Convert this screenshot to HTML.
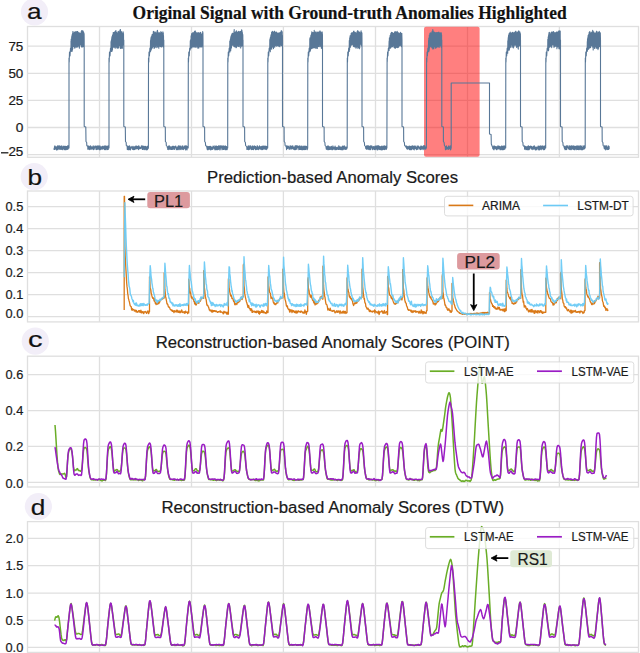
<!DOCTYPE html><html><head><meta charset="utf-8"><style>html,body{margin:0;padding:0;background:#fff;width:640px;height:653px;overflow:hidden}svg{display:block}text{font-family:"Liberation Sans",sans-serif;fill:#1a1a1a;stroke:#1a1a1a;stroke-width:0.2px}</style></head><body>
<svg width="640" height="653" viewBox="0 0 640 653">
<path d="M99.5 26.5V157.3M191.5 26.5V157.3M283.4 26.5V157.3M375.5 26.5V157.3M467.5 26.5V157.3M559.4 26.5V157.3M27.5 46.2H638.5M27.5 73.3H638.5M27.5 100.4H638.5M27.5 127.5H638.5M27.5 154.6H638.5" stroke="#dfdfdf" stroke-width="1.3" fill="none"/>
<rect x="27.5" y="26.5" width="611.0" height="130.8" fill="none" stroke="#dfdfdf" stroke-width="1.3"/>
<text x="23.3" y="50.7" font-size="12.2" text-anchor="end" textLength="14.9" lengthAdjust="spacingAndGlyphs" stroke="#1a1a1a" stroke-width="0.25">75</text>
<text x="23.3" y="77.8" font-size="12.2" text-anchor="end" textLength="14.9" lengthAdjust="spacingAndGlyphs" stroke="#1a1a1a" stroke-width="0.25">50</text>
<text x="23.3" y="104.9" font-size="12.2" text-anchor="end" textLength="14.9" lengthAdjust="spacingAndGlyphs" stroke="#1a1a1a" stroke-width="0.25">25</text>
<text x="23.3" y="132" font-size="12.2" text-anchor="end" textLength="7.6" lengthAdjust="spacingAndGlyphs" stroke="#1a1a1a" stroke-width="0.25">0</text>
<text x="23.3" y="156.3" font-size="12.2" text-anchor="end" textLength="14.9" lengthAdjust="spacingAndGlyphs" stroke="#1a1a1a" stroke-width="0.25">25</text>
<path d="M1 152.8H8.4" stroke="#1a1a1a" stroke-width="1.3"/>
<path d="M99.5 191.0V321.9M191.5 191.0V321.9M283.4 191.0V321.9M375.5 191.0V321.9M467.5 191.0V321.9M559.4 191.0V321.9M27.5 206.7H638.5M27.5 228.7H638.5M27.5 250.6H638.5M27.5 272.6H638.5M27.5 294.7H638.5M27.5 316.6H638.5" stroke="#dfdfdf" stroke-width="1.3" fill="none"/>
<rect x="27.5" y="191.0" width="611.0" height="130.89999999999998" fill="none" stroke="#dfdfdf" stroke-width="1.3"/>
<text x="23.3" y="211.2" font-size="12.2" text-anchor="end" textLength="17.8" lengthAdjust="spacingAndGlyphs" stroke="#1a1a1a" stroke-width="0.25">0.5</text>
<text x="23.3" y="233.2" font-size="12.2" text-anchor="end" textLength="17.8" lengthAdjust="spacingAndGlyphs" stroke="#1a1a1a" stroke-width="0.25">0.4</text>
<text x="23.3" y="255.1" font-size="12.2" text-anchor="end" textLength="17.8" lengthAdjust="spacingAndGlyphs" stroke="#1a1a1a" stroke-width="0.25">0.3</text>
<text x="23.3" y="277.1" font-size="12.2" text-anchor="end" textLength="17.8" lengthAdjust="spacingAndGlyphs" stroke="#1a1a1a" stroke-width="0.25">0.2</text>
<text x="23.3" y="299.2" font-size="12.2" text-anchor="end" textLength="17.8" lengthAdjust="spacingAndGlyphs" stroke="#1a1a1a" stroke-width="0.25">0.1</text>
<text x="23.3" y="318.4" font-size="12.2" text-anchor="end" textLength="17.8" lengthAdjust="spacingAndGlyphs" stroke="#1a1a1a" stroke-width="0.25">0.0</text>
<path d="M99.5 356.2V487.0M191.5 356.2V487.0M283.4 356.2V487.0M375.5 356.2V487.0M467.5 356.2V487.0M559.4 356.2V487.0M27.5 374.6H638.5M27.5 410.6H638.5M27.5 446.4H638.5M27.5 482.4H638.5" stroke="#dfdfdf" stroke-width="1.3" fill="none"/>
<rect x="27.5" y="356.2" width="611.0" height="130.8" fill="none" stroke="#dfdfdf" stroke-width="1.3"/>
<text x="23.3" y="379.1" font-size="12.2" text-anchor="end" textLength="17.8" lengthAdjust="spacingAndGlyphs" stroke="#1a1a1a" stroke-width="0.25">0.6</text>
<text x="23.3" y="415.1" font-size="12.2" text-anchor="end" textLength="17.8" lengthAdjust="spacingAndGlyphs" stroke="#1a1a1a" stroke-width="0.25">0.4</text>
<text x="23.3" y="450.9" font-size="12.2" text-anchor="end" textLength="17.8" lengthAdjust="spacingAndGlyphs" stroke="#1a1a1a" stroke-width="0.25">0.2</text>
<text x="23.3" y="488.2" font-size="12.2" text-anchor="end" textLength="17.8" lengthAdjust="spacingAndGlyphs" stroke="#1a1a1a" stroke-width="0.25">0.0</text>
<path d="M99.5 521.6V652.4M191.5 521.6V652.4M283.4 521.6V652.4M375.5 521.6V652.4M467.5 521.6V652.4M559.4 521.6V652.4M27.5 538.3H638.5M27.5 565.6H638.5M27.5 593.1H638.5M27.5 620.3H638.5M27.5 647.4H638.5" stroke="#dfdfdf" stroke-width="1.3" fill="none"/>
<rect x="27.5" y="521.6" width="611.0" height="130.79999999999995" fill="none" stroke="#dfdfdf" stroke-width="1.3"/>
<text x="23.3" y="542.8" font-size="12.2" text-anchor="end" textLength="17.8" lengthAdjust="spacingAndGlyphs" stroke="#1a1a1a" stroke-width="0.25">2.0</text>
<text x="23.3" y="570.1" font-size="12.2" text-anchor="end" textLength="17.8" lengthAdjust="spacingAndGlyphs" stroke="#1a1a1a" stroke-width="0.25">1.5</text>
<text x="23.3" y="597.6" font-size="12.2" text-anchor="end" textLength="17.8" lengthAdjust="spacingAndGlyphs" stroke="#1a1a1a" stroke-width="0.25">1.0</text>
<text x="23.3" y="624.8" font-size="12.2" text-anchor="end" textLength="17.8" lengthAdjust="spacingAndGlyphs" stroke="#1a1a1a" stroke-width="0.25">0.5</text>
<text x="23.3" y="651.7" font-size="12.2" text-anchor="end" textLength="17.8" lengthAdjust="spacingAndGlyphs" stroke="#1a1a1a" stroke-width="0.25">0.0</text>
<circle cx="34.5" cy="11.8" r="13.6" fill="#f2eef8"/>
<text x="26.9" y="18.6" font-size="22.8" textLength="14.6" lengthAdjust="spacingAndGlyphs" style="fill:#111">a</text>
<circle cx="34.2" cy="176.6" r="13.6" fill="#f2eef8"/>
<text x="27.4" y="185" font-size="22.8" textLength="14.6" lengthAdjust="spacingAndGlyphs" style="fill:#111">b</text>
<circle cx="35.3" cy="341.2" r="13.6" fill="#f2eef8"/>
<text x="28.0" y="346.9" font-size="22.8" textLength="14.6" lengthAdjust="spacingAndGlyphs" style="fill:#111">c</text>
<circle cx="38.4" cy="506.5" r="13.6" fill="#f2eef8"/>
<text x="30.8" y="514.7" font-size="22.8" textLength="14.6" lengthAdjust="spacingAndGlyphs" style="fill:#111">d</text>
<text x="132.6" y="18.6" font-size="18" textLength="434" lengthAdjust="spacingAndGlyphs" style="font-family:'Liberation Serif',serif;font-weight:bold;fill:#111">Original Signal with Ground-truth Anomalies Highlighted</text>
<text x="207" y="182.9" font-size="16" textLength="251" lengthAdjust="spacingAndGlyphs">Prediction-based Anomaly Scores</text>
<text x="155.7" y="348.1" font-size="16" textLength="354" lengthAdjust="spacingAndGlyphs">Reconstruction-based Anomaly Scores (POINT)</text>
<text x="161.5" y="513.1" font-size="16" textLength="342.5" lengthAdjust="spacingAndGlyphs">Reconstruction-based Anomaly Scores (DTW)</text>
<rect x="424" y="26.8" width="55.6" height="130" rx="2" fill="#ff0000" fill-opacity="0.5"/>
<polyline points="54,148.3 54.1,149.5 54.3,149 54.5,146.6 54.6,147 54.8,149.4 54.9,145.7 55,149.1 55.2,149 55.4,147.7 55.5,147 55.6,146.9 55.8,146.8 56,147.6 56.1,147.8 56.2,148 56.4,149.9 56.5,149 56.7,148.3 56.9,149.9 57,146.6 57.1,146.4 57.3,148.3 57.5,145.9 57.6,145.8 57.8,147.9 57.9,147.7 58,149.6 58.2,148.3 58.4,147.9 58.5,147.8 58.6,146.7 58.8,145.7 59,146.5 59.1,148.6 59.2,146.5 59.4,147.3 59.5,145.7 59.7,149.2 59.9,146.3 60,146.8 60.1,149.4 60.3,147.8 60.5,149.3 60.6,148.4 60.8,148.8 60.9,146.1 61,148 61.2,147.8 61.4,149.4 61.5,147.2 61.6,148.2 61.8,145.9 62,147.3 62.1,147.1 62.2,146.3 62.4,149.1 62.5,147.3 62.7,149.8 62.9,148.2 63,148.2 63.1,148.4 63.3,148.5 63.5,146.3 63.6,147.5 63.8,146.7 63.9,147.4 64,146.1 64.2,149.8 64.3,146.6 64.5,148.5 64.7,147 64.8,149.4 65,148.5 65.1,146.3 65.2,149.2 65.4,149.7 65.5,149.5 65.7,148.1 65.8,146.3 66,146.5 66.2,149.6 66.3,148 66.5,146.5 66.6,149.4 66.8,148.4 66.9,148.1 67,147.3 67.2,147.4 67.3,146.7 67.5,145.9 67.7,149.4 67.8,147.7 68,148 68.1,147.1 68.2,148.9 68.4,145.8 68.5,147.3 69,148 69,58 69.2,62 69.5,52 70,56 70.5,48 71,50 71,50 71,41 71.2,51.3 71.2,39.1 71.4,49.8 71.5,39.2 71.5,48.8 71.7,36.8 71.8,48.6 71.9,35.7 72,51.5 72,35.9 72.2,48.1 72.2,34.6 72.4,49.4 72.5,33.8 72.5,49.9 72.7,33.1 72.8,48.5 72.9,31.5 73,44.7 73,31.5 73.2,45.5 73.2,33.3 73.4,46.4 73.5,33.3 73.5,46.1 73.7,33.9 73.8,46.4 73.9,33.7 74,46.1 74,32.8 74.2,46.2 74.2,32.8 74.4,45.3 74.5,32.1 74.5,47.3 74.7,32.6 74.8,48.3 74.9,33.4 75,46.3 75,32.8 75.2,46.7 75.2,32.5 75.4,45.2 75.5,31.7 75.5,45.7 75.7,31.9 75.8,45.4 75.9,32.2 76,47.2 76,32.4 76.2,44.5 76.2,32.3 76.4,47.3 76.5,31.7 76.5,45.1 76.7,31.9 76.8,46 76.9,32.3 77,46.3 77,31.6 77.2,45.4 77.2,31.5 77.4,46.2 77.5,31.6 77.5,46.9 77.7,32.3 77.8,44.5 77.9,31.9 78,46 78,32.9 78.2,44.2 78.2,32.9 78.4,45.8 78.5,34.3 78.5,44.7 78.7,32.9 78.8,44.2 78.9,33.7 79,47.1 79,32.6 79.2,45.8 79.2,33.8 79.4,48.2 79.5,34.2 79.5,47 79.7,33.4 79.8,44.7 79.9,34.4 80,43.9 80,34.6 80.2,44.5 80.2,34.1 80.4,44.5 80.5,33.3 80.6,44.2 80.7,34.1 80.8,44.6 80.9,32.9 81,45.6 81.1,32.4 81.2,46.3 81.2,31.6 81.4,46.3 81.5,32.8 81.6,46.9 81.7,30.6 81.8,45 81.9,32.2 82,43 82.1,32 82.2,43.7 82.2,30.5 82.4,47 82.5,32.8 82.6,45.5 82.7,31.8 82.8,45.5 82.9,31.9 83,44.7 83.1,31 83.2,45.8 83.2,32.6 83.4,46.6 83.5,32.4 83.6,44.3 83.7,32.4 83.8,45.2 83.9,34 84,44.7 84.1,33.6 84.2,40 84.2,126.5 85.8,127 86,141.5 86.7,142.5 86.8,145.5 87.8,146.5 87.8,149.3 88,147.4 88.1,145.7 88.3,149 88.4,146.7 88.6,146.3 88.8,149.1 88.9,148.6 89,146.6 89.2,146.8 89.3,149.6 89.5,146.8 89.6,148.7 89.8,146.2 89.9,149.1 90.1,146.2 90.2,147.9 90.4,145.8 90.5,148 90.7,149.3 90.8,146.1 91,146.9 91.1,148.9 91.3,148.3 91.4,147 91.6,148.3 91.8,147.6 91.9,149.3 92,146.9 92.2,148.9 92.3,148.4 92.5,148.8 92.6,147.3 92.8,148.7 92.9,148.6 93.1,147.3 93.2,145.8 93.4,149.7 93.5,148.7 93.7,146.6 93.8,148.8 94,146.9 94.1,147.7 94.3,149.3 94.4,147.6 94.6,146.9 94.8,147 94.9,146 95,146.6 95.2,146.8 95.3,146.4 95.5,146 95.6,147.7 95.8,146.6 95.9,148.8 96.1,149.6 96.2,146.8 96.4,148.1 96.5,147.8 96.7,146 96.8,146.2 97,149.4 97.1,147.7 97.3,149.1 97.4,146 97.6,148.2 97.8,149.3 97.9,149.3 98,145.7 98.2,147.9 98.3,147.2 98.5,148.9 98.6,146 98.8,146.8 98.9,149.1 99.1,147.7 99.2,147.6 99.4,149.8 99.5,147 99.7,145.9 99.8,147.3 100,146.3 100.1,146 100.3,148.1 100.4,149.7 100.6,148.1 100.8,148.4 100.9,147.1 101,148.1 101.2,148.9 101.3,148.2 101.5,149.1 101.6,148 101.8,146.5 101.9,148.1 102.1,147.8 102.2,146.4 102.4,148.3 102.5,149.1 102.7,146.3 102.8,148 103,148.8 103.1,147.4 103.3,146.8 103.4,147.3 103.6,148 103.8,148.6 103.9,148 104,146.1 104.2,149.1 104.3,149.6 104.5,146.1 104.6,146.7 104.8,146.4 104.9,149.3 105.1,149.5 105.2,145.9 105.4,147.1 105.5,146.5 105.7,147.7 105.8,149.6 106,146 106.1,146.4 106.3,147.7 106.4,147.9 106.6,148.8 106.8,147.5 106.9,146.3 107,147.2 107.2,149.8 107.3,148.9 107.5,146.2 107.6,149.1 107.8,147 107.9,149 108.1,145.8 108.2,149.4 108.4,146.4 108.5,147.6 109,148 109,58 109.2,62 109.5,52 110,56 110.5,48 111,50 111,48.7 111,41.8 111.2,49.2 111.2,40.8 111.4,51.5 111.5,39.7 111.5,50.9 111.7,38.5 111.8,50.9 111.9,36.8 112,51.3 112,36.8 112.2,50.8 112.2,36.7 112.4,49 112.5,35 112.5,49.6 112.7,36 112.8,47.5 112.9,35.7 113,45.4 113,34.3 113.2,44.6 113.2,32.5 113.4,45.9 113.5,32.5 113.5,45 113.7,33.9 113.8,47.1 113.9,32.9 114,43.5 114,34.2 114.2,44.5 114.2,33.5 114.4,44.9 114.5,32.1 114.5,47.2 114.7,32.3 114.8,44.9 114.9,31.7 115,44.8 115,32.7 115.2,48.3 115.2,32.8 115.4,45.7 115.5,31 115.5,47.1 115.7,33.3 115.8,47 115.9,30.5 116,46.5 116,30.7 116.2,44.8 116.2,32.2 116.4,47.2 116.5,32.2 116.5,46.7 116.7,33.3 116.8,47.1 116.9,33.7 117,45.2 117,34.6 117.2,48.3 117.2,33.2 117.4,48 117.5,34.5 117.5,46.1 117.7,32.8 117.8,47.9 117.9,31.7 118,47.5 118,33.2 118.2,45.8 118.2,32.7 118.4,45.2 118.5,32 118.5,48 118.7,31.2 118.8,47.4 118.9,32.8 119,44.1 119,33.1 119.2,43.6 119.2,32.6 119.4,43.8 119.5,34.2 119.5,45.7 119.7,32.3 119.8,44.8 119.9,30.1 120,45.4 120,30.7 120.2,44.8 120.2,30.6 120.4,48.4 120.5,29.5 120.6,47 120.7,32.5 120.8,47.2 120.9,31.4 121,44 121.1,33.7 121.2,48 121.2,33 121.4,47.1 121.5,34 121.6,47.2 121.7,31.9 121.8,47.6 121.9,33 122,48.4 122.1,34 122.2,48.3 122.2,35.8 122.4,48.1 122.5,33.7 122.6,44.4 122.7,33.4 122.8,42.8 122.9,33.7 123,45 123.1,31.7 123.2,42.7 123.2,32.1 123.4,43.8 123.5,33.5 123.6,44.5 123.8,40 123.8,126.5 125.3,127 125.5,141.5 126.2,142.5 126.3,145.5 127.2,146.5 127.3,149.5 127.5,146.2 127.6,147.9 127.8,145.9 127.9,149.6 128.1,146.4 128.2,147.4 128.4,148 128.5,148.7 128.7,149.6 128.8,148.8 129,147.2 129.2,146 129.3,148.7 129.4,149.8 129.6,145.8 129.8,149 129.9,146.4 130,147.6 130.2,147.9 130.3,148.3 130.5,149.9 130.7,148.6 130.8,147.3 130.9,148.7 131.1,147.7 131.2,147.4 131.4,147.2 131.5,147.8 131.7,146.9 131.8,146.7 132,146.3 132.2,147.5 132.3,146.9 132.4,149.2 132.6,149.3 132.8,147.1 132.9,148.3 133,149.5 133.2,147.2 133.3,148 133.5,147.6 133.7,148.4 133.8,149.7 133.9,146.3 134.1,149.8 134.2,148.5 134.4,149 134.5,148.4 134.7,149.4 134.8,147.1 135,148.7 135.2,146.8 135.3,147.8 135.4,148.6 135.6,146.5 135.8,146 135.9,149 136,149.1 136.2,148.5 136.3,147.1 136.5,148.5 136.7,146.1 136.8,148.5 136.9,148.1 137.1,148.3 137.2,147.6 137.4,146.6 137.5,148.7 137.7,147.6 137.8,148.8 138,147.2 138.2,146.1 138.3,148 138.4,148.3 138.6,149.6 138.8,149.4 138.9,145.9 139,148.9 139.2,146.8 139.3,148.6 139.5,147.3 139.7,147.1 139.8,147.8 139.9,147.9 140.1,148.6 140.2,148.4 140.4,148.5 140.5,147.3 140.7,148.5 140.8,147.2 141,148.3 141.2,147.6 141.3,148.1 141.4,145.8 141.6,147.8 141.8,146.6 141.9,147.3 142,146 142.2,148.5 142.3,149.5 142.5,147.2 142.7,146.1 142.8,148.3 142.9,146.2 143.1,149.4 143.2,146.2 143.4,147.2 143.5,147.8 143.7,146.2 143.8,147 144,146.9 144.2,148.7 144.3,149.8 144.4,147.2 144.6,149 144.8,146.3 144.9,148.1 145,147.5 145.2,146.9 145.3,149.2 145.5,148.8 145.7,146.3 145.8,146.9 145.9,149.1 146.1,149.9 146.2,148.3 146.4,149.4 146.5,149.8 146.7,148.8 146.8,148.4 147,146.6 147.2,147.3 147.3,148.3 147.4,149.6 147.6,147 147.8,147.4 147.9,145.8 148,148.6 148.4,148 148.5,58 148.8,62 149,52 149.4,56 149.9,48 150.4,50 150.4,51.7 150.5,40.6 150.6,50 150.8,39.1 150.8,50.7 150.9,38.2 151,49.9 151.1,37.1 151.2,49.5 151.3,36.9 151.4,49.2 151.5,36.5 151.6,47.8 151.8,37.5 151.8,47.4 151.9,35.6 152,47.4 152.1,34.6 152.2,47.6 152.3,36.4 152.4,48 152.5,34.2 152.6,46.2 152.8,36.3 152.8,43.6 152.9,35 153,45 153.1,34.9 153.2,44.4 153.3,31.6 153.4,46.4 153.5,33.1 153.6,46.3 153.8,32.6 153.8,45.9 153.9,31.4 154,48.2 154.1,32.5 154.2,44.5 154.3,32.8 154.4,48.2 154.5,33.5 154.6,47.4 154.8,32.5 154.8,47.4 154.9,33.1 155,45.5 155.1,33.6 155.2,47.2 155.3,32.1 155.4,44.7 155.5,32.7 155.6,46.8 155.8,32.7 155.8,43.1 155.9,34.5 156,44.1 156.1,35 156.2,43.5 156.3,35.5 156.4,44.6 156.5,34.2 156.6,45.3 156.8,33 156.8,47.6 156.9,32 157,45.9 157.1,30.9 157.2,47.1 157.3,30.8 157.4,45.7 157.5,30.4 157.6,43.9 157.8,31.9 157.8,44.3 157.9,32.4 158,46.7 158.1,33.9 158.2,45.5 158.3,34.1 158.4,46.4 158.5,34.1 158.6,45 158.8,34.1 158.8,48.3 158.9,32.7 159,44.8 159.1,34 159.2,46.2 159.3,32.6 159.4,45.8 159.5,33.9 159.6,45.4 159.8,34.7 159.8,43.7 159.9,33.9 160,43.3 160.1,33.3 160.2,46.5 160.3,34.4 160.4,43.5 160.5,33 160.6,44.2 160.8,31.7 160.8,46.1 160.9,31.8 161,44.3 161.1,33.5 161.2,47.1 161.3,33.2 161.4,46.7 161.5,32.2 161.6,45.2 161.8,33.4 161.8,43.8 161.9,34.2 162,45.6 162.1,33.3 162.2,46.2 162.3,33.8 162.4,45 162.5,34.3 162.6,45.3 162.8,32.8 162.8,45.4 162.9,31.7 163,45.7 163.1,33.4 163.2,46.9 163.3,32.8 163.4,46.4 163.5,35.5 163.6,45.9 163.8,40 163.8,126.5 165.3,127 165.4,141.5 166.2,142.5 166.3,145.5 167.2,146.5 167.3,147.3 167.5,148.1 167.7,148 167.8,149.5 167.9,149.2 168.1,148.8 168.2,149.6 168.4,146 168.5,148.9 168.7,147.6 168.8,148.9 169,146.9 169.2,147.7 169.3,149.2 169.4,145.8 169.6,146.9 169.8,147.8 169.9,149.3 170,146.8 170.2,149.2 170.3,146.7 170.5,147 170.7,148 170.8,148.4 170.9,149.4 171.1,149.4 171.2,146.8 171.4,148.8 171.5,148.4 171.7,147.3 171.8,149 172,149.5 172.2,147.7 172.3,149.5 172.4,146.2 172.6,146.4 172.8,148.9 172.9,147 173,148.2 173.2,147.8 173.3,146.3 173.5,148.9 173.7,148.8 173.8,146.3 173.9,146.8 174.1,149.1 174.2,149.5 174.4,149.4 174.5,147.8 174.7,147.2 174.8,147.6 175,146.4 175.2,147.8 175.3,146.7 175.4,146.4 175.6,147.3 175.8,146 175.9,147.7 176,148.6 176.2,148.4 176.3,149.8 176.5,149.4 176.7,148.4 176.8,149.5 176.9,147.6 177.1,149.1 177.2,146.9 177.4,147.9 177.5,149.8 177.7,148.2 177.8,147.8 178,149 178.2,147 178.3,149.2 178.4,145.8 178.6,146.7 178.8,146.4 178.9,146.8 179,149.7 179.2,145.8 179.3,147 179.5,148.1 179.7,148.7 179.8,148.9 179.9,147.3 180.1,146.6 180.2,149.3 180.4,146.2 180.5,146 180.7,146.7 180.8,147.8 181,149.7 181.2,148.8 181.3,148.1 181.4,147.9 181.6,148.6 181.8,148.3 181.9,147.1 182,146.1 182.2,146.5 182.3,149 182.5,148.4 182.7,149 182.8,145.9 182.9,149.5 183.1,147.3 183.2,149.6 183.4,148.2 183.5,148 183.7,149.1 183.8,148.3 184,148.5 184.2,146.4 184.3,148.2 184.4,147.2 184.6,146 184.8,146.3 184.9,147.7 185,146.8 185.2,148.9 185.3,146.2 185.5,145.8 185.7,149.9 185.8,147 185.9,147.8 186.1,146.6 186.2,146.6 186.4,147.4 186.5,149 186.7,145.9 186.8,149.2 187,149.9 187.2,148 187.3,147.2 187.4,146.7 187.6,146.5 187.8,147.1 188.2,148 188.3,58 188.5,62 188.8,52 189.2,56 189.7,48 190.2,50 190.2,47.9 190.3,40.8 190.4,48.5 190.5,40.5 190.6,47.4 190.7,39.5 190.8,47.5 190.9,39.9 191,48.3 191.1,35.9 191.2,46.9 191.3,36.5 191.4,46.4 191.5,34.5 191.6,47.6 191.7,33.5 191.8,45 191.9,34.8 192,47.7 192.1,34.6 192.2,44.2 192.3,34.1 192.4,46.7 192.5,33.8 192.6,46.6 192.7,32.8 192.8,45.6 192.9,33 193,44.5 193.1,32.4 193.2,45.5 193.3,35.4 193.4,43.5 193.5,35.1 193.6,46.9 193.7,33.3 193.8,45.4 193.9,34.5 194,46.8 194.1,32.9 194.2,47 194.3,33.9 194.4,45.1 194.5,31.6 194.6,46.3 194.7,31.9 194.8,47 194.9,32.1 195,46.4 195.1,30.9 195.2,45.2 195.3,31.8 195.4,45.3 195.5,31.5 195.6,46.5 195.7,32 195.8,45.9 195.9,32.9 196,47.4 196.1,32.6 196.2,47.1 196.3,34 196.4,43.4 196.5,34.7 196.6,45.5 196.7,33.4 196.8,46.2 196.9,34.8 197,45.6 197.1,34.4 197.2,46 197.3,32.7 197.4,45.9 197.5,33.5 197.6,47.1 197.7,33.6 197.8,48.1 197.9,33.1 198,47.7 198.1,34.1 198.2,46.9 198.3,34.7 198.4,46.4 198.5,34.2 198.6,47.9 198.7,32.5 198.8,48.1 198.9,34.1 199,47.5 199.1,33.3 199.2,44.9 199.3,33.2 199.4,43.8 199.5,33.7 199.6,43.7 199.7,33.4 199.8,46.3 199.9,33.2 200,46.5 200.1,32.8 200.2,45.6 200.3,34.7 200.4,46.9 200.5,33.6 200.6,45.4 200.7,32.4 200.8,46.5 200.9,33.4 201,45.5 201.1,33.7 201.2,44.6 201.3,33.7 201.4,44.9 201.5,34.4 201.6,46.9 201.7,35.2 201.8,47 201.9,34.5 202,43.8 202.1,35.1 202.2,45.7 202.3,34.2 202.4,44.7 202.5,33.4 202.6,45.1 202.7,31.5 202.8,44.6 202.9,32.5 203,40 203,126.5 204.6,127 204.7,141.5 205.4,142.5 205.6,145.5 206.5,146.5 206.6,146 206.8,146.7 206.9,147.9 207,148.2 207.2,149.4 207.3,149.3 207.5,149.8 207.7,149.4 207.8,147.6 207.9,146.3 208.1,149.7 208.2,146.7 208.4,148.3 208.5,146.8 208.7,149.1 208.8,146.5 209,147.5 209.2,146.6 209.3,149.3 209.4,148.3 209.6,148.3 209.8,147 209.9,146.4 210,149.3 210.2,148.9 210.3,148.8 210.5,149.9 210.7,148.1 210.8,146.4 210.9,148.3 211.1,146.9 211.2,147.9 211.4,147.6 211.5,148.1 211.7,149.6 211.8,149.1 212,147.4 212.2,149.1 212.3,149.3 212.4,149 212.6,148 212.8,149.5 212.9,147.8 213,146.1 213.2,146.8 213.3,148.5 213.5,147.3 213.7,147.5 213.8,147.4 213.9,146.5 214.1,146.1 214.2,145.9 214.4,148.5 214.5,147.1 214.7,147.6 214.8,149.6 215,148.3 215.2,149.1 215.3,148.9 215.4,149.7 215.6,146 215.8,147.3 215.9,149.7 216,147.7 216.2,149.7 216.3,146.5 216.5,146 216.7,149.5 216.8,147.4 216.9,147.8 217.1,149.6 217.2,146.6 217.4,149.8 217.5,147.4 217.7,146.7 217.8,146.7 218,147.9 218.2,147.7 218.3,149.4 218.4,145.9 218.6,145.9 218.8,146.3 218.9,148.2 219,149 219.2,147.7 219.3,148.3 219.5,148.4 219.7,145.8 219.8,146.7 219.9,149.9 220.1,147.1 220.2,149.7 220.4,147.8 220.5,146.6 220.7,145.7 220.8,146.6 221,147.1 221.2,147.5 221.3,147.6 221.4,148 221.6,147.7 221.8,145.8 221.9,146.8 222,149.7 222.2,145.8 222.3,148.8 222.5,147.7 222.7,148.7 222.8,147.1 222.9,147.3 223.1,147.9 223.2,149.5 223.4,147.1 223.5,146.1 223.7,145.9 223.8,149.4 224,147 224.2,146.2 224.3,148.2 224.4,149.2 224.6,148.2 224.8,146.3 224.9,147.4 225,146.8 225.2,145.8 225.3,149.8 225.5,147.6 225.7,146.3 225.8,149.4 225.9,149.8 226.1,149.1 226.2,146.8 226.4,146.5 226.5,147.9 226.7,148.2 226.8,149.4 227,149.8 227.2,149.5 227.3,147.1 227.7,148 227.8,58 228,62 228.3,52 228.7,56 229.2,48 229.7,50 229.7,50.6 229.8,41.1 229.9,51.9 230,41.3 230.1,50.3 230.2,41.4 230.3,48.5 230.4,39.1 230.5,49.5 230.6,38.6 230.7,50.7 230.8,36.7 230.9,48.2 231,38.1 231.1,48.7 231.2,36 231.3,45.6 231.4,35.1 231.5,47.4 231.6,35 231.7,45.5 231.8,35 231.9,44.7 232,34.1 232.1,43 232.2,33.4 232.3,45.3 232.4,34.4 232.5,44.4 232.6,34 232.7,44.7 232.8,33.4 232.9,43.2 233,34.5 233.1,45.2 233.2,35 233.3,44.9 233.4,34.5 233.5,44 233.6,34 233.7,45.5 233.8,32.7 233.9,46.4 234,31.1 234.1,45.2 234.2,29.6 234.3,45.5 234.4,32.3 234.5,44 234.6,32.9 234.7,44.9 234.8,33.1 234.9,46.9 235,32.5 235.1,45.1 235.2,35.4 235.3,46.2 235.4,35.2 235.5,45.5 235.6,32 235.7,46.7 235.8,33.6 235.9,45.9 236,33 236.1,47.7 236.2,31 236.3,45.5 236.4,30.8 236.5,47.2 236.6,32.4 236.7,46.8 236.8,32.6 236.9,46.5 237,33 237.1,45.9 237.2,32.4 237.3,43.4 237.4,32.7 237.5,42.7 237.6,33.1 237.7,43.6 237.8,33 237.9,44.9 238,33.4 238.1,46.1 238.2,31.3 238.3,45.5 238.4,33.4 238.5,45.2 238.6,33.7 238.7,46.4 238.8,32 238.9,45 239,32 239.1,43.6 239.2,31.6 239.3,46.7 239.4,32 239.5,44.3 239.6,31.7 239.7,43.3 239.8,32.6 239.9,44 240,32.3 240.1,45 240.2,31.9 240.3,44.5 240.4,31.8 240.5,45.5 240.6,31.9 240.7,48 240.8,32.9 240.9,45.5 241,32.5 241.1,46.5 241.2,31.1 241.3,43.9 241.4,31.2 241.5,45.4 241.6,29.7 241.7,44.6 241.8,30.1 241.9,46 242,30.8 242.1,45.3 242.2,32.7 242.3,45.6 242.4,32.5 242.5,44.2 242.6,34.5 242.7,45.4 242.8,34.5 242.9,46 243,40 243,126.5 244.6,127 244.7,141.5 245.4,142.5 245.6,145.5 246.5,146.5 246.6,146.7 246.8,146.7 246.9,149.5 247,149.1 247.2,149.5 247.3,149.2 247.5,149.1 247.7,147.5 247.8,148.9 247.9,146.4 248.1,148.5 248.2,145.9 248.4,149.8 248.5,149.4 248.7,146.4 248.8,148.9 249,149.2 249.2,145.9 249.3,148.1 249.4,147.5 249.6,148.3 249.8,149.4 249.9,148.7 250,146.6 250.2,148 250.3,148.1 250.5,145.7 250.7,146.3 250.8,147.2 250.9,146.4 251.1,146.7 251.2,148.5 251.4,149.7 251.5,147.6 251.7,148.4 251.8,148.9 252,148.5 252.2,148.5 252.3,145.7 252.4,149.4 252.6,146.4 252.8,146.5 252.9,147.8 253,148.2 253.2,148.9 253.3,146.9 253.5,149.7 253.7,148.3 253.8,149.2 253.9,147.7 254.1,146 254.2,145.8 254.4,148.4 254.5,147.5 254.7,147.6 254.8,147.1 255,146.4 255.2,147.7 255.3,146.8 255.4,149.4 255.6,146.5 255.8,149.8 255.9,149.3 256.1,147.3 256.2,148.9 256.4,148.1 256.5,147.7 256.6,149.1 256.8,149.2 256.9,146.5 257.1,149.5 257.2,145.8 257.4,145.7 257.6,147.7 257.7,147 257.9,147.5 258,147.7 258.1,147.7 258.3,149.5 258.4,149.6 258.6,147.2 258.8,146.9 258.9,148.4 259.1,146.5 259.2,147.4 259.4,148.7 259.5,145.7 259.6,148.9 259.8,148.8 259.9,147.3 260.1,146.7 260.2,148 260.4,146.9 260.6,149.1 260.7,148.2 260.9,147 261,149.1 261.1,148.3 261.3,146.3 261.4,147.4 261.6,147.8 261.8,149.7 261.9,147 262.1,147.6 262.2,149.8 262.4,147.5 262.5,149.2 262.6,146.1 262.8,147.4 262.9,146.5 263.1,149.4 263.2,148 263.4,146.6 263.6,146.1 263.7,147.5 263.9,146.1 264,147.7 264.1,148.8 264.3,147 264.4,146.4 264.6,147.2 264.8,146.4 264.9,149.2 265.1,146.1 265.2,148.8 265.4,147.1 265.5,148.8 265.6,148.9 265.8,146.3 265.9,148.9 266.1,149.7 266.2,148.1 266.4,148.4 266.6,147.1 266.7,146.4 266.9,148.8 267,149.1 267.1,146.6 267.3,146.2 267.7,148 267.8,58 268,62 268.3,52 268.7,56 269.2,48 269.7,50 269.7,50.4 269.8,39.7 269.9,48.9 270,38.9 270.1,49.4 270.2,38.6 270.3,51.8 270.4,37.3 270.5,48.9 270.6,38.1 270.7,48 270.8,35.9 270.9,48.4 271,34.8 271.1,47.1 271.2,34.7 271.3,47.2 271.4,34.3 271.5,47.5 271.6,32.3 271.7,49.3 271.8,32.6 271.9,44.9 272,33.1 272.1,46.8 272.2,31.7 272.3,45.4 272.4,31.2 272.5,45.8 272.6,32.1 272.7,44.9 272.8,32.8 272.9,46.2 273,33.8 273.1,47.4 273.2,32.1 273.3,45.5 273.4,32.9 273.5,48.6 273.6,33.7 273.7,46.6 273.8,32.7 273.9,44.2 274,31.8 274.1,44.4 274.2,31.9 274.3,44.5 274.4,32.3 274.5,43.6 274.6,31.3 274.7,47.3 274.8,31.3 274.9,46.1 275,33.9 275.1,45.9 275.2,32.7 275.3,44.4 275.4,32.6 275.5,45.8 275.6,33.9 275.7,45.3 275.8,33.9 275.9,45.3 276,33.1 276.1,44.7 276.2,34 276.3,45.1 276.4,34.7 276.5,44.9 276.6,32 276.7,46.3 276.8,33.1 276.9,45.1 277,33.4 277.1,45.5 277.2,33.2 277.3,44.1 277.4,33.2 277.5,43.4 277.6,34.1 277.7,45.6 277.8,34.1 277.9,43.8 278,34.2 278.1,44.3 278.2,32.9 278.3,46 278.4,35.2 278.5,45.9 278.6,33.2 278.7,43.6 278.8,34.7 278.9,46.3 279,33.6 279.1,45.1 279.2,33.2 279.3,46 279.4,33.4 279.5,44.9 279.6,33 279.7,45 279.8,32.6 279.9,46.7 280,33.7 280.1,43.4 280.2,33.3 280.3,44.5 280.4,32.3 280.5,43.8 280.6,32.5 280.7,45.1 280.8,31.9 280.9,44.1 281,31.9 281.1,44.1 281.2,30.7 281.3,43.6 281.4,31.8 281.5,45.8 281.6,30.9 281.7,45.6 281.8,31.7 281.9,45.1 282,32 282.1,43.8 282.2,31.9 282.3,44.8 282.4,35 282.5,40 282.5,126.5 284.1,127 284.2,141.5 284.9,142.5 285.1,145.5 286,146.5 286.1,146.3 286.2,146 286.4,148 286.6,149.7 286.7,145.9 286.9,148.4 287,145.8 287.2,148 287.3,146.2 287.5,148.5 287.6,147.2 287.8,148.4 287.9,146.8 288.1,146 288.2,146.5 288.4,146.9 288.5,146.4 288.7,146.5 288.8,148 289,147.5 289.1,149.2 289.2,147.8 289.4,148 289.6,148.7 289.7,149.3 289.9,148.2 290,145.9 290.2,147.6 290.3,145.8 290.5,148.2 290.6,146 290.8,148 290.9,146.3 291.1,149.3 291.2,146.1 291.4,148.5 291.5,148.7 291.7,146.9 291.8,148.2 292,147.1 292.1,146.8 292.2,146.8 292.4,145.8 292.6,148.5 292.7,146 292.9,146.5 293,146.1 293.2,149.1 293.3,147.9 293.5,147.7 293.6,148.1 293.8,149.1 293.9,148.3 294.1,147.9 294.2,147 294.4,147.9 294.5,149.8 294.7,148.1 294.8,147.7 295,149.4 295.1,145.9 295.2,146 295.4,149 295.6,149.7 295.7,145.9 295.9,145.8 296,145.7 296.2,148.1 296.3,146.3 296.5,148.1 296.6,148.5 296.8,145.8 296.9,149.4 297.1,146.8 297.2,148 297.4,147.2 297.5,147.1 297.7,147.4 297.8,145.7 298,147.5 298.1,146.8 298.2,147.2 298.4,146.4 298.6,147.1 298.7,148.6 298.9,149.8 299,146.5 299.2,149.3 299.3,148.3 299.5,146.1 299.6,145.8 299.8,149.4 299.9,146.7 300.1,146.1 300.2,148.5 300.4,148.7 300.5,149.5 300.7,147.8 300.8,147 301,147 301.1,146.6 301.2,148.4 301.4,149.7 301.6,146.1 301.7,147.3 301.9,147.2 302,146 302.2,148.2 302.3,149.8 302.5,146.9 302.6,148.8 302.8,149.5 302.9,146.8 303.1,149.6 303.2,148.8 303.4,148.4 303.5,146.5 303.7,146.9 303.8,146.1 304,149.5 304.1,149.1 304.2,146.1 304.4,147.9 304.6,146.6 304.7,148.9 304.9,148.1 305,149.7 305.2,148.8 305.3,146.1 305.5,147.3 305.6,148.1 305.8,149.5 305.9,147.3 306.1,146.5 306.2,146.9 306.4,146.7 306.5,146.3 306.7,147.1 306.8,146.7 307,147.8 307.1,149.5 307.2,149.7 307.7,148 307.8,58 308,62 308.3,52 308.7,56 309.2,48 309.7,50 309.7,51.7 309.8,38.7 309.9,51 310,37.8 310.1,50.2 310.2,39.3 310.3,50.9 310.4,37.7 310.5,50 310.6,38.4 310.7,48.9 310.8,35.8 310.9,48.9 311,35 311.1,48.5 311.2,35.6 311.3,46.8 311.4,35.1 311.5,46.1 311.6,33.4 311.7,48.5 311.8,31.8 311.9,47.4 312,33.9 312.1,45.7 312.2,34.7 312.3,45.9 312.4,34 312.5,48.1 312.6,32.6 312.7,47.8 312.8,34.1 312.9,45.7 313,33.1 313.1,46.6 313.2,32.6 313.3,47.6 313.4,34.6 313.5,47.4 313.6,33 313.7,47.1 313.8,33.6 313.9,47.4 314,33.3 314.1,47.9 314.2,30.4 314.3,45.6 314.4,33.4 314.5,44.9 314.6,31.7 314.7,47.5 314.8,33.6 314.9,45.5 315,34.4 315.1,47.3 315.2,32.9 315.3,45.2 315.4,32.3 315.5,44.6 315.6,32.2 315.7,45.3 315.8,34 315.9,48.4 316,31.8 316.1,48 316.2,34.8 316.3,46.4 316.4,34.1 316.5,47 316.6,33.8 316.7,46 316.8,32.8 316.9,45.8 317,33.1 317.1,45.4 317.2,34.1 317.3,48.4 317.4,32.9 317.5,45.3 317.6,32 317.7,44.5 317.8,33 317.9,46.8 318,33 318.1,46.2 318.2,32.5 318.3,45.9 318.4,32.6 318.5,46.5 318.6,32.1 318.7,44.5 318.8,32.2 318.9,43.5 319,32.8 319.1,44.8 319.2,32.3 319.3,44 319.4,31.8 319.5,42.3 319.6,32.8 319.7,46.6 319.8,31.4 319.9,43.6 320,30.9 320.1,44.2 320.2,31.4 320.3,46.2 320.4,33.6 320.5,44.4 320.6,34.2 320.7,45.2 320.8,32.4 320.9,45.6 321,33.7 321.1,45.3 321.2,33.1 321.3,48.1 321.4,32.9 321.5,44.8 321.6,33.9 321.7,46.6 321.8,32.6 321.9,48.4 322,31.9 322.1,44.9 322.2,32 322.3,48.8 322.4,33.7 322.5,40 322.5,126.5 324.1,127 324.2,141.5 324.9,142.5 325.1,145.5 326,146.5 326.1,148.3 326.2,147.5 326.4,149.4 326.6,148.7 326.7,147.5 326.9,146.9 327,146.3 327.2,147 327.3,147.2 327.5,146 327.6,149.6 327.8,146.8 327.9,148 328.1,146 328.2,148 328.4,148.4 328.5,146 328.7,149.8 328.8,146.4 329,146.8 329.1,148.8 329.2,147.1 329.4,149.4 329.6,146.7 329.7,147 329.9,148.6 330,149.3 330.2,149.4 330.3,146.9 330.5,147.9 330.6,147.4 330.8,148.5 330.9,146.7 331.1,149.2 331.2,148.7 331.4,146.4 331.5,147 331.7,147.1 331.8,149.6 332,147.6 332.1,148.3 332.2,149.6 332.4,147.4 332.6,149.7 332.7,146.9 332.9,145.8 333,146.1 333.2,148.6 333.3,147.3 333.5,149.2 333.6,147.9 333.8,148.6 333.9,147.2 334.1,148.2 334.2,148.6 334.4,147.3 334.5,147.8 334.7,149.2 334.8,149.6 335,147.2 335.1,146 335.2,149.2 335.4,147.6 335.6,149.8 335.7,148.9 335.9,147.2 336,149.3 336.2,148 336.3,148.7 336.5,149.4 336.6,148.1 336.8,149.7 336.9,147.4 337.1,147.3 337.2,148.4 337.4,147.4 337.5,148.7 337.7,147.9 337.8,148.8 338,149.2 338.1,148.1 338.2,149.5 338.4,149 338.6,149.3 338.7,145.8 338.9,145.8 339,148.4 339.2,147.1 339.3,149.4 339.5,147.3 339.6,148.8 339.8,146.7 339.9,148.3 340.1,149.5 340.2,149.3 340.4,147.2 340.5,147.7 340.7,147.9 340.8,147.1 341,147.7 341.1,149.8 341.2,149.4 341.4,147 341.6,148.6 341.7,149.7 341.9,147.2 342,149.3 342.2,149 342.3,149.4 342.5,146.1 342.6,149.6 342.8,149.8 342.9,146.7 343.1,148.4 343.2,146.1 343.4,148.2 343.5,148.7 343.7,148.8 343.8,149.3 344,146.9 344.1,146.2 344.2,149.1 344.4,145.8 344.6,146.7 344.7,146.7 344.9,149 345,147.6 345.2,149.2 345.3,148.5 345.5,149.2 345.6,149 345.8,149.4 345.9,146.9 346.1,147.2 346.2,148.3 346.4,148.1 346.5,149 346.7,149.1 346.8,147 347.2,148 347.3,58 347.5,62 347.8,52 348.2,56 348.7,48 349.2,50 349.2,51.5 349.3,40.5 349.4,50.1 349.5,40.2 349.6,49.9 349.7,37.7 349.8,47.5 349.9,38.2 350,46.4 350.1,35.7 350.2,45.1 350.3,36.6 350.4,47.2 350.5,35.9 350.6,45.8 350.7,35.7 350.8,45.5 350.9,37.3 351,44.4 351.1,33.5 351.2,45.2 351.3,35.4 351.4,44.3 351.5,33.8 351.6,44.3 351.7,33.6 351.8,43.4 351.9,32.6 352,44.6 352.1,32.8 352.2,43 352.3,33.2 352.4,44 352.5,34.4 352.6,42.6 352.7,32.9 352.8,44.2 352.9,33 353,43.4 353.1,32.4 353.2,45.6 353.3,32.5 353.4,45 353.5,31.3 353.6,46.5 353.7,31.5 353.8,45.9 353.9,31 354,44.4 354.1,32.3 354.2,46.8 354.3,32.3 354.4,46.3 354.5,33.1 354.6,46.4 354.7,32.3 354.8,45.2 354.9,33.3 355,46.9 355.1,32.3 355.2,45.4 355.3,34.1 355.4,44.9 355.5,32.6 355.6,46.2 355.7,32.7 355.8,47 355.9,35.2 356,48.2 356.1,34.2 356.2,45 356.3,33 356.4,44.7 356.5,33.2 356.6,47.1 356.7,32.9 356.8,45.6 356.9,33.6 357,45.9 357.1,31.6 357.2,46.2 357.3,32.7 357.4,46 357.5,32.3 357.6,46.5 357.7,30.5 357.8,48.2 357.9,32.7 358,45.4 358.1,31.1 358.2,47.5 358.3,33 358.4,47.8 358.5,33.6 358.6,45.1 358.7,32.1 358.8,47 358.9,32.4 359,47.2 359.1,34.2 359.2,46.7 359.3,33 359.4,48.7 359.5,32 359.6,48 359.7,34.2 359.8,47.4 359.9,34.3 360,45.4 360.1,34.2 360.2,44.3 360.3,33.4 360.4,43.5 360.5,33.5 360.6,44 360.7,32.4 360.8,44 360.9,31.6 361,44.1 361.1,30.8 361.2,43.7 361.3,32.1 361.4,43.9 361.5,34 361.6,46.1 361.7,33 361.8,45.8 361.9,32.9 362,40 362,126.5 363.6,127 363.7,141.5 364.4,142.5 364.6,145.5 365.5,146.5 365.6,147.3 365.8,148.8 365.9,147.9 366.1,148.8 366.2,148.8 366.4,146 366.5,149.2 366.7,145.9 366.8,147.5 367,148.2 367.1,149.2 367.2,145.9 367.4,148.5 367.6,147.1 367.7,145.9 367.9,147.1 368,148.4 368.2,146 368.3,149.3 368.5,145.9 368.6,146.7 368.8,147.1 368.9,146 369.1,149.6 369.2,149.8 369.4,149.5 369.5,146.5 369.7,149.2 369.8,147.1 370,146.9 370.1,148.6 370.2,146.1 370.4,145.7 370.6,149.6 370.7,147.2 370.9,149 371,147.5 371.2,146.1 371.3,147.7 371.5,146.4 371.6,146 371.8,145.8 371.9,147.4 372.1,146.8 372.2,147.1 372.4,149.7 372.5,149.2 372.7,148.7 372.8,146.7 373,148.8 373.1,148.6 373.2,147.9 373.4,146.7 373.6,146.6 373.7,147.5 373.9,146.9 374,149.4 374.2,147.7 374.3,148.5 374.5,149.5 374.6,148.3 374.8,146.4 374.9,147 375.1,149.6 375.2,145.9 375.4,146.6 375.5,148.3 375.7,149.3 375.8,149.1 376,148.8 376.1,148.6 376.2,147.3 376.4,146 376.6,148.4 376.7,146 376.9,149.1 377,146.3 377.2,145.8 377.3,149.9 377.5,146.4 377.6,148.1 377.8,146 377.9,149.8 378.1,145.8 378.2,148.6 378.4,149.2 378.5,146.9 378.7,145.7 378.8,145.9 379,146 379.1,148.9 379.2,147.9 379.4,149.5 379.6,148.4 379.7,148.2 379.9,146.5 380,146.6 380.2,149.8 380.3,149.7 380.5,147.5 380.6,149 380.8,148.7 380.9,146.9 381.1,146.5 381.2,148.8 381.4,149.7 381.5,149.8 381.7,147.2 381.8,146 382,147 382.1,146 382.2,149.8 382.4,147 382.6,149.3 382.7,146.7 382.9,149.7 383,147.8 383.2,149.2 383.3,148.2 383.5,148.9 383.6,146 383.8,146.1 383.9,147.2 384.1,149.4 384.2,149.5 384.4,148.7 384.5,148.2 384.7,145.9 384.8,149.6 385,148.5 385.1,148.3 385.2,149.2 385.4,146.7 385.6,148.3 385.7,148.6 385.9,148.9 386,146.1 386.2,148.8 386.3,149.5 386.5,148.3 386.9,148 387.1,58 387.2,62 387.6,52 387.9,56 388.4,48 388.9,50 388.9,48.7 389.1,41.2 389.1,50.5 389.2,40.8 389.3,47.9 389.4,37.9 389.6,46.9 389.6,38 389.8,47.6 389.8,37.5 389.9,44.7 390.1,35.6 390.1,48.2 390.2,36.5 390.3,46.6 390.4,35 390.6,47.9 390.6,35.2 390.8,46.3 390.8,33.5 390.9,46.5 391.1,33.6 391.1,45.9 391.2,33.8 391.3,47 391.4,32.3 391.6,46.9 391.6,33.5 391.8,45.4 391.8,34 391.9,45.3 392.1,32.5 392.1,44.4 392.2,34.7 392.3,45 392.4,32.8 392.6,46.7 392.6,33.4 392.8,44.8 392.8,32.8 392.9,45.1 393.1,33.2 393.1,43.5 393.2,35.4 393.3,44.3 393.4,34.9 393.6,45.3 393.6,35.9 393.8,46.3 393.8,35.5 393.9,45.2 394.1,34.5 394.1,47.4 394.2,33 394.3,46.3 394.4,33 394.6,45.8 394.6,32.1 394.8,45.9 394.8,31.8 394.9,45.8 395.1,32 395.1,48.4 395.2,32.9 395.3,46.7 395.4,31.7 395.6,44.4 395.6,31.8 395.8,46.5 395.8,32.3 395.9,47.6 396.1,33.6 396.1,47.4 396.2,33.5 396.3,46.3 396.4,32.6 396.6,44.1 396.6,33 396.8,45 396.8,31.7 396.9,47.1 397.1,31.4 397.1,45 397.2,32 397.3,47.2 397.4,31.8 397.6,47.6 397.6,33.7 397.8,45.8 397.8,34.2 397.9,46.4 398.1,32.8 398.1,45 398.2,34 398.3,47.3 398.4,32.7 398.6,47.2 398.6,35.1 398.8,44 398.8,34.1 398.9,45.8 399.1,35.2 399.1,46.1 399.2,34.7 399.3,44 399.4,33.8 399.6,44.3 399.6,33.4 399.8,45.8 399.8,35.3 399.9,45.5 400.1,32.7 400.1,44.5 400.2,35 400.3,43 400.4,32.2 400.6,44.3 400.6,34.7 400.8,45.3 400.8,33.1 400.9,44.3 401.1,34.6 401.1,45.6 401.2,33.5 401.3,46.4 401.4,33.9 401.6,46.7 401.6,34.9 401.8,44.3 401.8,33.2 402,40 402,126.5 403.6,127 403.7,141.5 404.4,142.5 404.6,145.5 405.5,146.5 405.6,146 405.8,146 405.9,147.2 406.1,145.7 406.2,146.5 406.4,147.2 406.5,148.3 406.7,147.9 406.8,146.4 407,148.9 407.1,149 407.2,148.5 407.4,148.6 407.6,146.8 407.7,149.2 407.9,148.2 408,146.4 408.2,148.6 408.3,148.3 408.5,148.1 408.6,147.7 408.8,148.9 408.9,148.8 409.1,148.2 409.2,146 409.4,146.7 409.5,149.8 409.7,147.4 409.8,148.4 410,146.3 410.1,148.1 410.2,148.3 410.4,148.9 410.6,149.8 410.7,147.6 410.9,147 411,146.4 411.2,147.1 411.3,147.6 411.5,149.7 411.6,147.8 411.8,148.5 411.9,148.8 412.1,145.8 412.2,146.7 412.4,148 412.5,145.9 412.7,146.3 412.8,148.9 413,148.5 413.1,146.3 413.2,146.2 413.4,149.2 413.6,147.7 413.7,147 413.9,148.7 414,148.5 414.2,149.9 414.3,146.1 414.5,148.9 414.6,147.6 414.8,146.7 414.9,147.8 415.1,145.8 415.2,146.2 415.4,146.2 415.5,148.6 415.7,148.7 415.8,146.7 416,147 416.1,148.9 416.2,147.3 416.4,147.2 416.6,149.7 416.7,148 416.9,148 417,148.3 417.2,145.9 417.3,147.4 417.5,149 417.6,148.4 417.8,149.4 417.9,147 418.1,147.7 418.2,146.7 418.4,146.5 418.5,146.1 418.7,146.5 418.8,146.4 419,147.5 419.1,147.4 419.2,148.9 419.4,149 419.6,148 419.7,148.5 419.9,147.7 420,147 420.2,147.8 420.3,148.4 420.5,149.7 420.6,149.1 420.8,146 420.9,148.4 421.1,146.1 421.2,148.3 421.4,149.3 421.5,148.6 421.7,146.2 421.8,147.5 422,146.5 422.1,148.5 422.2,148.7 422.4,148.8 422.6,147.2 422.7,148.2 422.9,146.6 423,149.6 423.2,149.6 423.3,145.8 423.5,148.1 423.6,148.7 423.8,146.7 423.9,145.8 424.1,145.7 424.2,148.7 424.4,145.8 424.5,147.3 424.7,149.1 424.8,145.9 425,148.7 425.1,147.5 425.2,147.3 425.4,147.7 425.6,147.2 425.7,149.3 425.9,148.5 426,147.3 426.4,148 426.6,58 426.8,62 427.1,52 427.4,56 427.9,48 428.4,50 428.4,48.8 428.6,40.3 428.6,48.3 428.8,38 428.8,51.8 428.9,38.3 429.1,50.6 429.1,37.8 429.2,50.1 429.3,35 429.4,48.2 429.6,35.8 429.6,46.6 429.8,34.3 429.8,45.3 429.9,33.2 430.1,46.9 430.1,33.1 430.2,45.7 430.3,34.1 430.4,44.7 430.6,33.4 430.6,46.1 430.8,32.7 430.8,44.6 430.9,33.5 431.1,44.2 431.1,35.4 431.2,44.7 431.3,33.8 431.4,46.1 431.6,33.7 431.6,46.4 431.8,32.6 431.8,47.7 431.9,32.7 432.1,46.2 432.1,31.4 432.2,44.2 432.3,31.1 432.4,46.7 432.6,31.7 432.6,47 432.8,29.6 432.8,49 432.9,30 433.1,47.2 433.1,30.9 433.2,47.7 433.3,31.5 433.4,48 433.6,32.7 433.6,48.7 433.8,32.1 433.8,48.8 433.9,33.9 434.1,46.2 434.1,32.2 434.2,47.3 434.3,32.3 434.4,46 434.6,32.6 434.6,46.5 434.8,32.4 434.8,44.3 434.9,34 435.1,45.2 435.1,34.6 435.2,44.1 435.3,34.4 435.4,44.4 435.6,32.8 435.6,48.2 435.8,33.1 435.8,48.2 435.9,34.4 436.1,45.7 436.1,34.5 436.2,46.1 436.3,32.5 436.4,47.4 436.6,33.2 436.6,46.5 436.8,35 436.8,45.9 436.9,34.6 437.1,45.4 437.1,32.6 437.2,46.5 437.3,34 437.4,46.4 437.6,34.4 437.6,46.9 437.8,33.8 437.8,45.3 437.9,32.6 438.1,46.4 438.1,34.6 438.2,46.3 438.3,32.6 438.4,44.9 438.6,32.2 438.6,45.4 438.8,32.1 438.8,46.8 438.9,33.8 439.1,47.5 439.1,34.7 439.2,46.7 439.3,34.6 439.4,45.1 439.6,33 439.6,46 439.8,33.8 439.8,43.5 439.9,33.6 440.1,45.7 440.1,32.7 440.2,44 440.3,34.4 440.4,44.9 440.6,33 440.6,45.1 440.8,35 440.8,45.9 440.9,34.5 441.1,45.6 441.1,33.6 441.2,47.3 441.3,32.7 441.4,46.6 441.6,34.9 441.6,45.1 441.8,40 441.8,126.5 443.4,127 443.4,141.5 444.1,142.5 444.4,145.5 445.2,146.5 445.4,149.2 445.5,149.8 445.7,147.2 445.8,149.7 446,148.6 446.1,146.3 446.2,147.6 446.4,145.7 446.6,147.4 446.7,147.9 446.9,149.1 447,147.1 447.2,148.4 447.3,148.5 447.5,147.9 447.6,148.3 447.8,147.6 447.9,148.3 448.1,147.6 448.2,149.5 448.4,146.2 448.5,149.3 448.7,148.8 448.8,145.7 449,148.7 449.1,147.2 449.2,147.8 449.4,147.9 449.6,148.8 449.7,147.7 449.9,148.4 450,146.6 450.2,146 450.3,148.5 450.5,149.9 450.6,146 450.8,149.5 450.9,147.3 451.1,148.4 451.2,148 451.2,83 489.5,83 489.5,134 491.1,134.5 491.3,144 492.5,147 492.6,146.8 492.8,148.6 492.9,147.5 493.1,149 493.2,146.9 493.4,147.1 493.5,148.3 493.7,146.1 493.8,149.8 494,148.3 494.1,149.8 494.2,146.4 494.4,148.7 494.6,146.5 494.7,146 494.9,147.6 495,147.7 495.2,148 495.3,147.7 495.5,146.5 495.6,148.6 495.8,146.8 495.9,146.9 496.1,149 496.2,148.6 496.4,148.8 496.5,149.6 496.7,149.3 496.8,146.6 497,149.8 497.1,147.9 497.2,148 497.4,146.9 497.6,147.3 497.7,148 497.9,145.8 498,148.7 498.2,147.2 498.3,148.6 498.5,148.8 498.6,148.3 498.8,146 498.9,148.1 499.1,147.2 499.2,148.7 499.4,148.7 499.5,147.8 499.7,148.8 499.8,146.3 500,149.1 500.1,149.8 500.2,149.5 500.4,149.1 500.6,147.4 500.7,149.6 500.9,148.1 501,146.6 501.2,148 501.3,149.3 501.5,148.5 501.6,149.2 501.8,145.8 501.9,149.8 502.1,149.6 502.2,147.8 502.4,149.6 502.5,146.5 502.7,147.2 502.8,146.4 503,148.5 503.1,149.6 503.2,149.6 503.4,146 503.6,148.9 503.7,148 503.9,146.6 504,149.5 504.2,147.9 504.3,145.9 504.5,147.3 504.6,148.6 504.8,149.3 504.9,146.5 505.1,148.2 505.2,146.1 505.7,148 505.8,58 506,62 506.3,52 506.7,56 507.2,48 507.7,50 507.7,53.2 507.8,41 507.9,50 508,39.9 508.1,50.3 508.2,37.8 508.3,48.4 508.4,36.8 508.5,49.5 508.6,35.1 508.7,47.5 508.8,35.4 508.9,49.2 509,35.9 509.1,50.3 509.2,33.2 509.3,46.7 509.4,35.3 509.5,49.3 509.6,34.4 509.7,45.7 509.8,33 509.9,44.8 510,32.8 510.1,47.6 510.2,32 510.3,44.7 510.4,32.8 510.5,47 510.6,33.7 510.7,43.4 510.8,33 510.9,45.9 511,34.4 511.1,47.1 511.2,33.2 511.3,44.1 511.4,33.3 511.5,42.1 511.6,34.5 511.7,43.9 511.8,34.1 511.9,43.9 512,32.9 512.1,45 512.2,32.7 512.3,44.6 512.4,32.2 512.5,46.2 512.6,33.7 512.7,45.1 512.8,34 512.9,47.5 513,33.3 513.1,47.6 513.2,33.6 513.3,47.9 513.4,34.8 513.5,45.1 513.6,33.9 513.7,47.1 513.8,32.5 513.9,46.7 514,32.3 514.1,44.2 514.2,33.6 514.3,43.9 514.4,32.7 514.5,44.8 514.6,33 514.7,44.2 514.8,34.6 514.9,45.3 515,34.1 515.1,45.3 515.2,31.9 515.3,43.5 515.4,33 515.5,44.1 515.6,31.4 515.7,44.2 515.8,33 515.9,44.5 516,31.2 516.1,45.3 516.2,32.4 516.3,46.4 516.4,33.2 516.5,45.8 516.6,33.5 516.7,47.4 516.8,33.3 516.9,44.7 517,33.7 517.1,45.2 517.2,32.6 517.3,46.2 517.4,34.2 517.5,46.5 517.6,32.5 517.7,46 517.8,32 517.9,46 518,33.7 518.1,48.5 518.2,31.4 518.3,49.1 518.4,32.5 518.5,46.6 518.6,31 518.7,44.4 518.8,30.8 518.9,46.3 519,31.9 519.1,43.4 519.2,31.9 519.3,44.3 519.4,33.1 519.5,44.5 519.6,32.3 519.7,45.8 519.8,31.9 519.9,43.2 520,32.5 520.1,45.4 520.2,33.3 520.3,43.9 520.4,33.9 520.5,40 520.5,126.5 522.1,127 522.2,141.5 522.9,142.5 523.1,145.5 524,146.5 524.1,145.9 524.2,145.8 524.4,145.8 524.6,149.1 524.7,147.9 524.9,148.6 525,148.4 525.1,149.1 525.3,147.9 525.5,147.1 525.6,146.2 525.8,147.4 525.9,146.5 526.1,149.6 526.2,148.9 526.4,146.9 526.5,147.8 526.6,147.7 526.8,148.2 527,149.7 527.1,146.9 527.2,148.3 527.4,147.8 527.6,149.7 527.7,146.6 527.9,148.4 528,146.1 528.1,148 528.3,149.7 528.5,148.7 528.6,145.8 528.8,149.8 528.9,148 529.1,148.1 529.2,149.7 529.4,148.2 529.5,146.6 529.6,147.5 529.8,148.8 530,147.4 530.1,146.4 530.2,147.3 530.4,146.1 530.6,146.1 530.7,146.2 530.9,147.8 531,147 531.1,146.5 531.3,148.8 531.5,148.3 531.6,149.1 531.8,146.4 531.9,148.3 532.1,146.8 532.2,147.8 532.4,147.6 532.5,148.1 532.6,148.1 532.8,149.6 533,148.3 533.1,147.2 533.2,149 533.4,146.4 533.6,149 533.7,148.1 533.9,146.8 534,148.9 534.1,146.2 534.3,145.8 534.5,146.8 534.6,147.8 534.8,148.3 534.9,147 535.1,148.1 535.2,149.8 535.4,149.9 535.5,148.7 535.6,147 535.8,147.7 536,149.1 536.1,149.4 536.2,149.7 536.4,147.3 536.6,147.1 536.7,147.1 536.9,149 537,149.7 537.1,148.1 537.3,147.6 537.5,148.5 537.6,147.5 537.8,148.1 537.9,146.5 538.1,146.1 538.2,147.4 538.4,146.8 538.5,146.3 538.6,149.8 538.8,148.6 539,147.3 539.1,149.9 539.2,146.1 539.4,147.2 539.6,149.4 539.7,149.8 539.9,149 540,146.5 540.1,148.1 540.3,146 540.5,146 540.6,149.3 540.8,145.7 540.9,146.1 541.1,146.1 541.2,148.7 541.4,148.3 541.5,146.6 541.6,147.4 541.8,149.7 542,146.6 542.1,146 542.2,148.4 542.4,146.2 542.6,148 542.7,146.8 542.9,145.8 543,148.5 543.1,148.9 543.3,147 543.5,146.4 543.6,149.8 543.8,146.7 543.9,146.7 544.1,147.2 544.2,146.7 544.4,146.7 544.5,149.6 544.6,146 544.8,149.2 545,147.9 545.1,145.8 545.2,146.3 545.7,148 545.8,58 546,62 546.3,52 546.7,56 547.2,48 547.7,50 547.7,49.6 547.8,39.4 547.9,50.1 548,40.1 548.1,48.6 548.2,37.1 548.3,48.6 548.4,36.4 548.5,50.8 548.6,35.2 548.7,49.7 548.8,34.1 548.9,47.3 549,32.6 549.1,47.4 549.2,33.7 549.3,45.9 549.4,32.3 549.5,47 549.6,34.4 549.7,44.6 549.8,34.4 549.9,46.9 550,35.5 550.1,44.7 550.2,34.8 550.3,44.7 550.4,35.6 550.5,44.8 550.6,33.8 550.7,46.2 550.8,33 550.9,46 551,33.7 551.1,45.3 551.2,32.2 551.3,46.3 551.4,33.2 551.5,44 551.6,33 551.7,47.6 551.8,33.8 551.9,45.7 552,31.9 552.1,45 552.2,32.8 552.3,43.3 552.4,34 552.5,44.2 552.6,33.9 552.7,44.6 552.8,32.4 552.9,43.5 553,33.1 553.1,43.1 553.2,32.6 553.3,44.1 553.4,31.9 553.5,44.9 553.6,31.6 553.7,44.9 553.8,32.3 553.9,47.2 554,32.8 554.1,45.1 554.2,34 554.3,47 554.4,33 554.5,44.1 554.6,34.3 554.7,44 554.8,32.8 554.9,46.2 555,32.9 555.1,43.8 555.2,34.9 555.3,44.9 555.4,33.9 555.5,44 555.6,33.8 555.7,46.3 555.8,32.8 555.9,45.3 556,32.4 556.1,46.1 556.2,32.9 556.3,46 556.4,32 556.5,44.4 556.6,33.3 556.7,45.5 556.8,33.3 556.9,48.8 557,32.6 557.1,45.9 557.2,31.9 557.3,44.8 557.4,32.7 557.5,46.7 557.6,32.6 557.7,47 557.8,32.5 557.9,44.8 558,33.3 558.1,45.3 558.2,33.7 558.3,46.4 558.4,33.5 558.5,44.6 558.6,31.1 558.7,46 558.8,32.2 558.9,48.6 559,31.1 559.1,46.1 559.2,31.2 559.3,46.4 559.4,30.7 559.5,47.4 559.6,33.5 559.7,46.5 559.8,31.2 559.9,49.1 560,31.8 560.1,45.7 560.2,31.1 560.3,45.5 560.5,40 560.5,126.5 562.1,127 562.2,141.5 562.9,142.5 563.1,145.5 564,146.5 564.1,146.3 564.2,147.8 564.4,146.4 564.6,148.7 564.7,146.5 564.9,146.4 565,146.9 565.1,149.8 565.3,149.1 565.5,147.4 565.6,149 565.8,147.2 565.9,146.5 566.1,149.5 566.2,145.9 566.4,149 566.5,149.7 566.6,146.1 566.8,149.3 567,149 567.1,145.9 567.2,147.6 567.4,146.8 567.6,147.3 567.7,147.3 567.9,147.4 568,145.7 568.1,146.8 568.3,146.9 568.5,148.4 568.6,148.6 568.8,148.9 568.9,148.4 569.1,149.5 569.2,148 569.4,147 569.5,145.9 569.6,148.8 569.8,148.1 570,146.4 570.1,147.8 570.2,149.7 570.4,148.2 570.6,147 570.7,149.1 570.9,147.4 571,145.8 571.1,146 571.3,149.7 571.5,146.1 571.6,149 571.8,145.8 571.9,147.5 572.1,146.9 572.2,147.1 572.4,146.1 572.5,147.4 572.6,148.9 572.8,147.9 573,146.3 573.1,149.1 573.2,149.4 573.4,147.6 573.6,147.2 573.7,145.8 573.9,146 574,147.3 574.1,146.2 574.3,149.8 574.5,148.4 574.6,147 574.8,148.2 574.9,146.4 575.1,149.6 575.2,147.8 575.4,148.6 575.5,146.5 575.6,147.7 575.8,148.7 576,147.3 576.1,146 576.2,147.7 576.4,149.2 576.6,147.6 576.7,149.8 576.9,148.1 577,149.4 577.1,145.8 577.3,148.4 577.5,147.8 577.6,147.2 577.8,149.5 577.9,146.1 578.1,147.7 578.2,147 578.4,149.7 578.5,149 578.6,146.5 578.8,146.2 579,145.8 579.1,146.5 579.2,149.6 579.4,149.4 579.6,149.1 579.7,147.4 579.9,147.7 580,148.1 580.1,149.1 580.3,145.7 580.5,146.5 580.6,148.1 580.8,146.3 580.9,149.6 581.1,145.9 581.2,149.8 581.4,146.6 581.5,146.5 581.6,147.5 581.8,148.4 582,149.8 582.1,147.7 582.2,149.5 582.4,149.4 582.6,149.8 582.7,147.2 582.9,147.7 583,145.8 583.1,147.3 583.3,147.2 583.5,146.2 583.6,149.2 583.8,146.9 583.9,146.2 584.1,146.2 584.2,145.8 584.4,148.9 584.5,147.9 584.6,147.9 584.8,147.4 585.2,148 585.3,58 585.5,62 585.8,52 586.2,56 586.7,48 587.2,50 587.2,51.1 587.3,41.5 587.4,51.3 587.5,39.3 587.6,49.4 587.7,37.8 587.8,47.9 587.9,38.4 588,48.8 588.1,35.5 588.2,47.4 588.3,35.5 588.4,48.5 588.5,36.3 588.6,49.3 588.7,34.3 588.8,48.4 588.9,34.2 589,45.8 589.1,32.5 589.2,47.5 589.3,33.9 589.4,46.7 589.5,33.4 589.6,46.7 589.7,31.5 589.8,47.9 589.9,33.3 590,46.8 590.1,33.1 590.2,47.5 590.3,34.4 590.4,44 590.5,33.3 590.6,47.5 590.7,33.7 590.8,46.7 590.9,34 591,46.3 591.1,32.1 591.2,46 591.3,32.9 591.4,45.2 591.5,35 591.6,44.1 591.7,34.1 591.8,45 591.9,33.8 592,45.1 592.1,32.5 592.2,45.4 592.3,33.2 592.4,44.9 592.5,31.8 592.6,46.6 592.7,30.2 592.8,47.6 592.9,31.5 593,47.5 593.1,32.1 593.2,49.9 593.3,31.9 593.4,46.5 593.5,33.6 593.6,46.3 593.7,31.7 593.8,47 593.9,34 594,44.2 594.1,33.4 594.2,44.2 594.3,34.3 594.4,46.7 594.5,33.4 594.6,48.4 594.7,33.1 594.8,46.6 594.9,34.2 595,43.3 595.1,33 595.2,43.5 595.3,34.1 595.4,45.3 595.5,33.6 595.6,45 595.7,35.8 595.8,47.1 595.9,34.3 596,45.7 596.1,32.7 596.2,48.3 596.3,31.7 596.4,46.4 596.5,31.6 596.6,47.1 596.7,31.2 596.8,46.4 596.9,31.3 597,46.1 597.1,32 597.2,48.3 597.3,32.9 597.4,46.2 597.5,33 597.6,47.5 597.7,34.5 597.8,46 597.9,33.3 598,49.6 598.1,34 598.2,45.2 598.3,32.5 598.4,46 598.5,33.4 598.6,48.3 598.7,33.2 598.8,44.8 598.9,33 599,46.4 599.1,31.2 599.2,45.5 599.3,33.3 599.4,45 599.5,31.9 599.6,44.9 599.7,33.2 599.8,46.6 599.9,33.9 600,45.8 600.1,34 600.2,45.9 600.3,32.8 600.5,40 600.5,126.5 602.1,127 602.2,141.5 602.9,142.5 603.1,145.5 604,146.5 604.1,147.6 604.2,148.5 604.4,145.8 604.6,146.4 604.7,148.6 604.9,146.1 605,149.2 605.1,147.3 605.3,145.9 605.5,148.9 605.6,146.7 605.8,149.9 605.9,149.6 606.1,149.4 606.2,149.4 606.4,146 606.5,145.8 606.6,147.4 606.8,147.5 607,147.4 607.1,148.2 607.2,149 607.4,149 607.6,149.6 607.7,148.5 607.9,149.4 608,146.1 608.1,145.8 608.3,147.6 608.5,149.4 608.6,147.3 608.8,146.2 608.9,146.2 609.1,146.7 609.2,149.3" fill="none" stroke="#587797" stroke-width="1.1" stroke-linejoin="round"/>
<polyline points="124.2,310 124.2,196.4 124.5,196.3 124.9,246 125.2,255.7 125.6,263.8 126,270.9 126.3,276 126.7,283.1 127,286.4 127.4,289.4 127.7,293.6 128.1,295.7 128.4,298.5 128.8,299.6 129.1,301 129.4,301.9 129.8,303.9 130.2,305.8 130.5,306 130.8,306.5 131.2,306.6 131.6,309.7 131.9,308.4 132.2,310.4 132.6,308.9 132.9,309.4 133.3,309.6 133.7,309.6 134,310.1 134.3,311.1 134.7,310.5 135.1,310 135.4,311.1 135.8,311.1 136.1,312.1 136.4,310.4 136.8,311.7 137.2,312 137.5,311.8 137.8,312.2 138.2,311.8 138.6,310.7 138.9,311.1 139.2,310.6 139.6,310.6 139.9,312.4 140.3,311.4 140.7,310.7 141,310.2 141.3,312.9 141.7,312.9 142.1,311.6 142.4,312.2 142.8,312.7 143.1,311.7 143.4,312.6 143.8,313.7 144.2,312.1 144.5,312 144.8,311.7 145.2,311.5 145.6,312 145.9,312.4 146.2,312.7 146.6,313.4 146.9,312.6 147.3,311.5 147.7,311.8 148,310.8 148.3,312.5 148.7,313.7 149.1,311.8 149.5,311.8 149.5,276.8 149.8,278.4 150.2,288 150.6,288.8 150.9,290.3 151.2,293.3 151.6,294.3 151.9,295.9 152.3,297.3 152.7,298.2 153,297.6 153.3,298.2 153.7,298.8 154.1,300.8 154.4,298.5 154.8,301.6 155.1,302 155.4,303.5 155.8,302.8 156.2,304.5 156.5,303.5 156.8,303.7 157.2,302.9 157.6,304.2 157.9,303.8 158.2,303.2 158.6,301.3 158.9,303.6 159.3,301.9 159.7,302.2 160,301 160.3,300.3 160.7,300.2 161.1,299.6 161.4,299.1 161.8,299.2 162.1,298.3 162.4,299.1 162.8,298.2 163.2,298.5 163.5,298.1 164.2,298.1 164.2,273 164.5,273.3 164.9,289.4 165.2,292.1 165.6,297.3 165.9,297.5 166.3,299.8 166.6,301.5 167,303.8 167.3,303.7 167.7,304.3 168,305.3 168.4,306.9 168.8,307 169.1,307.4 169.4,307.2 169.8,308 170.1,309.2 170.5,309.5 170.8,309.8 171.2,309.9 171.5,310.7 171.9,309.9 172.2,311.1 172.6,311.4 172.9,310.6 173.3,311.4 173.6,311.3 174,312.7 174.3,310.7 174.7,311.3 175,311.5 175.4,311.1 175.8,311.3 176.1,312 176.4,310.1 176.8,311.9 177.1,310.9 177.5,310.3 177.8,312.1 178.2,311.6 178.5,312.3 178.9,311 179.2,312 179.6,312.6 179.9,310.9 180.3,311.2 180.6,312.6 181,311.1 181.3,311.8 181.7,310 182,310.7 182.4,312.4 182.8,312.2 183.1,312.7 183.4,312 183.8,312.1 184.1,311.6 184.5,312.1 184.8,313.3 185.2,312.8 185.5,311.2 185.9,311.4 186.2,312.4 186.6,312.4 186.9,312.4 187.3,312.3 187.6,313.6 188,311.7 188.3,312.9 188.7,312.9 188.7,279.2 189,281.1 189.4,287.7 189.8,288.8 190.1,293.2 190.4,292 190.8,294.2 191.1,296.3 191.5,298 191.8,296.7 192.2,297.8 192.5,297.8 192.9,298.7 193.2,299.6 193.6,299.2 193.9,301.5 194.3,301.1 194.6,303.8 195,303.8 195.3,304.5 195.7,302.7 196,305 196.4,304.5 196.8,303.1 197.1,303.3 197.4,301.6 197.8,301.6 198.1,302.3 198.5,301.9 198.8,303.3 199.2,302.2 199.5,301.4 199.9,300.8 200.2,301.2 200.6,300.3 200.9,299.8 201.3,297.8 201.6,297.7 202,298.2 202.3,298.1 202.7,297.7 203,298.4 203.7,298.4 203.7,270.7 204,271.8 204.4,287.6 204.8,290.7 205.1,294 205.4,296.4 205.8,298.6 206.1,299.2 206.5,302.1 206.8,304.5 207.2,305.4 207.5,305.1 207.9,305.7 208.2,306.6 208.6,307.2 208.9,308.2 209.3,309.9 209.6,309.7 210,310.8 210.3,310 210.7,311 211,310.2 211.4,310.5 211.8,312 212.1,310.2 212.4,310.3 212.8,312 213.1,310.9 213.5,310.6 213.8,311.4 214.2,310.6 214.5,311.2 214.9,310.6 215.2,311.3 215.6,311.6 215.9,311.2 216.3,311 216.6,311.4 217,312 217.3,312.3 217.7,312 218,312.2 218.4,311.6 218.8,311.7 219.1,311.9 219.4,311.9 219.8,311.8 220.1,310.8 220.5,311 220.8,312.4 221.2,311.7 221.5,312.2 221.9,312.1 222.2,312.2 222.6,312.5 222.9,313.1 223.3,313.9 223.6,312 224,311.3 224.3,312.9 224.7,311.8 225,312.5 225.4,312 225.8,312.9 226.1,312.5 226.4,312.4 226.8,314.1 227.1,312.2 227.5,312.5 227.8,314.2 228.4,314.2 228.4,278.8 228.8,279.3 229.1,287.7 229.5,289.5 229.8,291.9 230.2,294 230.5,294.9 230.8,296.1 231.2,295.2 231.6,296.2 231.9,298.4 232.2,298.6 232.6,298.3 233,298.6 233.3,300.4 233.7,301.6 234,300.4 234.3,301.9 234.7,304.3 235.1,304.8 235.4,304.3 235.8,303.5 236.1,303.3 236.5,303.8 236.8,304.6 237.2,303.1 237.5,302.5 237.8,302.7 238.2,302.7 238.6,301.5 238.9,301.6 239.2,301.9 239.6,300.5 240,301 240.3,298.8 240.7,298.7 241,299.2 241.3,297.8 241.7,297 242.1,299.5 242.4,298 242.8,296.7 243.3,296.7 243.3,265.1 243.7,264.1 244,285.4 244.4,288.3 244.7,293.4 245.1,295.7 245.4,297.3 245.8,298.9 246.1,300.5 246.5,302 246.8,302.8 247.2,304.2 247.5,305.2 247.9,307.3 248.2,307.4 248.6,305.5 248.9,306.7 249.2,308.2 249.6,308.6 250,308.8 250.3,310.1 250.7,308.6 251,310.6 251.4,310.5 251.7,309 252.1,312.3 252.4,310.6 252.8,312.3 253.1,311.6 253.5,311.2 253.8,311.5 254.2,311.2 254.5,312 254.9,311.5 255.2,312.4 255.6,311.8 255.9,312.6 256.2,311.1 256.6,312.6 256.9,311.2 257.3,312 257.7,312 258,310.9 258.4,311.7 258.7,313.3 259.1,311.5 259.4,314.1 259.8,311.7 260.1,312.2 260.4,313 260.8,311.9 261.2,312.2 261.5,310.5 261.9,312.4 262.2,310.6 262.6,311.1 262.9,312.6 263.2,312.8 263.6,311.2 263.9,312.3 264.3,312.1 264.7,312.4 265,313.2 265.4,312.6 265.7,313 266.1,313.5 266.4,312.6 266.8,311 267.1,311.2 267.4,312.5 268,312.5 268,277 268.4,276.7 268.7,285.6 269.1,288.5 269.4,291 269.8,292.7 270.1,293.1 270.4,293.3 270.8,296.8 271.1,298.7 271.5,297.1 271.9,298 272.2,298.2 272.6,297.9 272.9,299.6 273.2,301.7 273.6,303.2 273.9,302.6 274.3,304 274.6,303.2 275,304.6 275.4,303.9 275.7,304.7 276.1,303.8 276.4,303.7 276.8,302.7 277.1,301.9 277.4,302.8 277.8,303 278.1,300.4 278.5,301.2 278.9,300.6 279.2,300.1 279.6,299 279.9,298.8 280.2,298.5 280.6,297.9 280.9,298.6 281.3,298.4 281.6,298 282,297.9 282.4,297.9 282.9,297.9 282.9,269.2 283.2,269.4 283.6,287.8 283.9,292.2 284.3,293.2 284.6,296 285,299.2 285.3,300 285.7,301.7 286,303.3 286.4,305.9 286.8,306.4 287.1,306.8 287.4,305.8 287.8,308.4 288.1,308.5 288.5,309.6 288.8,309.5 289.2,309.2 289.5,311.3 289.9,312.2 290.2,309.7 290.6,310.4 290.9,311 291.3,310 291.6,310.1 292,312.6 292.3,311.2 292.7,310.3 293,311.7 293.4,311.5 293.8,310.6 294.1,311.6 294.4,312.4 294.8,312 295.1,312.6 295.5,311.2 295.8,312.9 296.2,310.9 296.5,313 296.9,311.7 297.2,312.9 297.6,312 297.9,311 298.3,311 298.6,310.9 299,312 299.3,311.8 299.7,311.8 300,311.5 300.4,312.3 300.8,311.2 301.1,311.8 301.4,311.2 301.8,311.7 302.1,311.6 302.5,312.7 302.8,312.5 303.2,313.2 303.5,312.4 303.9,312.3 304.2,311.6 304.6,313.2 304.9,309.8 305.3,312.4 305.6,311.4 306,311.5 306.3,314.3 306.7,312.6 307,311.3 307.7,311.3 307.7,280.1 308.1,277.6 308.4,288 308.8,289.6 309.1,290.9 309.4,294.2 309.8,294.1 310.1,296 310.5,297.2 310.8,296.8 311.2,295.2 311.6,297.9 311.9,298 312.2,298.9 312.6,300.2 312.9,300.4 313.3,300.4 313.6,302.3 314,302.4 314.3,303.6 314.7,301.7 315.1,305 315.4,303.3 315.8,303.2 316.1,303.3 316.4,304.2 316.8,304 317.1,303 317.5,302.4 317.8,303.1 318.2,302.6 318.6,300.9 318.9,300.1 319.2,300.8 319.6,300.5 319.9,300 320.3,297 320.6,298 321,298 321.3,297.2 321.7,296.2 322.1,297 322.4,299 322.9,299 322.9,266.2 323.2,266.5 323.6,285.9 323.9,290.3 324.3,292.8 324.6,296.1 325,297.3 325.3,299.6 325.7,302.4 326,304.1 326.4,304.4 326.8,304.6 327.1,305.6 327.4,306.8 327.8,310 328.1,308.4 328.5,309.1 328.8,309.2 329.2,310.3 329.5,310 329.9,310.4 330.2,308.1 330.6,309.8 330.9,310.7 331.3,310.7 331.6,310.9 332,310.8 332.3,311.4 332.7,311.2 333,310.4 333.4,310.7 333.8,311.1 334.1,310.4 334.4,311.3 334.8,312.3 335.1,312.9 335.5,312.1 335.8,311.7 336.2,311.4 336.5,310.9 336.9,312.2 337.2,312.4 337.6,311.2 337.9,310.9 338.3,312.2 338.6,311.6 339,310.9 339.3,311.7 339.7,312 340,313.6 340.4,311 340.8,311.6 341.1,312 341.4,312.5 341.8,313.1 342.1,312.2 342.5,312.3 342.8,311.3 343.2,313.1 343.5,311.1 343.9,312.2 344.2,311.4 344.6,313.1 344.9,312.1 345.3,311.4 345.6,312.3 346,313.5 346.3,312.7 347,312.7 347,278 347.4,279.5 347.7,288.5 348.1,289.2 348.4,291.9 348.8,292.3 349.1,295.2 349.4,297 349.8,297.3 350.1,296.3 350.5,298.6 350.9,298.2 351.2,298.3 351.6,299.7 351.9,298.9 352.2,300.6 352.6,301.4 352.9,303.9 353.3,304.5 353.6,305.6 354,303.8 354.4,303.9 354.7,303.1 355.1,302.5 355.4,303.7 355.8,303.5 356.1,302.7 356.4,301.5 356.8,303 357.1,301.5 357.5,301.8 357.9,301.4 358.2,300.1 358.6,300.8 358.9,300.5 359.2,298.6 359.6,298.6 359.9,298.3 360.3,298 360.6,297.6 361,298.2 361.4,297.4 362,297.4 362,269.6 362.4,268.7 362.7,286.7 363.1,290.5 363.4,294.2 363.8,296.5 364.1,299.2 364.4,298.3 364.8,302.3 365.1,303 365.5,303.5 365.9,306.6 366.2,307 366.6,307.4 366.9,308.5 367.2,309.2 367.6,309.1 367.9,308.1 368.3,308.9 368.6,309.7 369,310 369.4,311.5 369.7,309.9 370.1,310.2 370.4,311.5 370.8,310.7 371.1,311.1 371.4,311.4 371.8,311.9 372.1,311.7 372.5,312 372.9,311 373.2,311.1 373.6,311.2 373.9,311.6 374.2,311.8 374.6,310 374.9,313 375.3,310.7 375.6,311.4 376,311.6 376.4,312.1 376.7,311.9 377.1,312.7 377.4,312.9 377.8,311.9 378.1,313.1 378.4,311.2 378.8,311.1 379.1,314.6 379.5,313.1 379.9,311.8 380.2,311.8 380.6,311.9 380.9,311.7 381.2,311.5 381.6,311.4 381.9,310.7 382.3,312.1 382.6,311.5 383,313.4 383.4,312.3 383.7,313.2 384.1,311.2 384.4,310.5 384.8,311.9 385.1,313.3 385.4,312.4 385.8,312.3 386.1,312.2 386.5,311.5 386.9,311.7 387.2,314.5 387.6,314.5 387.6,276.5 388,277.9 388.3,287.3 388.7,287.9 389,291 389.4,293.6 389.7,295.1 390.1,295.3 390.4,295.7 390.8,296.1 391.1,297.9 391.5,298.4 391.8,297.1 392.2,299.2 392.5,298.5 392.9,300.4 393.2,301.4 393.6,302.6 393.9,302.8 394.2,303.8 394.6,304.1 395,303.8 395.3,304.2 395.7,303.4 396,303.4 396.4,303.5 396.7,303.2 397.1,302.9 397.4,301.1 397.8,302.1 398.1,302.1 398.5,301.5 398.8,300.3 399.2,300.5 399.5,299.9 399.9,299.5 400.2,298.6 400.6,297.9 400.9,297.6 401.2,299.2 401.6,298.8 402,300 402.3,297.3 402.7,297.3 402.7,269.7 403.1,269.5 403.4,288 403.8,290.6 404.1,294.4 404.4,296.9 404.8,300.1 405.1,301.3 405.5,302.7 405.8,302.9 406.2,303.4 406.6,306 406.9,306.2 407.2,307 407.6,308.4 407.9,309.7 408.3,309.4 408.6,310.3 409,309.7 409.3,309.9 409.7,310.2 410.1,310.4 410.4,310.1 410.8,311.3 411.1,310.1 411.4,312.2 411.8,310.9 412.1,310.8 412.5,311.8 412.8,312.5 413.2,310.8 413.6,311.9 413.9,310.8 414.2,310.9 414.6,311.5 414.9,311.6 415.3,310.8 415.6,311.4 416,312.4 416.3,311.6 416.7,311.3 417.1,311.6 417.4,311.7 417.8,311.9 418.1,311.9 418.4,312.6 418.8,313 419.1,311.1 419.5,312.4 419.8,311.8 420.2,313.2 420.6,311.9 420.9,312.7 421.2,309.8 421.6,312.9 421.9,312.9 422.3,311.4 422.6,311.3 423,313.8 423.3,312 423.7,311.6 424.1,313.2 424.4,311.8 424.8,312.7 425.1,313.1 425.4,312.6 425.8,312.7 426.1,313.5 426.5,310.7 427,310.7 427,277.9 427.4,278.1 427.7,286.2 428.1,289 428.4,289.8 428.8,292.7 429.1,293.8 429.4,295.3 429.8,296.3 430.1,297.4 430.5,297.9 430.9,296.8 431.2,298.9 431.6,299.2 431.9,299.8 432.2,300.1 432.6,301.2 432.9,301.7 433.3,304 433.6,303.2 434,303.7 434.4,303.9 434.7,303.6 435.1,305.1 435.4,303.3 435.8,303.2 436.1,304.2 436.4,302.9 436.8,301.3 437.1,302.5 437.5,301.3 437.9,301.5 438.2,301.5 438.6,301.1 438.9,300.2 439.2,298.4 439.6,298.3 439.9,298.9 440.3,297.2 440.6,298 441,298.5 441.4,297.6 441.7,298.6 442.2,298.6 442.2,276.1 442.6,273.9 442.9,292 443.2,293.2 443.6,297.4 443.9,298.5 444.3,300.5 444.6,302.3 445,305.1 445.3,304.7 445.7,305.7 446.1,307.3 446.4,307.4 446.8,307.3 447.1,309.1 447.4,308.9 447.8,310.4 448.1,309.6 448.5,309.8 448.8,308.7 449.2,310.1 449.6,310.7 449.9,310.2 450.2,312.2 450.6,310.8 450.9,312.2 451.3,312.3 451.6,311.2 452,311.2 452,283.6 452.4,283.3 452.7,297.4 453.1,298.9 453.4,300.9 453.8,302.4 454.1,304.3 454.4,304.6 454.8,306 455.1,307.3 455.5,308.3 455.9,308.9 456.2,308.9 456.6,310 456.9,310.6 457.2,310.8 457.6,311.4 457.9,311.7 458.3,311.8 458.6,312.2 459,312.3 459.4,313.2 459.7,313 460.1,313.3 460.4,313.3 460.8,313.5 461.1,313.8 461.4,313.8 461.8,313.4 462.1,314 462.5,314.3 462.9,313.7 463.2,313.6 463.6,314.1 463.9,314 464.2,314.3 464.6,314.1 464.9,313.7 465.3,313.8 465.6,314 466,314.2 466.4,314.6 466.7,314 467.1,313.9 467.4,313.7 467.8,313.4 468.1,313.9 468.4,313.7 468.8,314.4 469.1,313.6 469.5,313.7 469.9,313.5 470.2,313.7 470.6,313.8 470.9,313.4 471.2,314.1 471.6,313.7 471.9,313.5 472.3,314.1 472.6,314.2 473,313.6 473.4,313.7 473.7,313.5 474.1,313.5 474.4,313.9 474.8,313.6 475.1,313.3 475.4,313.7 475.8,313.7 476.1,313.9 476.5,313.3 476.9,312.9 477.2,313.9 477.6,313.2 477.9,313.2 478.2,313.6 478.6,313.5 478.9,313.7 479.3,313.6 479.6,313.3 480,313.1 480.4,313.2 480.7,313 481.1,313.2 481.4,313.6 481.8,312.7 482.1,312.8 482.4,313.4 482.8,312.5 483.1,312.9 483.5,313 483.9,312.4 484.2,313.8 484.6,313.5 484.9,312.7 485.2,313 485.6,313.2 485.9,312.4 486.3,312.7 486.6,313.3 487,313 487.4,312.5 487.7,312.2 488.1,313.4 488.4,312.6 488.8,312.8 489.1,313.2 489.5,313.2 489.5,292.6 489.9,293.6 490.2,300.2 490.6,299.7 490.9,301.5 491.2,302.2 491.6,303.2 491.9,304 492.3,304.2 492.6,306.4 493,306.3 493.4,305.8 493.7,307.4 494.1,307.5 494.4,306.6 494.8,306.6 495.1,308.5 495.4,308.8 495.8,308 496.1,308.4 496.5,309.2 496.9,308.4 497.2,308.6 497.6,309 497.9,307 498.2,308.3 498.6,308.8 498.9,308.7 499.3,307.3 499.6,308.7 500,310.1 500.4,309.4 500.7,309.6 501.1,310.1 501.4,309.5 501.8,309.6 502.1,309.8 502.4,310.2 502.8,309.2 503.1,311 503.5,309.2 503.9,309.9 504.2,309.7 504.6,311.7 504.9,308.6 505.2,311.2 505.6,310.6 506.2,310.6 506.2,280.1 506.6,281 506.9,288.9 507.2,292.1 507.6,292.4 507.9,293.4 508.3,294.5 508.6,296.4 509,296.9 509.3,297.4 509.7,298.6 510.1,298.9 510.4,297.2 510.8,299.9 511.1,299.2 511.4,301.1 511.8,301 512.1,303.3 512.5,302.9 512.9,303.3 513.2,303.8 513.5,303.4 513.9,304.2 514.2,303.5 514.6,303.6 515,302.5 515.3,302.8 515.6,303.5 516,302.3 516.4,301.7 516.7,301.9 517,299.7 517.4,299.9 517.8,299 518.1,299.7 518.5,298.9 518.8,297.3 519.1,298.9 519.5,297.6 519.9,297.8 520.2,298.3 520.8,298.3 520.8,269.7 521.1,270.6 521.5,287.5 521.8,292 522.2,295 522.5,295.5 522.9,299.2 523.2,302.1 523.6,301.3 523.9,304 524.3,307.2 524.6,305.6 525,305.7 525.3,306.8 525.7,306.4 526,308.3 526.4,308.2 526.8,309.8 527.1,309.3 527.4,308.5 527.8,309.6 528.1,310 528.5,311.8 528.8,310.8 529.2,311.6 529.5,310.2 529.9,311.5 530.2,310.7 530.6,311.8 530.9,309.7 531.3,312.1 531.6,311.2 532,309.4 532.3,311.2 532.7,312.1 533,311 533.4,310.8 533.8,310.9 534.1,313.1 534.4,311.5 534.8,313.3 535.1,310.3 535.5,311.7 535.8,312.1 536.2,311.3 536.5,311.4 536.9,312.7 537.2,310.6 537.6,312.1 537.9,313.2 538.3,310.9 538.6,310.8 539,311 539.3,311.6 539.7,312.7 540,311.3 540.4,310.6 540.8,311.5 541.1,310.9 541.4,312.7 541.8,311.4 542.1,311.5 542.5,313.3 542.8,313.4 543.2,312.8 543.5,312.2 543.9,311.9 544.2,312.5 544.6,312.4 544.9,312.4 545.3,312.3 545.8,312.3 545.8,278.1 546.1,278.2 546.5,287.5 546.8,289.2 547.2,291.6 547.5,292.3 547.9,294.7 548.2,294.4 548.6,296.7 548.9,297.2 549.3,298.4 549.6,298.4 550,298.3 550.3,299 550.7,300.3 551,301.7 551.4,301.8 551.8,302.5 552.1,302.7 552.4,302.5 552.8,303.8 553.1,305.1 553.5,303.7 553.8,304.9 554.2,304.3 554.5,302.3 554.9,302.4 555.2,303 555.6,302.7 555.9,301.8 556.3,302.7 556.6,300.5 557,300.7 557.3,298.5 557.7,300.2 558,298.1 558.4,298.8 558.8,297.1 559.1,298.6 559.4,297.3 559.8,298.2 560.1,298.5 560.6,298.5 560.6,272.8 561,272.3 561.3,288.9 561.6,291.2 562,294.5 562.4,299.5 562.7,299.8 563.1,302.7 563.4,303 563.8,303.4 564.1,306 564.5,306.8 564.8,306.6 565.1,307.6 565.5,306.7 565.9,308.2 566.2,308.4 566.6,307.9 566.9,309.9 567.2,309.8 567.6,310.8 568,310 568.3,309.6 568.6,309.5 569,310.7 569.4,311.4 569.7,311.5 570.1,312.1 570.4,311 570.8,310.1 571.1,313.1 571.5,313 571.8,310.3 572.1,312.6 572.5,311.2 572.9,312.5 573.2,310.9 573.6,311 573.9,311.5 574.2,311 574.6,311.6 575,311.3 575.3,310.3 575.6,310.9 576,312.3 576.4,312.4 576.7,312 577.1,312 577.4,311.8 577.8,312.4 578.1,311.4 578.5,311.9 578.8,311.7 579.1,312 579.5,311.6 579.9,313 580.2,310.9 580.6,311.8 580.9,311.8 581.2,311.7 581.6,311.3 582,311.6 582.3,312 582.6,312.4 583,313.5 583.4,312.1 583.7,312.5 584.1,312.6 584.4,310.5 585,310.5 585,280 585.4,278.5 585.7,286.5 586,288.7 586.4,290.3 586.8,293.9 587.1,295.1 587.5,295.1 587.8,296.9 588.1,296 588.5,297.6 588.9,297.9 589.2,298.1 589.5,299.2 589.9,299.8 590.2,301.5 590.6,302 591,303 591.3,302.9 591.6,304.5 592,304.7 592.4,303.2 592.7,303.3 593,304.1 593.4,303.4 593.8,303.8 594.1,301.1 594.5,303.6 594.8,300.7 595.1,302.2 595.5,300.8 595.9,300.9 596.2,300.4 596.5,298.9 596.9,298.5 597.2,298.8 597.6,298.7 598,296.2 598.3,296.8 598.6,297.7 599,298.1 599.6,298.1 599.6,262.7 600,262.9 600.3,282.8 600.6,288.5 601,291.2 601.4,294.7 601.7,295.6 602.1,297.3 602.4,300.6 602.8,301.7 603.1,302.3 603.5,304.8 603.8,306.3 604.1,305.6 604.5,306.7 604.9,307.9 605.2,307.1 605.6,308.5 605.9,310.4 606.2,309.1 606.6,309.7 607,308.5 607.3,310.2 607.6,310.5 608,310.2 608.4,310.5" fill="none" stroke="#d97918" stroke-width="1.3" stroke-linejoin="round"/>
<polyline points="124.2,277.2 124.5,239.2 124.9,202.6 125.2,214.1 125.6,224.6 126,237.1 126.3,245.6 126.7,253.1 127,259.6 127.4,265.5 127.7,270 128.1,273.7 128.4,279.5 128.8,283.1 129.1,286.4 129.4,286.8 129.8,288.9 130.2,293.1 130.5,295 130.8,295.2 131.2,295.8 131.6,297.1 131.9,298.7 132.2,299.3 132.6,300.3 132.9,301.7 133.3,300.4 133.7,302.4 134,303.7 134.3,303.6 134.7,304.7 135.1,303.8 135.4,303.2 135.8,305.3 136.1,303.6 136.4,303 136.8,304.4 137.2,305.7 137.5,305.6 137.8,305.3 138.2,306 138.6,306.1 138.9,305.3 139.2,305.3 139.6,304.7 139.9,306.1 140.3,303.7 140.7,304.3 141,304.5 141.3,305.6 141.7,303.8 142.1,305.4 142.4,303.7 142.8,304.2 143.1,305.7 143.4,305.3 143.8,303.5 144.2,304.1 144.5,305 144.8,304.7 145.2,304.6 145.6,305.3 145.9,304.8 146.2,305.2 146.6,304.9 146.9,304.2 147.3,305.3 147.7,303.9 148,304.3 148.3,303.8 148.7,303.6 149.1,303.3 149.5,287.7 149.8,276.6 150.2,265.7 150.6,269.3 150.9,274.2 151.2,277.1 151.6,279.4 151.9,282.8 152.3,285 152.7,288.4 153,288.6 153.3,291.9 153.7,292.8 154.1,294.6 154.4,295.2 154.8,297.3 155.1,298.8 155.4,300.3 155.8,299.8 156.2,301.1 156.5,300.2 156.8,299.9 157.2,302.9 157.6,302.4 157.9,301.2 158.2,300.5 158.6,301.1 158.9,301 159.3,300.6 159.7,300.3 160,299.2 160.3,299.6 160.7,300.6 161.1,299.6 161.4,298.6 161.8,298.9 162.1,298 162.4,297.9 162.8,298.1 163.2,297.1 163.5,297.9 164.2,295.2 164.5,279.3 164.9,263.2 165.2,267 165.6,273.1 165.9,276.3 166.3,280.7 166.6,285.9 167,286.8 167.3,290.2 167.7,292.7 168,294.3 168.4,293.7 168.8,297.8 169.1,298.3 169.4,298 169.8,299.3 170.1,302 170.5,301.4 170.8,302.4 171.2,302.7 171.5,302.4 171.9,303.8 172.2,304 172.6,302.9 172.9,305.7 173.3,304.8 173.6,304.3 174,305.8 174.3,305.5 174.7,306.1 175,305.1 175.4,305.7 175.8,304.7 176.1,304.6 176.4,305.4 176.8,305.7 177.1,305.2 177.5,305.4 177.8,306.4 178.2,304.6 178.5,305.2 178.9,304.8 179.2,306.4 179.6,304.7 179.9,303.7 180.3,304.8 180.6,306.4 181,305.2 181.3,305.2 181.7,305 182,305.3 182.4,304.7 182.8,305.4 183.1,304.8 183.4,305.5 183.8,304.8 184.1,304.1 184.5,305.2 184.8,304.2 185.2,305.4 185.5,305 185.9,304.8 186.2,303.6 186.6,305.1 186.9,303.5 187.3,305.6 187.6,304.5 188,303.6 188.3,303.7 188.7,289.1 189,278.3 189.4,265.4 189.8,271.1 190.1,273.4 190.4,277.6 190.8,280.2 191.1,281.2 191.5,284.3 191.8,287.1 192.2,290.8 192.5,291.3 192.9,293.2 193.2,294.8 193.6,294.9 193.9,298.4 194.3,297.8 194.6,298.8 195,300.2 195.3,298.9 195.7,301.7 196,301.1 196.4,301.3 196.8,303.2 197.1,302.7 197.4,302.4 197.8,301 198.1,300.7 198.5,300.8 198.8,300.8 199.2,302.4 199.5,300.2 199.9,300.4 200.2,298.7 200.6,298.1 200.9,296.9 201.3,297.6 201.6,297.1 202,298.4 202.3,297.6 202.7,298.6 203,297 203.7,294.7 204,277.7 204.4,261.9 204.8,267.2 205.1,271.5 205.4,276.6 205.8,279.8 206.1,284 206.5,285.1 206.8,289.2 207.2,290.2 207.5,291.2 207.9,296.5 208.2,296.9 208.6,297.6 208.9,297.6 209.3,299.9 209.6,300.1 210,301.7 210.3,301.3 210.7,303.3 211,302.2 211.4,305.6 211.8,305.1 212.1,302.5 212.4,304.1 212.8,305.2 213.1,302.9 213.5,304 213.8,304.1 214.2,305.4 214.5,304.7 214.9,304.9 215.2,306.6 215.6,304.9 215.9,305.5 216.3,304.4 216.6,304.4 217,306 217.3,305.9 217.7,305.3 218,304.9 218.4,305.7 218.8,305.5 219.1,304.9 219.4,305 219.8,304.4 220.1,305.1 220.5,306 220.8,306.6 221.2,304.6 221.5,305.4 221.9,305.4 222.2,305.3 222.6,306.3 222.9,305.3 223.3,307 223.6,305.2 224,305.6 224.3,303.4 224.7,304.4 225,304.9 225.4,304.5 225.8,304 226.1,305.2 226.4,304.7 226.8,304.8 227.1,302.5 227.5,304.3 227.8,305.9 228.4,287.7 228.8,275.4 229.1,266.8 229.5,267.4 229.8,273.9 230.2,276.4 230.5,280.7 230.8,283.2 231.2,286.5 231.6,288.6 231.9,291.5 232.2,290.7 232.6,294.2 233,294.4 233.3,295.7 233.7,297.6 234,298.1 234.3,299 234.7,300 235.1,300.2 235.4,300.7 235.8,301.9 236.1,302.4 236.5,302.2 236.8,301.5 237.2,300.5 237.5,300.4 237.8,301.2 238.2,300.5 238.6,300.9 238.9,299.8 239.2,300.2 239.6,299.6 240,299.7 240.3,299 240.7,297.1 241,299 241.3,297.6 241.7,298.1 242.1,296.9 242.4,296.2 242.8,297.9 243.3,294.8 243.7,274.5 244,256.8 244.4,264.7 244.7,269 245.1,273.5 245.4,279.4 245.8,280.7 246.1,284 246.5,286.9 246.8,290.4 247.2,292.2 247.5,294 247.9,294.8 248.2,297.4 248.6,296.6 248.9,298.6 249.2,301.6 249.6,299.3 250,301.2 250.3,302.4 250.7,302.4 251,304.4 251.4,303.2 251.7,305.7 252.1,304.9 252.4,303.2 252.8,303.5 253.1,305 253.5,305.6 253.8,304.2 254.2,305.1 254.5,305 254.9,304.8 255.2,306.2 255.6,304.7 255.9,307.1 256.2,304.3 256.6,306.7 256.9,305.9 257.3,306 257.7,304.9 258,304.8 258.4,305.1 258.7,305 259.1,305 259.4,305.4 259.8,306.8 260.1,307.1 260.4,307.1 260.8,305.2 261.2,305.3 261.5,305.2 261.9,304.9 262.2,305.2 262.6,305.8 262.9,306.2 263.2,306.4 263.6,303.9 263.9,304.1 264.3,305.9 264.7,305 265,304.3 265.4,303.4 265.7,305.1 266.1,304.4 266.4,303.6 266.8,305.8 267.1,305 267.4,304.4 268,288.9 268.4,275.7 268.7,265.4 269.1,270 269.4,274.6 269.8,276.5 270.1,279.8 270.4,283.4 270.8,285.9 271.1,289 271.5,289.9 271.9,291 272.2,292.5 272.6,294.3 272.9,295.4 273.2,297.6 273.6,298.5 273.9,298 274.3,299.3 274.6,300.9 275,300.3 275.4,300.4 275.7,300.8 276.1,301.5 276.4,302 276.8,301.3 277.1,300.2 277.4,301.3 277.8,301.8 278.1,300.7 278.5,301.7 278.9,300.1 279.2,300.2 279.6,298.7 279.9,299 280.2,297.7 280.6,296.3 280.9,297.8 281.3,298.3 281.6,297.3 282,297.8 282.4,297.6 282.9,293.1 283.2,274.5 283.6,257.3 283.9,265.2 284.3,269 284.6,273.2 285,276.7 285.3,281.7 285.7,285 286,286.2 286.4,290.1 286.8,291.6 287.1,293.2 287.4,294.6 287.8,296.6 288.1,298.7 288.5,298.1 288.8,300.2 289.2,301.1 289.5,299.8 289.9,301.3 290.2,303.4 290.6,303.4 290.9,303.6 291.3,304.4 291.6,305.6 292,303.7 292.3,303.9 292.7,304.5 293,305.2 293.4,304.8 293.8,304.6 294.1,306 294.4,305.6 294.8,305.8 295.1,304.8 295.5,305.2 295.8,306.5 296.2,306 296.5,304.1 296.9,306.2 297.2,305.3 297.6,306 297.9,304.4 298.3,305.5 298.6,305.7 299,306.3 299.3,305.5 299.7,304.6 300,304.7 300.4,306.3 300.8,304 301.1,305.4 301.4,306 301.8,305 302.1,305.5 302.5,305.4 302.8,305.4 303.2,305 303.5,305.3 303.9,306.2 304.2,304.3 304.6,305.1 304.9,303.7 305.3,304.2 305.6,304.1 306,304.4 306.3,303.4 306.7,304.7 307,305.2 307.7,287.5 308.1,278.2 308.4,264.2 308.8,268.1 309.1,272.5 309.4,274.7 309.8,278.4 310.1,281.8 310.5,284.8 310.8,286 311.2,289.6 311.6,291.3 311.9,292.1 312.2,293.7 312.6,293.9 312.9,296.9 313.3,299.2 313.6,298.1 314,298.4 314.3,300.2 314.7,299.3 315.1,299.6 315.4,301.8 315.8,301.9 316.1,302.6 316.4,301.2 316.8,301.1 317.1,301.1 317.5,302.4 317.8,301.8 318.2,302 318.6,301.9 318.9,301.3 319.2,301.1 319.6,299.5 319.9,298.6 320.3,298 320.6,298 321,298.2 321.3,297.7 321.7,297.2 322.1,298 322.4,297.7 322.9,292.6 323.2,274.7 323.6,256.2 323.9,263.4 324.3,267.1 324.6,274 325,276.6 325.3,281.7 325.7,282.7 326,286 326.4,289.8 326.8,291.7 327.1,294.2 327.4,295 327.8,296 328.1,295.6 328.5,299.8 328.8,298.7 329.2,301 329.5,301 329.9,301.2 330.2,302 330.6,302.6 330.9,303.5 331.3,303.7 331.6,303.9 332,303.3 332.3,305.6 332.7,305.1 333,305.8 333.4,305.7 333.8,305.7 334.1,304.3 334.4,303.5 334.8,304.2 335.1,306.3 335.5,305.3 335.8,306.3 336.2,305.1 336.5,304.4 336.9,305 337.2,304.7 337.6,305.5 337.9,306.9 338.3,306.9 338.6,305.4 339,304.9 339.3,304.3 339.7,305.5 340,305.2 340.4,305 340.8,304.3 341.1,305.1 341.4,305.9 341.8,304.2 342.1,304.6 342.5,304.6 342.8,305.9 343.2,304.8 343.5,306.1 343.9,306.3 344.2,304.9 344.6,305 344.9,304.1 345.3,303.4 345.6,304.5 346,303 346.3,304.9 347,287.5 347.4,277.9 347.7,265.1 348.1,269.7 348.4,273.4 348.8,276.2 349.1,281.2 349.4,282.5 349.8,285.8 350.1,287.4 350.5,289.2 350.9,291.7 351.2,293.3 351.6,295.4 351.9,295.4 352.2,297.5 352.6,297.6 352.9,300 353.3,298.5 353.6,301 354,299.8 354.4,301.4 354.7,300.9 355.1,301.6 355.4,301.1 355.8,301.7 356.1,300.6 356.4,301 356.8,300.8 357.1,299.7 357.5,301.3 357.9,299.4 358.2,300 358.6,300.8 358.9,298.8 359.2,298.9 359.6,296.9 359.9,298.1 360.3,297.6 360.6,297.5 361,299.2 361.4,297.3 362,293.9 362.4,274.9 362.7,257.6 363.1,264.8 363.4,271.3 363.8,274.4 364.1,278.4 364.4,281.5 364.8,285.4 365.1,288.7 365.5,290.3 365.9,292.9 366.2,292.6 366.6,296.1 366.9,297.5 367.2,298.2 367.6,300.2 367.9,300.5 368.3,301 368.6,302 369,302.4 369.4,301.8 369.7,302.8 370.1,304.6 370.4,304.2 370.8,303.6 371.1,305 371.4,304.6 371.8,304.9 372.1,304.6 372.5,305.3 372.9,305.3 373.2,306 373.6,305.1 373.9,306.2 374.2,304.1 374.6,305.5 374.9,305.7 375.3,304.9 375.6,305.6 376,305.5 376.4,305.6 376.7,306.1 377.1,306.3 377.4,306.1 377.8,304.6 378.1,305.9 378.4,305.7 378.8,305.7 379.1,304.8 379.5,303.8 379.9,306 380.2,304.8 380.6,305.1 380.9,305.4 381.2,304.7 381.6,306.1 381.9,304.4 382.3,304.8 382.6,305.7 383,303.7 383.4,304.2 383.7,303.9 384.1,305.9 384.4,304.9 384.8,305.1 385.1,304.1 385.4,303.5 385.8,306 386.1,304.5 386.5,304.6 386.9,303.6 387.2,304.4 387.6,289.3 388,277.5 388.3,266.7 388.7,270.6 389,273.7 389.4,277.5 389.7,279.9 390.1,284.1 390.4,283.6 390.8,286.7 391.1,289.2 391.5,292.6 391.8,294.9 392.2,295.4 392.5,296.1 392.9,295.3 393.2,297.1 393.6,299.4 393.9,298.7 394.2,299.3 394.6,300.7 395,300.2 395.3,301.2 395.7,302.1 396,302.6 396.4,301.8 396.7,300.9 397.1,302.6 397.4,302.7 397.8,300.7 398.1,303 398.5,299.1 398.8,300.5 399.2,299.2 399.5,297.9 399.9,300 400.2,299.2 400.6,296.1 400.9,297.9 401.2,297.8 401.6,297.5 402,296.9 402.3,296.7 402.7,292.7 403.1,275.5 403.4,257.8 403.8,263.6 404.1,268.1 404.4,273.7 404.8,276.5 405.1,282.2 405.5,284.2 405.8,286 406.2,288.7 406.6,291.6 406.9,294.4 407.2,295.9 407.6,296.8 407.9,297.7 408.3,299.2 408.6,301.1 409,301.3 409.3,301 409.7,301.4 410.1,303.7 410.4,303.3 410.8,304.8 411.1,304.2 411.4,301.3 411.8,304.3 412.1,304.8 412.5,305.2 412.8,305.8 413.2,306.5 413.6,305.2 413.9,305.4 414.2,304.1 414.6,306.6 414.9,305 415.3,304.4 415.6,307 416,304.9 416.3,306.7 416.7,305 417.1,304.3 417.4,305.4 417.8,305.2 418.1,305.9 418.4,305.1 418.8,304.4 419.1,305.4 419.5,305.4 419.8,304.9 420.2,304.5 420.6,306.4 420.9,305.1 421.2,305.6 421.6,304.6 421.9,304.2 422.3,304.7 422.6,303.9 423,305.6 423.3,305.1 423.7,305.5 424.1,304.7 424.4,304.6 424.8,304.8 425.1,305.5 425.4,304.6 425.8,304.8 426.1,303.9 426.5,304.6 427,287 427.4,276.1 427.7,265.8 428.1,268.8 428.4,273.6 428.8,275.3 429.1,278.1 429.4,282.1 429.8,284.4 430.1,288.2 430.5,290.9 430.9,291.5 431.2,293 431.6,295.5 431.9,295.6 432.2,296.6 432.6,297.3 432.9,297.5 433.3,298.8 433.6,300.4 434,300.5 434.4,300.5 434.7,302.1 435.1,300.5 435.4,300.9 435.8,301.9 436.1,302.2 436.4,298.6 436.8,300.7 437.1,300.4 437.5,299.5 437.9,299.8 438.2,300.1 438.6,299.3 438.9,300.1 439.2,298.4 439.6,299.7 439.9,297.7 440.3,297.2 440.6,298.9 441,296.2 441.4,298.6 441.7,296.9 442.2,293.2 442.6,275 442.9,258.3 443.2,261.8 443.6,268.3 443.9,272.3 444.3,277.1 444.6,280.7 445,284.2 445.3,287.1 445.7,288.8 446.1,291.1 446.4,293.1 446.8,295.6 447.1,296.1 447.4,296.5 447.8,298.3 448.1,298.5 448.5,299.7 448.8,301 449.2,301.4 449.6,301.7 449.9,301.7 450.2,302 450.6,301.2 450.9,303.1 451.3,304.1 451.6,302 452,304.2 452.4,291.3 452.7,277.5 453.1,281.4 453.4,284.8 453.8,287.6 454.1,290.4 454.4,292.5 454.8,295.1 455.1,297.1 455.5,298.7 455.9,299.6 456.2,301 456.6,303 456.9,303.5 457.2,305 457.6,305.6 457.9,306.9 458.3,307.2 458.6,308.3 459,309 459.4,309.4 459.7,309.9 460.1,310.6 460.4,311.3 460.8,310.6 461.1,311.7 461.4,312.5 461.8,312.9 462.1,313.3 462.5,312.8 462.9,312.3 463.2,313.5 463.6,313.3 463.9,313.9 464.2,313.1 464.6,313.4 464.9,313.5 465.3,313.3 465.6,313.3 466,313.6 466.4,314.2 466.7,314.5 467.1,314.5 467.4,314.7 467.8,313.6 468.1,314.3 468.4,314.2 468.8,314.2 469.1,313.6 469.5,314.5 469.9,314 470.2,314.3 470.6,314.4 470.9,315.1 471.2,314.1 471.6,314.7 471.9,314.6 472.3,314.4 472.6,314.4 473,314.1 473.4,314.7 473.7,314.4 474.1,314.4 474.4,314.4 474.8,314.2 475.1,314.5 475.4,314 475.8,314.7 476.1,314.9 476.5,314.4 476.9,314 477.2,314.6 477.6,314.6 477.9,314.5 478.2,314.4 478.6,314.5 478.9,314.3 479.3,315 479.6,313.9 480,314.2 480.4,314.7 480.7,313.9 481.1,314.2 481.4,313.9 481.8,314.7 482.1,313.8 482.4,314.3 482.8,315 483.1,314.1 483.5,314.4 483.9,314.6 484.2,314.4 484.6,314.9 484.9,314.1 485.2,314.3 485.6,314.4 485.9,313.8 486.3,314.2 486.6,314.5 487,314.6 487.4,314.2 487.7,313.9 488.1,314.4 488.4,314.5 488.8,313.9 489.1,314.2 489.5,299.8 489.9,291.4 490.2,287.2 490.6,288 490.9,291.2 491.2,291.5 491.6,292.2 491.9,293 492.3,296 492.6,295.3 493,296.3 493.4,297.8 493.7,296.5 494.1,299.2 494.4,300.5 494.8,300 495.1,302.3 495.4,300 495.8,300.9 496.1,302.4 496.5,301.9 496.9,302.3 497.2,301.4 497.6,303.7 497.9,304.5 498.2,305.3 498.6,304.1 498.9,305.2 499.3,304.3 499.6,304 500,304.8 500.4,305.3 500.7,303.7 501.1,304.9 501.4,304.6 501.8,304.1 502.1,306 502.4,305.7 502.8,303.1 503.1,305.2 503.5,306 503.9,305.4 504.2,305.7 504.6,306.2 504.9,305.6 505.2,305.3 505.6,305.4 506.2,287.9 506.6,278.7 506.9,267 507.2,269.3 507.6,274 507.9,276.1 508.3,279.9 508.6,284.1 509,285 509.3,288.5 509.7,289.6 510.1,290.7 510.4,291.6 510.8,294.8 511.1,295.5 511.4,296.9 511.8,297.5 512.1,301 512.5,299.9 512.9,300 513.2,300.3 513.5,301.6 513.9,300.6 514.2,300.5 514.6,301.4 515,301.6 515.3,301.7 515.6,301.1 516,300.1 516.4,299.5 516.7,300.7 517,300.7 517.4,300.2 517.8,298.4 518.1,298.5 518.5,297.9 518.8,297.3 519.1,297.3 519.5,297.7 519.9,298.5 520.2,298.2 520.8,292.8 521.1,275.2 521.5,258.5 521.8,264.5 522.2,268.4 522.5,274.5 522.9,278 523.2,281.9 523.6,285.5 523.9,288.7 524.3,290.3 524.6,292.6 525,293.1 525.3,296.3 525.7,297.1 526,297.5 526.4,299.1 526.8,299.6 527.1,300.1 527.4,302.8 527.8,302.4 528.1,303.4 528.5,302 528.8,303.6 529.2,303.4 529.5,302.8 529.9,304.6 530.2,304.5 530.6,304.4 530.9,305.1 531.3,304.1 531.6,304.5 532,304.4 532.3,305.3 532.7,305.6 533,305.7 533.4,305.7 533.8,306.7 534.1,305.2 534.4,304.8 534.8,305.5 535.1,305.9 535.5,305.4 535.8,305.3 536.2,305.2 536.5,304 536.9,306 537.2,305.1 537.6,304.8 537.9,305.2 538.3,305.4 538.6,306 539,305.6 539.3,304.6 539.7,303.9 540,305.5 540.4,304.6 540.8,304.5 541.1,304.1 541.4,304.7 541.8,304.5 542.1,304.1 542.5,305.6 542.8,304.6 543.2,306 543.5,306.1 543.9,305.2 544.2,305.7 544.6,304 544.9,303.6 545.3,304.6 545.8,288.3 546.1,277.3 546.5,265.9 546.8,269.7 547.2,273.2 547.5,277.3 547.9,280.6 548.2,283.2 548.6,284.7 548.9,288 549.3,288.6 549.6,291.7 550,292.1 550.3,295.6 550.7,296.5 551,296.7 551.4,297.7 551.8,299 552.1,298 552.4,300.1 552.8,300.5 553.1,301.5 553.5,300 553.8,300.8 554.2,301.2 554.5,302.8 554.9,301.2 555.2,301.7 555.6,300.8 555.9,300.2 556.3,301.1 556.6,300 557,299.1 557.3,299.3 557.7,299.2 558,299.3 558.4,298.5 558.8,298.6 559.1,296.9 559.4,297.6 559.8,298.6 560.1,297.7 560.6,294.6 561,279.6 561.3,259.7 561.6,265.4 562,272.5 562.4,276.3 562.7,279.4 563.1,283.2 563.4,286.6 563.8,288.9 564.1,290.9 564.5,293.1 564.8,294.3 565.1,296.1 565.5,297.9 565.9,298.4 566.2,300.7 566.6,299.2 566.9,302.4 567.2,301.8 567.6,302 568,302.5 568.3,303 568.6,302.6 569,304.8 569.4,304.3 569.7,304.3 570.1,305 570.4,305.3 570.8,304 571.1,305.6 571.5,305.5 571.8,305.5 572.1,305.5 572.5,305.2 572.9,305.6 573.2,305.1 573.6,305.3 573.9,305.1 574.2,304.4 574.6,306.1 575,304.2 575.3,305.8 575.6,304.9 576,305.3 576.4,305.6 576.7,306.8 577.1,304.1 577.4,305.8 577.8,305.8 578.1,304.4 578.5,305.1 578.8,303.7 579.1,303.8 579.5,304.5 579.9,304.8 580.2,304.4 580.6,305.9 580.9,304.7 581.2,304.7 581.6,305.1 582,304.5 582.3,305.8 582.6,303.9 583,303.6 583.4,305.5 583.7,304.4 584.1,303.2 584.4,304 585,289.2 585.4,278.2 585.7,265.4 586,268.8 586.4,274.7 586.8,277.2 587.1,280.9 587.5,283.3 587.8,285.3 588.1,287.9 588.5,290.4 588.9,290.1 589.2,293.5 589.5,294.9 589.9,295.2 590.2,297.2 590.6,298.3 591,298.3 591.3,300.5 591.6,299.7 592,299.9 592.4,300.6 592.7,301.4 593,301.5 593.4,302.8 593.8,301.6 594.1,301.2 594.5,300.6 594.8,300.9 595.1,301 595.5,301 595.9,300.1 596.2,299.5 596.5,298.2 596.9,298.7 597.2,298.6 597.6,297.8 598,298 598.3,297.8 598.6,299.3 599,298.9 599.6,294 600,275.6 600.3,258.9 600.6,264.7 601,269.1 601.4,275.3 601.7,277.7 602.1,281.7 602.4,285.6 602.8,286.7 603.1,291.2 603.5,293 603.8,294.1 604.1,295.3 604.5,297.1 604.9,299.8 605.2,299.4 605.6,300.2 605.9,298.9 606.2,300.5 606.6,302.1 607,303.5 607.3,302.9 607.6,304.4 608,303.7 608.4,303.9" fill="none" stroke="#6ccaf5" stroke-width="1.4" stroke-linejoin="round" stroke-opacity="0.95"/>
<rect x="444.5" y="196.3" width="188.6" height="19.6" rx="2.5" fill="#fff" fill-opacity="0.8" stroke="#d9d9d9" stroke-width="0.9"/>
<path d="M448.6 205.4H473.3" stroke="#d97918" stroke-width="1.6"/>
<path d="M543.1 205.5H568" stroke="#6ccaf5" stroke-width="1.6"/>
<text x="482" y="210" font-size="12" textLength="38" lengthAdjust="spacingAndGlyphs">ARIMA</text>
<text x="577.3" y="210" font-size="12" textLength="51.5" lengthAdjust="spacingAndGlyphs">LSTM-DT</text>
<rect x="147.3" y="192" width="42.6" height="16.2" rx="3" fill="#dd9a9e"/>
<text x="154" y="206.8" font-size="17" textLength="29.2" lengthAdjust="spacingAndGlyphs">PL1</text>
<path d="M145.2 199.3H131" stroke="#000" stroke-width="1.8"/>
<path d="M128 199.3L134 196.2L132.6 199.3L134 202.5Z" fill="#000" stroke="#000" stroke-width="0.8" stroke-linejoin="miter"/>
<rect x="457.1" y="253.1" width="42.6" height="16.3" rx="3" fill="#dd9a9e"/>
<text x="464.5" y="267.9" font-size="17" textLength="30.5" lengthAdjust="spacingAndGlyphs">PL2</text>
<path d="M473.75 273.5V307" stroke="#000" stroke-width="1.8"/>
<path d="M473.75 310.6L470.6 304.6L473.75 306L476.9 304.6Z" fill="#000" stroke="#000" stroke-width="0.8"/>
<polyline points="55,425 55.5,431.2 56,439.3 56.5,447.7 57,455.3 57.5,462 58,467.6 58.5,470.6 59,472.2 59.5,473.9 60,474.4 60.5,474.3 61,474 61.5,474 62,474.1 62.5,474.1 63,474 63.5,473.9 64,473.6 64.5,473.3 65,473.9 65.5,475.7 66,477.6 66.5,476.7 67,470.6 67.5,462.3 68,455.7 68.5,452.6 69,450.7 69.5,449.3 70,448.6 70.5,448.3 71,448.9 71.5,450.3 72,452.6 72.5,456.5 73,461.7 73.5,466.9 74,470.1 74.5,470.8 75,470.4 75.5,469.9 76,470 76.5,469.8 77,468.8 77.5,468.6 78,469.5 78.5,470.6 79,470.5 79.5,470.5 80,471 80.5,471.3 81,471.1 81.5,470 82,467.3 82.5,462.2 83,455.9 83.5,450.7 84,448.4 84.5,447.8 85,447.4 85.5,447.6 86,448 86.5,448.6 87,450.9 87.5,456.4 88,462.9 88.5,468.5 89,472.2 89.5,474.9 90,477 90.5,478.6 91,479.4 91.5,479.8 92,479.7 92.5,479.5 93,479.8 93.5,480.1 94,479.7 94.5,479.8 95,480 95.5,480.1 96,479.9 96.5,479.6 97,479.9 97.5,479.9 98,479.9 98.5,479.8 99,479.5 99.5,479.5 100,480 100.5,480.4 101,480.6 101.5,480.7 102,480.9 102.5,480.4 103,480.2 103.5,480.2 104,480 104.5,479.9 105,480.3 105.5,480.5 106,479 106.5,473.5 107,465 107.5,456.6 108,451.2 108.5,449.2 109,448.4 109.5,447.4 110,446.8 110.5,446.6 111,447.3 111.5,449.6 112,453.6 112.5,459 113,464.7 113.5,469 114,470.8 114.5,471.2 115,470.6 115.5,470.2 116,470 116.5,469.8 117,469.5 117.5,469.9 118,470.7 118.5,471.2 119,471.3 119.5,471.2 120,471 120.5,470.8 121,469.1 121.5,465.2 122,459.6 122.5,453.7 123,449.8 123.5,448.2 124,447.9 124.5,448 125,448 125.5,448.4 126,449.7 126.5,453.6 127,459.4 127.5,465.5 128,470.5 128.5,473.7 129,475.8 129.5,477.7 130,479.1 130.5,479.7 131,479.7 131.5,479.7 132,479.8 132.5,479.6 133,479.8 133.5,479.8 134,479.5 134.5,479.6 135,479.9 135.5,479.8 136,479.5 136.5,479.7 137,479.6 137.5,479.4 138,480 138.5,480.5 139,480.3 139.5,479.9 140,480 140.5,480.1 141,480 141.5,480.2 142,480.5 142.5,480.8 143,480.5 143.5,479.6 144,479.3 144.5,479.6 145,479.4 145.5,476.6 146,469.6 146.5,460.8 147,453.9 147.5,450.4 148,449.1 148.5,448 149,447 149.5,446.8 150,447.2 150.5,448.6 151,451.1 151.5,455.9 152,462 152.5,467.5 153,470.6 153.5,471 154,470.8 154.5,470.8 155,470.6 155.5,470.1 156,469.4 156.5,469.5 157,470.8 157.5,471.3 158,471.4 158.5,471.4 159,471.3 159.5,471.2 160,471.1 160.5,470.4 161,468 161.5,463.5 162,458.2 162.5,454 163,452.2 163.5,451.6 164,451.2 164.5,451.4 165,451.5 165.5,451.9 166,454 166.5,458.6 167,463.9 167.5,468.7 168,472.3 168.5,475.1 169,477.1 169.5,478.5 170,479.4 170.5,479.6 171,479.5 171.5,479.5 172,479.6 172.5,479.8 173,479.9 173.5,479.8 174,480 174.5,480.2 175,479.8 175.5,479.7 176,479.8 176.5,479.9 177,479.7 177.5,479.6 178,479.9 178.5,480.2 179,479.7 179.5,479.7 180,480 180.5,480 181,480.3 181.5,480.4 182,480.3 182.5,480.3 183,480.1 183.5,480.1 184,480.3 184.5,479.8 185,476.6 185.5,469 186,459.6 186.5,451.8 187,448.2 187.5,447 188,446.3 188.5,445.5 189,445.1 189.5,445.5 190,447.2 190.5,450.4 191,455.8 191.5,462 192,467.3 192.5,470.2 193,470.7 193.5,470.7 194,470.8 194.5,470.2 195,469.3 195.5,468.8 196,468.7 196.5,469.1 197,470.2 197.5,470.8 198,471.1 198.5,471.1 199,471.2 199.5,470.9 200,468.5 200.5,464.1 201,458.6 201.5,454 202,452.3 202.5,451.6 203,451 203.5,451.4 204,451.7 204.5,452.5 205,454.8 205.5,458.7 206,463.5 206.5,468.5 207,472.4 207.5,474.9 208,477.1 208.5,478.9 209,479.5 209.5,479.5 210,479.5 210.5,479.7 211,479.8 211.5,479.6 212,479.7 212.5,479.9 213,480 213.5,480.3 214,480.1 214.5,480 215,480 215.5,480.2 216,480.3 216.5,480.5 217,480.3 217.5,479.9 218,479.8 218.5,479.9 219,480.1 219.5,480.2 220,480.2 220.5,480 221,480 221.5,479.8 222,480.2 222.5,480.8 223,480.7 223.5,480 224,478.1 224.5,473.3 225,465.5 225.5,457.4 226,452 226.5,450.1 227,448.9 227.5,448.3 228,448.2 228.5,447.9 229,447.8 229.5,449.4 230,453.6 230.5,459.7 231,465.6 231.5,469.7 232,471 232.5,470.9 233,470.9 233.5,470.6 234,470.1 234.5,469.9 235,469.7 235.5,470.1 236,470.6 236.5,471 237,471.3 237.5,471.6 238,471.6 238.5,471.4 239,471.3 239.5,470.5 240,466.8 240.5,461.2 241,456.4 241.5,453.5 242,452.3 242.5,451.8 243,451.3 243.5,451.5 244,452.1 244.5,453.1 245,456.3 245.5,461.4 246,466.2 246.5,470 247,472.9 247.5,475.6 248,477.7 248.5,478.8 249,479.3 249.5,479.4 250,479.6 250.5,479.7 251,479.5 251.5,479.6 252,479.8 252.5,479.6 253,479.4 253.5,479.3 254,479.5 254.5,480 255,480.3 255.5,480.6 256,480.4 256.5,480.1 257,480.5 257.5,480.5 258,480.5 258.5,480.8 259,480.9 259.5,480.6 260,480.1 260.5,480 261,480.1 261.5,480 262,480.1 262.5,479.8 263,480 263.5,480 264,476.5 264.5,468.8 265,459.6 265.5,452.2 266,448.7 266.5,447.1 267,446.2 267.5,445.5 268,445 268.5,445.5 269,446.9 269.5,449.6 270,455.1 270.5,461.5 271,467.1 271.5,470.4 272,470.8 272.5,470.2 273,470.1 273.5,470 274,469.5 274.5,469.3 275,469.9 275.5,470.7 276,471.3 276.5,471.3 277,470.9 277.5,471 278,471.5 278.5,471.2 279,468.3 279.5,462.7 280,456.3 280.5,451.3 281,449.6 281.5,449.5 282,449.6 282.5,449.3 283,449.3 283.5,449.7 284,452.1 284.5,457.2 285,463.5 285.5,468.7 286,472.7 286.5,475.5 287,477.1 287.5,478.2 288,479.1 288.5,479.7 289,479.8 289.5,479.6 290,479.5 290.5,479.6 291,479.6 291.5,479.5 292,479.5 292.5,480.1 293,480.2 293.5,480.3 294,480.4 294.5,480.3 295,480.1 295.5,480 296,479.9 296.5,479.7 297,479.8 297.5,480.1 298,480.1 298.5,480.3 299,480.3 299.5,479.9 300,479.8 300.5,480 301,479.8 301.5,480 302,479.8 302.5,479.4 303,479.4 303.5,478.2 304,472.7 304.5,464.2 305,456.1 305.5,451.2 306,449.8 306.5,448.8 307,447.4 307.5,446.5 308,446.2 308.5,447.2 309,449.8 309.5,454 310,459.5 310.5,465.2 311,469.4 311.5,470.4 312,470.2 312.5,470.2 313,470.3 313.5,469.9 314,469 314.5,469 315,469.7 315.5,470.9 316,471.6 316.5,471.7 317,471.7 317.5,471.6 318,471.5 318.5,469.8 319,465.2 319.5,459.5 320,454.4 320.5,451.3 321,450.5 321.5,450.1 322,449.8 322.5,450 323,450.7 323.5,452.2 324,455.4 324.5,460.8 325,466.4 325.5,470.5 326,473.5 326.5,476 327,478.1 327.5,479.1 328,479.3 328.5,479.2 329,479.4 329.5,479.4 330,479.3 330.5,479.7 331,480.1 331.5,479.8 332,479.8 332.5,479.9 333,480.1 333.5,479.9 334,479.6 334.5,479.7 335,479.5 335.5,479.5 336,479.8 336.5,480 337,480.3 337.5,480.5 338,480.1 338.5,480 339,480.1 339.5,479.8 340,479.7 340.5,480 341,480.4 341.5,480.3 342,480.1 342.5,479.6 343,476.2 343.5,468.4 344,459 344.5,451.5 345,448 345.5,447 346,446 346.5,445.4 347,445.5 347.5,446 348,446.8 348.5,449.4 349,455.1 349.5,461.8 350,467.3 350.5,470.3 351,471.1 351.5,470.8 352,470.4 352.5,470.3 353,470.2 353.5,470 354,469.7 354.5,470.5 355,471.5 355.5,472.1 356,472.4 356.5,472.2 357,471.7 357.5,470.6 358,467.5 358.5,462 359,456.5 359.5,452 360,449.8 360.5,448.9 361,448.5 361.5,448.9 362,449.4 362.5,449.9 363,452.3 363.5,457.2 364,463.3 364.5,468.7 365,472.1 365.5,474.5 366,476.8 366.5,478.3 367,478.9 367.5,479.1 368,479.4 368.5,479.7 369,479.9 369.5,479.5 370,479.3 370.5,479.5 371,479.5 371.5,479.6 372,480 372.5,480 373,479.9 373.5,479.8 374,479.7 374.5,479.9 375,480.5 375.5,480.6 376,480.4 376.5,480.4 377,480.1 377.5,479.8 378,480.2 378.5,480.5 379,480.4 379.5,480.2 380,480 380.5,479.9 381,479.7 381.5,479.6 382,479.3 382.5,476 383,468.6 383.5,459.9 384,453.2 384.5,450.2 385,449 385.5,447.9 386,447.1 386.5,447 387,447.3 387.5,448 388,451 388.5,456.3 389,462.2 389.5,467.5 390,470.5 390.5,470.9 391,470.4 391.5,469.9 392,469.9 392.5,469.8 393,469.9 393.5,470.2 394,470.9 394.5,471.2 395,471 395.5,470.9 396,471.4 396.5,471.7 397,471.2 397.5,469.1 398,464.6 398.5,458.8 399,452.9 399.5,449.2 400,447.9 400.5,447.5 401,447.7 401.5,448.1 402,448.6 402.5,450.3 403,454.1 403.5,459.5 404,465.4 404.5,470.4 405,473.6 405.5,476 406,477.9 406.5,479.2 407,479.6 407.5,479.6 408,479.7 408.5,479.9 409,479.9 409.5,479.4 410,479.4 410.5,479.3 411,479.2 411.5,479.5 412,479.3 412.5,479.5 413,479.8 413.5,480 414,480.3 414.5,480.3 415,479.9 415.5,479.7 416,479.7 416.5,479.6 417,479.9 417.5,480.5 418,480.5 418.5,480.3 419,480.3 419.5,480.7 420,480.3 420.5,480.1 421,479.9 421.5,479.7 422,479.8 422.5,478.3 423,472.5 423.5,463.6 424,455.1 424.5,449.6 425,447.4 425.5,446.5 426,446.1 426.5,447.9 427,453.7 427.5,461.5 428,468.2 428.5,471.3 429,472.4 429.5,472.7 430,472.5 430.5,471.9 431,471.6 431.5,471.4 432,471.3 432.5,471.1 433,470.8 433.5,470.6 434,470.6 434.5,470.6 435,470.5 435.5,469.8 436,468.9 436.5,466.8 437,461.2 437.5,454.1 438,447.7 438.5,443.5 439,440.7 439.5,437.9 440,434.9 440.5,432 441,429.4 441.5,429.7 442,431.2 442.5,429.7 443,426.6 443.5,423.1 444,419.6 444.5,416.1 445,412.2 445.5,408.1 446,404.9 446.5,402.2 447,399.5 447.5,397 448,395.1 448.5,393.5 449,392.7 449.5,393.3 450,394.9 450.5,398 451,404.4 451.5,412.1 452,419.9 452.5,428.2 453,437.1 453.5,445.9 454,454.2 454.5,462.3 455,469 455.5,472.4 456,473.8 456.5,474.8 457,476.1 457.5,477.3 458,478.5 458.5,479 459,479.3 459.5,479.7 460,480.1 460.5,480.6 461,480.9 461.5,481.3 462,481.4 462.5,480.9 463,480.8 463.5,481.3 464,481.5 464.5,481.3 465,481 465.5,480.5 466,480.3 466.5,480.4 467,480.6 467.5,480.9 468,481 468.5,480.9 469,480.7 469.5,481 470,481.4 470.5,480.9 471,480.2 471.5,478.6 472,474.2 472.5,468.1 473,461.1 473.5,453.5 474,445.8 474.5,437.5 475,428.4 475.5,419.4 476,410.6 476.5,402.4 477,395.4 477.5,389.1 478,382.9 478.5,376.7 479,371 479.5,366.1 480,364.3 480.5,367.4 481,373.2 481.5,379.4 482,383.3 482.5,383.3 483,381.2 483.5,379 484,377.3 484.5,376.9 485,380.1 485.5,384.7 486,389.7 486.5,395.9 487,403.9 487.5,412.8 488,421.7 488.5,430 489,438.2 489.5,446.2 490,454.2 490.5,461.9 491,468.3 491.5,472.9 492,476.4 492.5,479.3 493,480.6 493.5,480.5 494,480.2 494.5,479.7 495,480 495.5,480.3 496,480.1 496.5,479.5 497,479.4 497.5,479.2 498,479 498.5,479 499,479 499.5,478.7 500,478.2 500.5,475.7 501,468.9 501.5,459.8 502,452.9 502.5,449.9 503,448.6 503.5,447.7 504,447.3 504.5,446.9 505,446.8 505.5,447.7 506,450.6 506.5,455.8 507,462.2 507.5,467.8 508,470.5 508.5,470.9 509,470.7 509.5,470.2 510,469.8 510.5,469.4 511,469 511.5,469.1 512,469.9 512.5,470.4 513,470.9 513.5,471.4 514,471.5 514.5,471.4 515,470.3 515.5,466.9 516,460.8 516.5,454.6 517,449.5 517.5,447.3 518,447.2 518.5,446.9 519,446.9 519.5,447 520,447.4 520.5,450.1 521,456.3 521.5,463.3 522,468.9 522.5,472.2 523,474.7 523.5,476.7 524,478.5 524.5,479.4 525,479.9 525.5,480 526,479.9 526.5,479.4 527,479.3 527.5,479.6 528,479.8 528.5,479.9 529,479.7 529.5,479.4 530,479.8 530.5,480.3 531,480.2 531.5,479.6 532,479.1 532.5,479.4 533,479.9 533.5,480 534,479.9 534.5,480.1 535,480.5 535.5,480.3 536,480 536.5,479.8 537,480.3 537.5,481.1 538,480.9 538.5,480.7 539,480.9 539.5,480.7 540,478.5 540.5,472.4 541,463.6 541.5,455.6 542,451.2 542.5,449.3 543,448.1 543.5,447.3 544,447 544.5,447.1 545,447.8 545.5,450 546,454.5 546.5,459.9 547,465.2 547.5,469.4 548,470.9 548.5,471 549,470.7 549.5,470.5 550,470.5 550.5,470.1 551,469.4 551.5,469.5 552,470.4 552.5,470.9 553,470.9 553.5,471 554,471.4 554.5,471.2 555,469.5 555.5,465.7 556,461.2 556.5,456.7 557,454.2 557.5,453.4 558,453.2 558.5,453.2 559,453.3 559.5,453.9 560,455.1 560.5,458 561,462.9 561.5,467.9 562,471.2 562.5,473.6 563,476 563.5,478.1 564,479.1 564.5,479.3 565,479.5 565.5,479.7 566,479.9 566.5,479.7 567,479.5 567.5,479.8 568,480 568.5,480 569,479.9 569.5,479.7 570,479.9 570.5,480 571,480.2 571.5,480.3 572,480.3 572.5,480.2 573,480.1 573.5,480.1 574,480.2 574.5,480.4 575,480.2 575.5,479.8 576,479.8 576.5,480.1 577,480.3 577.5,480.4 578,480 578.5,479.8 579,479.2 579.5,475.2 580,467.6 580.5,459.4 581,452.9 581.5,450 582,448.7 582.5,447.9 583,447.1 583.5,446.7 584,447.2 584.5,448.5 585,451.6 585.5,456.9 586,463 586.5,468.2 587,470.4 587.5,470.6 588,470.5 588.5,470.4 589,470.3 589.5,470.1 590,469.7 590.5,469.5 591,469.9 591.5,470.8 592,471.2 592.5,471.1 593,471.2 593.5,471.2 594,471.1 594.5,470.1 595,467 595.5,461.8 596,455.9 596.5,451.7 597,450 597.5,449.3 598,448.8 598.5,449 599,449.4 599.5,450 600,453.1 600.5,458.6 601,464.2 601.5,469 602,472.4 602.5,475.1 603,477.3 603.5,478.7 604,479.2 604.5,478.6 605,478.2 605.5,478.5 606,478.4 606.5,478.5" fill="none" stroke="#69ad26" stroke-width="1.5" stroke-linejoin="round"/>
<polyline points="55,447.2 55.5,450.1 56,453.8 56.5,457.3 57,460.7 57.5,464 58,466.7 58.5,469.1 59,470.8 59.5,471.7 60,472.9 60.5,473.9 61,474.3 61.5,475 62,475.8 62.5,477.1 63,478.1 63.5,478.2 64,478.5 64.5,478.7 65,478.8 65.5,479.2 66,479.2 66.5,476.6 67,470.1 67.5,461.9 68,454.9 68.5,450.9 69,449.5 69.5,448.6 70,447.9 70.5,447.7 71,447.7 71.5,448.8 72,451.4 72.5,456 73,462.1 73.5,469.3 74,473.9 74.5,475 75,475.2 75.5,474.6 76,474.2 76.5,474 77,474.1 77.5,474.1 78,474.7 78.5,475.4 79,475.2 79.5,475.1 80,475.1 80.5,475 81,475.5 81.5,474.8 82,470.6 82.5,462 83,452.1 83.5,444.2 84,440.4 84.5,439.4 85,439 85.5,439 86,439.3 86.5,440.3 87,443.5 87.5,450.5 88,459.3 88.5,466.6 89,471 89.5,474 90,476.5 90.5,478.1 91,478.9 91.5,479.2 92,479.2 92.5,479.3 93,478.8 93.5,478.8 94,479.1 94.5,479.3 95,479.5 95.5,479.6 96,479.6 96.5,479.6 97,479.8 97.5,479.9 98,479.4 98.5,479.2 99,478.9 99.5,478.9 100,479.1 100.5,479.4 101,479.2 101.5,478.9 102,479.1 102.5,479.3 103,479.2 103.5,479.3 104,479.4 104.5,479.7 105,479.8 105.5,479.6 106,478.3 106.5,472.8 107,463.3 107.5,453.3 108,446.9 108.5,444.6 109,443.6 109.5,442.6 110,442.1 110.5,442 111,442.8 111.5,445 112,450 112.5,457.6 113,465.5 113.5,471 114,472.9 114.5,473 115,472.8 115.5,472.8 116,472.6 116.5,471.9 117,471.3 117.5,471.9 118,473 118.5,473.8 119,473.6 119.5,473.3 120,473.5 120.5,473.8 121,472 121.5,466.3 122,458.6 122.5,451.4 123,446.7 123.5,444.9 124,444 124.5,443.3 125,443.3 125.5,443.8 126,445.6 126.5,450.8 127,457.7 127.5,464.6 128,470 128.5,472.9 129,475 129.5,477.1 130,478.8 130.5,479.3 131,478.9 131.5,478.4 132,478.4 132.5,478.7 133,479.2 133.5,479.5 134,479.1 134.5,479 135,478.9 135.5,478.5 136,478.9 136.5,479.4 137,479.6 137.5,479.5 138,479.8 138.5,479.6 139,479.3 139.5,479.5 140,479.6 140.5,479.6 141,479.5 141.5,479.4 142,479.5 142.5,479.6 143,479.5 143.5,479.4 144,479.7 144.5,480 145,479.4 145.5,475.9 146,468.1 146.5,458.6 147,450.8 147.5,446.9 148,445.4 148.5,444.5 149,443.7 149.5,443.1 150,443.2 150.5,444.5 151,448.1 151.5,454.5 152,462.2 152.5,469.2 153,473 153.5,473.4 154,473.2 154.5,473 155,472.3 155.5,471.6 156,471.2 156.5,471.4 157,472.6 157.5,473.5 158,473.4 158.5,473.4 159,473.6 159.5,473.6 160,473.2 160.5,472.3 161,468.9 161.5,462.3 162,454.8 162.5,449.2 163,446.8 163.5,445.7 164,445.1 164.5,445.1 165,445.6 165.5,446.2 166,448.3 166.5,454.1 167,461.3 167.5,467.6 168,471.5 168.5,474 169,475.9 169.5,477.7 170,478.7 170.5,479 171,479.2 171.5,479.2 172,479.2 172.5,479.3 173,479.2 173.5,479 174,478.9 174.5,478.9 175,479 175.5,479.4 176,479.7 176.5,479.8 177,479.4 177.5,479.3 178,479.9 178.5,480.1 179,479.9 179.5,479.5 180,479.2 180.5,479 181,478.9 181.5,479.3 182,479.6 182.5,479.4 183,479.5 183.5,479.7 184,479.5 184.5,478.8 185,475.2 185.5,466.9 186,456.6 186.5,448.2 187,444.2 187.5,442.4 188,441.6 188.5,441 189,440.7 189.5,441.2 190,442.6 190.5,446.5 191,453.3 191.5,461.1 192,468.2 192.5,472.3 193,473.2 193.5,473.1 194,473 194.5,472.5 195,471.8 195.5,471.5 196,471.5 196.5,472.2 197,473 197.5,473.2 198,472.9 198.5,473 199,473.3 199.5,472.5 200,469.1 200.5,462.5 201,454.3 201.5,447.6 202,445.1 202.5,444.7 203,444.4 203.5,444.5 204,444.7 204.5,445.5 205,447.9 205.5,453.9 206,461.5 206.5,468.1 207,472.1 207.5,474.5 208,476.6 208.5,478.1 209,479 209.5,479.3 210,479.2 210.5,479.3 211,479.4 211.5,479.2 212,478.9 212.5,479 213,479.2 213.5,479.2 214,478.9 214.5,479 215,479.1 215.5,479.3 216,479.8 216.5,480 217,479.6 217.5,479.5 218,479.6 218.5,479.6 219,479.7 219.5,479.8 220,479.4 220.5,479.3 221,479.7 221.5,479.9 222,480.2 222.5,480.3 223,480 223.5,479.8 224,478.1 224.5,471.9 225,462.1 225.5,452.2 226,446.2 226.5,443.8 227,442.7 227.5,441.8 228,441.2 228.5,440.9 229,441.4 229.5,444 230,449.6 230.5,457.5 231,465.4 231.5,471.1 232,473 232.5,473.1 233,472.7 233.5,472.2 234,471.8 234.5,471.5 235,471.4 235.5,471.6 236,472.4 236.5,473.2 237,473.4 237.5,473.3 238,473.1 238.5,473 239,472.7 239.5,471 240,466.2 240.5,458.7 241,450.8 241.5,446.2 242,445 242.5,444.7 243,444.9 243.5,445.1 244,445.4 244.5,447 245,451.4 245.5,458.4 246,465.4 246.5,470.3 247,473.1 247.5,475.2 248,477.3 248.5,478.6 249,478.9 249.5,479.1 250,479.5 250.5,479.7 251,479.8 251.5,479.6 252,479.6 252.5,479.6 253,479.4 253.5,479.4 254,479.6 254.5,479.4 255,479.4 255.5,479.4 256,478.9 256.5,478.8 257,479.5 257.5,479.7 258,479.5 258.5,479.4 259,479.2 259.5,479.3 260,479.5 260.5,479.7 261,479.3 261.5,478.9 262,479.2 262.5,479.4 263,479.4 263.5,479 264,475.6 264.5,467.7 265,457.9 265.5,450.2 266,446.9 266.5,445 267,443.4 267.5,442.7 268,442.7 268.5,443.3 269,444.7 269.5,448 270,454.4 270.5,462.1 271,469.2 271.5,472.7 272,473.1 272.5,472.9 273,472.6 273.5,472.1 274,472 274.5,472 275,472 275.5,472.7 276,473 276.5,473.2 277,473.6 277.5,473.7 278,473.5 278.5,472.9 279,468.8 279.5,460.8 280,452.3 280.5,446 281,443.1 281.5,442.5 282,442.3 282.5,442.2 283,442.5 283.5,443.2 284,446.1 284.5,452.9 285,461.4 285.5,468.2 286,471.9 286.5,474.3 287,476.6 287.5,478.3 288,478.9 288.5,478.9 289,478.8 289.5,479 290,479.2 290.5,479 291,479 291.5,479.3 292,479.4 292.5,479.4 293,479.3 293.5,479.1 294,478.9 294.5,479 295,479.5 295.5,479.9 296,479.9 296.5,479.9 297,479.7 297.5,479.5 298,479.1 298.5,479.6 299,479.9 299.5,479.4 300,479.2 300.5,479.4 301,479.4 301.5,479.3 302,479.2 302.5,479.5 303,479.5 303.5,477.9 304,472 304.5,462.6 305,453.1 305.5,447.5 306,445.5 306.5,443.7 307,442.5 307.5,442.7 308,442.9 308.5,443.4 309,445.7 309.5,451 310,458.6 310.5,466.1 311,471.1 311.5,472.7 312,473.1 312.5,473.1 313,472.6 313.5,471.9 314,471.7 314.5,471.8 315,472.5 315.5,473.4 316,473.7 316.5,473.6 317,473.5 317.5,473.1 318,472.8 318.5,471.1 319,465.5 319.5,457.6 320,449.9 320.5,445.4 321,444.6 321.5,444.4 322,444.2 322.5,444.1 323,444.7 323.5,446.4 324,451 324.5,457.9 325,464.9 325.5,469.7 326,472.6 326.5,475 327,477.1 327.5,478.4 328,478.9 328.5,479.1 329,479.1 329.5,479.1 330,478.9 330.5,478.8 331,478.7 331.5,478.8 332,479.2 332.5,479.1 333,478.7 333.5,478.9 334,479.4 334.5,479.8 335,479.7 335.5,479.4 336,479.7 336.5,479.8 337,479.7 337.5,479.7 338,479.6 338.5,479.5 339,479.4 339.5,479.6 340,480.1 340.5,480.3 341,479.8 341.5,479.5 342,479.4 342.5,478.8 343,475.1 343.5,466.7 344,456.6 344.5,447.8 345,443.6 345.5,442.2 346,441 346.5,440.6 347,440.4 347.5,440.9 348,442.5 348.5,446.4 349,453.6 349.5,462 350,468.9 350.5,472.3 351,473 351.5,473.1 352,472.7 352.5,472.1 353,471.7 353.5,471.3 354,471.4 354.5,472.5 355,473.3 355.5,473.1 356,473 356.5,473 357,473.1 357.5,472.5 358,468.6 358.5,461 359,452.7 359.5,446.2 360,443.9 360.5,443.6 361,443 361.5,442.6 362,443.3 362.5,444.5 363,447.6 363.5,453.8 364,461.2 364.5,467.7 365,471.8 365.5,475 366,477.7 366.5,478.8 367,479 367.5,479 368,479 368.5,478.7 369,478.8 369.5,479.3 370,479.7 370.5,479.5 371,479.3 371.5,479.5 372,479.4 372.5,479.4 373,479.4 373.5,479 374,478.6 374.5,479.2 375,479.6 375.5,479.7 376,479.6 376.5,479.7 377,479.6 377.5,479.7 378,479.7 378.5,479.6 379,479.8 379.5,480.3 380,480.5 380.5,480.1 381,479.8 381.5,479.8 382,478.7 382.5,475.1 383,467.5 383.5,458.2 384,450.4 384.5,446.5 385,445.3 385.5,444.5 386,443.7 386.5,443.4 387,443.7 387.5,444.9 388,448.2 388.5,454.4 389,462.2 389.5,469.4 390,472.9 390.5,473.1 391,472.7 391.5,472.5 392,472.1 392.5,471.8 393,471.7 393.5,472.1 394,472.6 394.5,473.4 395,473.8 395.5,473.4 396,473.3 396.5,473.3 397,473.2 397.5,471.1 398,464.8 398.5,456.2 399,448.3 399.5,443.7 400,442.2 400.5,441.7 401,441.6 401.5,441.9 402,442.7 402.5,444.9 403,450.1 403.5,457.6 404,465 404.5,470.2 405,473.2 405.5,475.7 406,478 406.5,478.9 407,479 407.5,479.2 408,479.4 408.5,479.5 409,479.1 409.5,478.8 410,478.5 410.5,478.7 411,479.4 411.5,479.4 412,479.2 412.5,479.7 413,479.7 413.5,479.4 414,479.5 414.5,479.4 415,479.3 415.5,479.2 416,479.2 416.5,479.4 417,479.6 417.5,479.7 418,479.8 418.5,479.5 419,479.4 419.5,479.5 420,479.6 420.5,479.5 421,479.4 421.5,479.4 422,479.3 422.5,477.7 423,471.6 423.5,462.1 424,453.3 424.5,448.1 425,445.8 425.5,444.4 426,443.6 426.5,445.6 427,450.9 427.5,457.4 428,463.4 428.5,468.2 429,470.5 429.5,471.1 430,470.8 430.5,470.5 431,470.7 431.5,470.5 432,470.2 432.5,470 433,470.1 433.5,469.7 434,469.5 434.5,469.5 435,469.2 435.5,469.2 436,469.5 436.5,468.3 437,464.7 437.5,460.4 438,456.1 438.5,452.6 439,449.8 439.5,447.4 440,445.4 440.5,444 441,445.5 441.5,449.8 442,454.5 442.5,458.6 443,461.4 443.5,460.1 444,455.6 444.5,450.7 445,445.7 445.5,440.2 446,433.9 446.5,427.5 447,421.1 447.5,415.5 448,411.5 448.5,408.4 449,405.6 449.5,403.3 450,402.1 450.5,403.5 451,405.9 451.5,407.9 452,410 452.5,413.1 453,418.3 453.5,424.5 454,430.8 454.5,437 455,442.7 455.5,447.1 456,450.9 456.5,454.7 457,458.4 457.5,462 458,465 458.5,467 459,468.2 459.5,469.2 460,470.1 460.5,471 461,471.9 461.5,472.2 462,472.6 462.5,472.8 463,472.7 463.5,472.2 464,472.2 464.5,472.7 465,473.4 465.5,474.5 466,475.5 466.5,476 467,476.1 467.5,476.7 468,477.1 468.5,476.9 469,476.9 469.5,477.4 470,478.1 470.5,478 471,478 471.5,477.7 472,476.4 472.5,473.5 473,470.3 473.5,467.5 474,464.2 474.5,460.3 475,455.9 475.5,451.4 476,447.6 476.5,445.7 477,444.9 477.5,444.7 478,444.4 478.5,444.2 479,444.6 479.5,446.2 480,447.8 480.5,449.3 481,451.3 481.5,453.3 482,455.3 482.5,456.8 483,456.8 483.5,454.8 484,452.1 484.5,449.5 485,446.7 485.5,444.1 486,441.9 486.5,441.1 487,443.4 487.5,447.1 488,450.4 488.5,454.4 489,459.5 489.5,465 490,470 490.5,473.1 491,474.8 491.5,476.1 492,477.3 492.5,478.3 493,478 493.5,477.3 494,476.8 494.5,476.3 495,476 495.5,476.1 496,475.9 496.5,475.3 497,475 497.5,475.2 498,475.6 498.5,476.2 499,476.6 499.5,477.2 500,477.7 500.5,474.3 501,464.9 501.5,454.3 502,446.5 502.5,443 503,441.5 503.5,440.1 504,439.5 504.5,439.6 505,440.2 505.5,441.4 506,445.5 506.5,453.6 507,462.5 507.5,469.1 508,472.4 508.5,473.1 509,473.3 509.5,472.9 510,472.1 510.5,471.5 511,471.1 511.5,471.5 512,472.8 512.5,473.4 513,473.3 513.5,473.6 514,474.1 514.5,473.9 515,473.2 515.5,468.4 516,459.7 516.5,450.6 517,443.7 517.5,440.8 518,440.2 518.5,439.8 519,439.7 519.5,440.2 520,441.4 520.5,445.3 521,452.6 521.5,461.2 522,468 522.5,471.3 523,474 523.5,476.7 524,478.5 524.5,479 525,479.2 525.5,479.1 526,479 526.5,479.1 527,479.2 527.5,478.9 528,478.9 528.5,479 529,479.1 529.5,479.2 530,479.3 530.5,479.3 531,479.3 531.5,479.4 532,479.4 532.5,479.8 533,479.7 533.5,479.5 534,479.6 534.5,479.4 535,479 535.5,479 536,479.4 536.5,479.5 537,479.2 537.5,479.4 538,479.4 538.5,479.4 539,479.6 539.5,479.3 540,477.1 540.5,470.5 541,461 541.5,451.9 542,446.2 542.5,443.9 543,442.6 543.5,441.7 544,441.6 544.5,442 545,442.7 545.5,445.3 546,451.2 546.5,459.1 547,466.5 547.5,471.1 548,472.5 548.5,472.9 549,472.7 549.5,471.9 550,471.5 550.5,471.5 551,471.8 551.5,472.1 552,472.6 552.5,473 553,473.3 553.5,472.9 554,472.9 554.5,473.1 555,471.1 555.5,465.3 556,457.8 556.5,451.1 557,447.4 557.5,446.1 558,445.5 558.5,445.5 559,446.1 559.5,446.5 560,448.5 560.5,452.9 561,459.1 561.5,465.8 562,470.6 562.5,473.6 563,475.9 563.5,477.3 564,478.4 564.5,478.8 565,479.1 565.5,479.4 566,479.3 566.5,479.2 567,478.8 567.5,478.6 568,478.6 568.5,479 569,479.1 569.5,479.2 570,479.2 570.5,479 571,479 571.5,479.3 572,479.6 572.5,479.7 573,479.8 573.5,479.7 574,479.2 574.5,478.7 575,478.8 575.5,479.1 576,479.5 576.5,479.8 577,479.8 577.5,479.9 578,480.1 578.5,480.1 579,479.1 579.5,474.6 580,465.4 580.5,455.1 581,447.4 581.5,443.5 582,441.9 582.5,440.9 583,440.1 583.5,439.9 584,440.3 584.5,442.1 585,446.6 585.5,454.6 586,463.4 586.5,469.7 587,472.3 587.5,472.7 588,472.9 588.5,472.8 589,472.2 589.5,471.8 590,471.6 590.5,471.8 591,472.6 591.5,473.3 592,473.4 592.5,473.4 593,473.1 593.5,473.3 594,473.2 594.5,471.5 595,465.6 595.5,455.6 596,445.1 596.5,437 597,433.6 597.5,433.1 598,432.9 598.5,432.9 599,433.2 599.5,434.6 600,440 600.5,449.3 601,459.5 601.5,467.9 602,472.2 602.5,474.1 603,476.1 603.5,477.4 604,477.8 604.5,477.9 605,477.6 605.5,477 606,476.2 606.5,475.1" fill="none" stroke="#9a1cc4" stroke-width="1.5" stroke-linejoin="round"/>
<polyline points="54.6,620.7 55.1,618.6 55.6,616.9 56.1,616.8 56.6,617.3 57.1,617.2 57.6,616.4 58.1,615.7 58.6,616.4 59.1,618.3 59.6,621.8 60.1,626.3 60.6,630.7 61.1,634.9 61.6,637.9 62.1,639.4 62.6,640 63.1,640.3 63.6,640.4 64.1,640.4 64.6,639.9 65.1,639.7 65.6,640.1 66.1,641 66.6,639.5 67.1,635 67.6,629.9 68.1,624.9 68.6,620.4 69.1,616 69.6,611.8 70.1,607.9 70.6,604.6 71.1,603.5 71.6,604.9 72.1,608.1 72.6,611.6 73.1,615 73.6,618.7 74.1,622.5 74.6,626.1 75.1,629.8 75.6,632.6 76.1,633.9 76.6,634.1 77.1,633.9 77.6,633.7 78.1,633.4 78.6,633.4 79.1,633.6 79.6,633.7 80.1,634.1 80.6,634.4 81.1,634.4 81.6,634.3 82.1,633.2 82.6,630.4 83.1,626.3 83.6,622.4 84.1,618.3 84.6,614.4 85.1,610.7 85.6,606.8 86.1,603.8 86.6,602.9 87.1,604 87.6,606.4 88.1,610.1 88.6,615.1 89.1,620.2 89.6,624.9 90.1,629.4 90.6,634 91.1,638.6 91.6,642.5 92.1,644.4 92.6,645 93.1,645.2 93.6,644.9 94.1,644.8 94.6,645 95.1,645.1 95.6,645.2 96.1,645 96.6,644.8 97.1,644.7 97.6,644.9 98.1,645.3 98.6,645.2 99.1,644.8 99.6,644.8 100.1,645 100.6,644.9 101.1,644.6 101.6,644.6 102.1,644.6 102.6,644.7 103.1,645.2 103.6,645.4 104.1,645.3 104.6,645.3 105.1,645.6 105.6,645.2 106.1,642.5 106.6,638 107.1,632.4 107.6,626.9 108.1,622 108.6,617.2 109.1,612.9 109.6,608.7 110.1,605.1 110.6,603.4 111.1,603.9 111.6,606.3 112.1,609.8 112.6,613.3 113.1,616.9 113.6,620.7 114.1,624.4 114.6,628.2 115.1,631.8 115.6,634.2 116.1,634.5 116.6,634.5 117.1,634.5 117.6,634.3 118.1,634.1 118.6,634 119.1,634.1 119.6,634.8 120.1,635.6 120.6,635.7 121.1,635.2 121.6,633.2 122.1,629.9 122.6,626.2 123.1,622.4 123.6,618.8 124.1,615.4 124.6,611.6 125.1,608.2 125.6,606 126.1,605.9 126.6,607.6 127.1,611.2 127.6,616 128.1,620.4 128.6,624.4 129.1,628.7 129.6,633.1 130.1,637.6 130.6,641.7 131.1,644.1 131.6,644.6 132.1,644.9 132.6,645 133.1,644.6 133.6,644.5 134.1,644.8 134.6,645.1 135.1,644.9 135.6,644.9 136.1,644.9 136.6,644.8 137.1,645 137.6,645.3 138.1,645.2 138.6,644.9 139.1,645.1 139.6,645.1 140.1,645 140.6,644.9 141.1,645 141.6,645.1 142.1,645.2 142.6,645.2 143.1,645.3 143.6,645.4 144.1,645.2 144.6,644.9 145.1,643.7 145.6,639.9 146.1,634.4 146.6,628.8 147.1,623.3 147.6,618 148.1,613.1 148.6,608.3 149.1,604.3 149.6,601.6 150.1,601.2 150.6,602.8 151.1,605.8 151.6,609.5 152.1,613.6 152.6,617.5 153.1,621.9 153.6,626.2 154.1,630.3 154.6,633.7 155.1,635.1 155.6,635.2 156.1,634.8 156.6,634.7 157.1,634.7 157.6,634.5 158.1,634.4 158.6,635.1 159.1,635.4 159.6,635.6 160.1,635.7 160.6,635.5 161.1,634.3 161.6,631.7 162.1,628.3 162.6,625 163.1,621.4 163.6,617.5 164.1,613.9 164.6,610.8 165.1,608.2 165.6,607 166.1,608.2 166.6,611.1 167.1,615.2 167.6,619.3 168.1,623 168.6,627 169.1,631.4 169.6,635.8 170.1,639.7 170.6,642.8 171.1,644.4 171.6,644.9 172.1,645 172.6,644.8 173.1,644.7 173.6,645 174.1,645.2 174.6,645.4 175.1,645.4 175.6,645.2 176.1,645 176.6,644.7 177.1,644.9 177.6,645.2 178.1,645.2 178.6,645.3 179.1,645.3 179.6,645.3 180.1,645.1 180.6,645.1 181.1,645.3 181.6,645.2 182.1,645.4 182.6,645.8 183.1,645.8 183.6,645.6 184.1,645.6 184.6,644.3 185.1,640.3 185.6,634.9 186.1,629 186.6,623.7 187.1,618.8 187.6,614.1 188.1,609.3 188.6,604.8 189.1,601.7 189.6,601.2 190.1,602.7 190.6,606 191.1,610 191.6,614.1 192.1,618.1 192.6,621.9 193.1,626.1 193.6,630.6 194.1,633.7 194.6,634.6 195.1,634.9 195.6,635 196.1,634.7 196.6,634.4 197.1,634.4 197.6,634.6 198.1,635.4 198.6,635.7 199.1,635.6 199.6,635.6 200.1,634.3 200.6,631.3 201.1,627.6 201.6,623.9 202.1,620.1 202.6,616.3 203.1,612.6 203.6,609.1 204.1,606.1 204.6,605 205.1,606.2 205.6,609.4 206.1,613.5 206.6,617.7 207.1,622.3 207.6,626.9 208.1,631.1 208.6,634.9 209.1,638.9 209.6,642.8 210.1,644.7 210.6,645 211.1,645 211.6,645.3 212.1,645.3 212.6,645.2 213.1,645 213.6,645.1 214.1,645.1 214.6,645 215.1,645 215.6,645.3 216.1,645.5 216.6,645.3 217.1,645.1 217.6,645.3 218.1,645.2 218.6,645.4 219.1,645.6 219.6,645.6 220.1,645.4 220.6,645.1 221.1,645.5 221.6,645.5 222.1,645.5 222.6,645.6 223.1,645.6 223.6,644.9 224.1,642.2 224.6,637.4 225.1,632.3 225.6,627 226.1,622.1 226.6,617.6 227.1,613.2 227.6,609.1 228.1,605.6 228.6,603.6 229.1,604.2 229.6,606.6 230.1,609.8 230.6,613.4 231.1,617.7 231.6,621.5 232.1,625.1 232.6,628.8 233.1,632.3 233.6,634.8 234.1,635.4 234.6,634.8 235.1,634.6 235.6,634.5 236.1,634.5 236.6,634.7 237.1,635 237.6,635 238.1,635.3 238.6,635.6 239.1,635.7 239.6,635.4 240.1,633.2 240.6,629.5 241.1,625.7 241.6,622.1 242.1,618.4 242.6,614.6 243.1,610.9 243.6,607.9 244.1,605.7 244.6,605.3 245.1,607.3 245.6,611.2 246.1,615.7 246.6,620.1 247.1,624.7 247.6,628.9 248.1,632.8 248.6,637 249.1,641.4 249.6,644.2 250.1,644.9 250.6,644.8 251.1,645.2 251.6,645.7 252.1,645.5 252.6,645 253.1,644.9 253.6,645.2 254.1,645.1 254.6,644.8 255.1,644.7 255.6,644.6 256.1,645 256.6,645.2 257.1,645.2 257.6,645.5 258.1,645.6 258.6,645.3 259.1,645.3 259.6,645 260.1,644.9 260.6,645.1 261.1,645.2 261.6,645 262.1,645.1 262.6,645.4 263.1,645.4 263.6,644 264.1,639.9 264.6,634.8 265.1,629.2 265.6,623.9 266.1,618.9 266.6,614 267.1,609.7 267.6,605.4 268.1,602.7 268.6,602.1 269.1,603.8 269.6,607 270.1,610.8 270.6,614.7 271.1,618.7 271.6,622.8 272.1,626.6 272.6,630.4 273.1,633.4 273.6,634.9 274.1,634.8 274.6,634.3 275.1,634.3 275.6,634.4 276.1,634.3 276.6,634.4 277.1,635.2 277.6,635.9 278.1,636.1 278.6,635.9 279.1,634.2 279.6,631.2 280.1,627.5 280.6,623.7 281.1,619.6 281.6,615.2 282.1,611.4 282.6,607.8 283.1,604.8 283.6,603.6 284.1,604.8 284.6,608.2 285.1,612.7 285.6,617.1 286.1,621.4 286.6,625.9 287.1,630.6 287.6,635 288.1,639.4 288.6,642.8 289.1,644.6 289.6,645.4 290.1,645.2 290.6,644.7 291.1,644.6 291.6,645 292.1,645.2 292.6,645.3 293.1,645.2 293.6,644.7 294.1,644.7 294.6,644.8 295.1,644.8 295.6,644.7 296.1,644.9 296.6,645.3 297.1,645.1 297.6,644.7 298.1,645.1 298.6,645.2 299.1,645.1 299.6,645.1 300.1,645.2 300.6,645.2 301.1,645.1 301.6,644.8 302.1,645 302.6,644.9 303.1,644.1 303.6,641.5 304.1,636.9 304.6,631.8 305.1,627.2 305.6,622.7 306.1,618 306.6,613.4 307.1,608.8 307.6,605.6 308.1,604.8 308.6,605.3 309.1,607.3 309.6,610.8 310.1,614.6 310.6,618.2 311.1,621.9 311.6,625.4 312.1,629 312.6,632.2 313.1,634.4 313.6,635.2 314.1,635.1 314.6,634.9 315.1,634.8 315.6,634.7 316.1,634.6 316.6,634.8 317.1,635.1 317.6,635.3 318.1,635.5 318.6,634.8 319.1,632.6 319.6,629.5 320.1,625.8 320.6,621.7 321.1,617.4 321.6,613.8 322.1,610 322.6,606.5 323.1,604.4 323.6,604.8 324.1,607.2 324.6,610.8 325.1,615.1 325.6,619.6 326.1,624.1 326.6,628.6 327.1,633.2 327.6,637.6 328.1,641.6 328.6,644 329.1,644.5 329.6,644.7 330.1,644.7 330.6,644.7 331.1,645 331.6,645.3 332.1,645.2 332.6,645.3 333.1,645.3 333.6,645.1 334.1,645 334.6,645.2 335.1,645.3 335.6,645 336.1,645.1 336.6,645.4 337.1,645.6 337.6,645.5 338.1,645.3 338.6,645 339.1,644.8 339.6,645 340.1,645.1 340.6,645.3 341.1,645.7 341.6,645.6 342.1,645.2 342.6,643.5 343.1,639.3 343.6,634 344.1,628.6 344.6,623.4 345.1,618.2 345.6,613.4 346.1,608.8 346.6,604.4 347.1,601.7 347.6,601.5 348.1,603 348.6,605.9 349.1,609.8 349.6,613.9 350.1,617.9 350.6,622.3 351.1,626.7 351.6,630.6 352.1,633.8 352.6,635.1 353.1,634.9 353.6,634.5 354.1,634.4 354.6,634.7 355.1,634.9 355.6,635 356.1,635.2 356.6,635.5 357.1,635.9 357.6,636 358.1,634.4 358.6,631.2 359.1,627.1 359.6,623 360.1,619 360.6,615.1 361.1,611.5 361.6,607.7 362.1,604.5 362.6,603.5 363.1,604.7 363.6,607.8 364.1,612 364.6,617 365.1,621.7 365.6,625.9 366.1,630.3 366.6,634.8 367.1,639.4 367.6,642.9 368.1,644.5 368.6,645 369.1,645.1 369.6,645 370.1,644.9 370.6,644.9 371.1,644.7 371.6,644.9 372.1,645 372.6,644.8 373.1,644.5 373.6,644.7 374.1,645.2 374.6,645.5 375.1,645.2 375.6,645 376.1,645.2 376.6,645.3 377.1,645.2 377.6,644.7 378.1,644.8 378.6,645.2 379.1,645.3 379.6,645.5 380.1,645.4 380.6,645.1 381.1,644.8 381.6,644.7 382.1,643.4 382.6,639.5 383.1,634.2 383.6,629.1 384.1,624.1 384.6,619.2 385.1,614.5 385.6,610.1 386.1,606 386.6,603.5 387.1,603.1 387.6,605.1 388.1,608 388.6,611.8 389.1,615.5 389.6,619 390.1,622.9 390.6,627 391.1,630.7 391.6,633.5 392.1,634.5 392.6,634.6 393.1,634.7 393.6,634.9 394.1,634.8 394.6,635 395.1,635.2 395.6,635.5 396.1,635.5 396.6,635.7 397.1,635.6 397.6,635 398.1,632.3 398.6,628.2 399.1,624.1 399.6,619.7 400.1,615.2 400.6,611.1 401.1,607.2 401.6,603.6 402.1,601.5 402.6,601.7 403.1,604.2 403.6,608.3 404.1,613 404.6,618 405.1,622.8 405.6,627.5 406.1,631.8 406.6,636.4 407.1,641.1 407.6,643.9 408.1,644.5 408.6,644.7 409.1,645 409.6,644.8 410.1,645 410.6,645.2 411.1,645 411.6,645.1 412.1,645.4 412.6,645.1 413.1,644.9 413.6,645.1 414.1,645.4 414.6,645.2 415.1,644.9 415.6,644.9 416.1,645.2 416.6,645.4 417.1,645.2 417.6,645.1 418.1,645.2 418.6,645.2 419.1,645.2 419.6,645.2 420.1,644.9 420.6,644.9 421.1,644.7 421.6,642.1 422.1,636.9 422.6,631.3 423.1,626.3 423.6,621.5 424.1,616.8 424.6,612.4 425.1,607.9 425.6,603.9 426.1,602.2 426.6,603.1 427.1,606 427.6,609.8 428.1,613.8 428.6,617.9 429.1,622 429.6,626.4 430.1,630.7 430.6,634 431.1,635.1 431.6,635.1 432.1,635 432.6,634.7 433.1,634.2 433.6,633.1 434.1,632.1 434.6,631.3 435.1,630.6 435.6,629.9 436.1,629.3 436.6,627.8 437.1,623.8 437.6,618.6 438.1,613.4 438.6,608.2 439.1,604 439.6,601.4 440.1,599.4 440.6,597.4 441.1,595.2 441.6,593.4 442.1,592.4 442.6,592 443.1,591.2 443.6,589.9 444.1,587.6 444.6,584.5 445.1,581.5 445.6,578.9 446.1,576.4 446.6,573.7 447.1,571.4 447.6,569.2 448.1,567 448.6,565 449.1,563.1 449.6,561.5 450.1,560.1 450.6,559.4 451.1,560.2 451.6,562.3 452.1,564.8 452.6,569.1 453.1,576.3 453.6,584.1 454.1,591.8 454.6,600 455.1,608.1 455.6,614.9 456.1,620.2 456.6,624.9 457.1,629.4 457.6,633.8 458.1,637.9 458.6,642 459.1,645 459.6,646.6 460.1,647 460.6,646.8 461.1,646.7 461.6,646.5 462.1,646 462.6,645.8 463.1,646.2 463.6,646.6 464.1,646.3 464.6,645.8 465.1,645.7 465.6,646 466.1,646.3 466.6,646.5 467.1,646.8 467.6,647.1 468.1,646.7 468.6,646.4 469.1,646.4 469.6,646.1 470.1,646.2 470.6,646.2 471.1,646 471.6,646.1 472.1,645.1 472.6,640.9 473.1,633.6 473.6,625.6 474.1,618.3 474.6,610.9 475.1,603.1 475.6,595.6 476.1,588.2 476.6,581 477.1,573.8 477.6,566.8 478.1,560.3 478.6,554.1 479.1,548.2 479.6,542.4 480.1,536.7 480.6,531.3 481.1,527.6 481.6,526.6 482.1,527.1 482.6,528 483.1,528.9 483.6,530.1 484.1,532.5 484.6,536.3 485.1,540.4 485.6,544.8 486.1,549.7 486.6,554.3 487.1,560.1 487.6,567.5 488.1,575.5 488.6,584 489.1,592.4 489.6,601 490.1,609.9 490.6,618.5 491.1,625.9 491.6,631.7 492.1,636.1 492.6,639.4 493.1,640.7 493.6,641.2 494.1,641.6 494.6,641.9 495.1,642.2 495.6,642.6 496.1,642.6 496.6,642.3 497.1,642.3 497.6,642.4 498.1,642.3 498.6,642 499.1,641.7 499.6,641.9 500.1,642.3 500.6,641.8 501.1,638.1 501.6,630.3 502.1,622.2 502.6,615.8 503.1,610.4 503.6,605.1 504.1,600.4 504.6,597.9 505.1,597.8 505.6,600.1 506.1,603.6 506.6,607.6 507.1,612.3 507.6,617.1 508.1,621.5 508.6,625.8 509.1,630.2 509.6,633.6 510.1,635.1 510.6,635.2 511.1,635.2 511.6,635 512.1,634.8 512.6,635.1 513.1,635.4 513.6,635.5 514.1,635.5 514.6,635.7 515.1,635.3 515.6,633.5 516.1,630.4 516.6,626.2 517.1,621.8 517.6,617.9 518.1,614 518.6,609.6 519.1,605.5 519.6,602.9 520.1,602.1 520.6,603.2 521.1,606.5 521.6,611.6 522.1,616.3 522.6,620.7 523.1,625.6 523.6,630.2 524.1,634.8 524.6,639.3 525.1,642.9 525.6,644.4 526.1,644.7 526.6,644.9 527.1,645.2 527.6,645.4 528.1,645.4 528.6,645.3 529.1,645.6 529.6,645.6 530.1,645.3 530.6,644.9 531.1,644.8 531.6,645 532.1,645.1 532.6,644.8 533.1,645 533.6,645.2 534.1,645 534.6,644.8 535.1,645.1 535.6,645.3 536.1,645.1 536.6,645 537.1,645.3 537.6,645.4 538.1,645.6 538.6,645.7 539.1,645.4 539.6,644.5 540.1,641.6 540.6,636.8 541.1,631.7 541.6,626.8 542.1,622 542.6,617.5 543.1,612.8 543.6,608.2 544.1,604.8 544.6,603.6 545.1,604.4 545.6,607 546.1,610.4 546.6,614.1 547.1,618.2 547.6,622.1 548.1,625.9 548.6,629.2 549.1,632.5 549.6,634.7 550.1,635.2 550.6,634.9 551.1,634.3 551.6,633.9 552.1,633.9 552.6,634.2 553.1,634.4 553.6,634.9 554.1,635 554.6,635 555.1,634.6 555.6,632.4 556.1,629 556.6,625.7 557.1,622.4 557.6,618.8 558.1,614.7 558.6,611.2 559.1,608.2 559.6,606.5 560.1,606.7 560.6,609 561.1,612.8 561.6,617 562.1,621.4 562.6,625.7 563.1,629.6 563.6,633.6 564.1,638.2 564.6,642.2 565.1,644.5 565.6,645.1 566.1,645.1 566.6,645 567.1,645.2 567.6,645 568.1,644.8 568.6,644.9 569.1,645.1 569.6,645 570.1,645.1 570.6,645.4 571.1,645.5 571.6,645.4 572.1,645.1 572.6,644.9 573.1,644.9 573.6,645 574.1,645.1 574.6,645.5 575.1,645.7 575.6,645.7 576.1,645.4 576.6,645.1 577.1,645.3 577.6,645.1 578.1,645 578.6,644.9 579.1,642.8 579.6,638.2 580.1,632.5 580.6,626.8 581.1,621.1 581.6,615.7 582.1,610.8 582.6,605.7 583.1,600.9 583.6,598.1 584.1,598.3 584.6,600.7 585.1,604.5 585.6,608.5 586.1,612.6 586.6,617.2 587.1,621.6 587.6,625.9 588.1,630.3 588.6,633.6 589.1,635.1 589.6,635.2 590.1,634.9 590.6,634.7 591.1,634.3 591.6,634.7 592.1,635.2 592.6,635.2 593.1,635.5 593.6,635.9 594.1,636 594.6,635.4 595.1,633.4 595.6,629.9 596.1,625.1 596.6,620.5 597.1,616 597.6,611.5 598.1,606.6 598.6,602.1 599.1,599 599.6,598 600.1,599.9 600.6,604.1 601.1,609.7 601.6,615.6 602.1,621.6 602.6,627.9 603.1,634 603.6,639.3 604.1,643.1 604.6,644.5 605.1,644.9 605.6,645.1 606.1,645.3" fill="none" stroke="#69ad26" stroke-width="1.5" stroke-linejoin="round"/>
<polyline points="54.6,625.5 55.1,625.2 55.6,625.4 56.1,626.3 56.6,626.9 57.1,626.9 57.6,626.8 58.1,626.9 58.6,627.4 59.1,628.7 59.6,632.1 60.1,637.2 60.6,640.7 61.1,641.7 61.6,642.1 62.1,642.8 62.6,643.2 63.1,643.1 63.6,643.4 64.1,643.6 64.6,643.7 65.1,643.7 65.6,643.7 66.1,643.1 66.6,639.9 67.1,634.9 67.6,629.8 68.1,625.1 68.6,620.6 69.1,615.9 69.6,611.4 70.1,607.3 70.6,604.6 71.1,604.1 71.6,605.7 72.1,609 72.6,612.9 73.1,616.8 73.6,620.9 74.1,625.5 74.6,629.8 75.1,633.8 75.6,637.1 76.1,638.6 76.6,638.8 77.1,638.9 77.6,638.6 78.1,638.7 78.6,638.7 79.1,638.4 79.6,638.4 80.1,638.8 80.6,639.2 81.1,639.3 81.6,638.9 82.1,637.7 82.6,634.6 83.1,630.4 83.6,625.8 84.1,620.8 84.6,616.2 85.1,611.8 85.6,607.3 86.1,603.8 86.6,602.5 87.1,603.5 87.6,606.7 88.1,610.8 88.6,614.9 89.1,619.4 89.6,624.2 90.1,629 90.6,634 91.1,638.5 91.6,642.3 92.1,644.4 92.6,644.9 93.1,644.9 93.6,644.9 94.1,644.8 94.6,645 95.1,644.9 95.6,644.9 96.1,644.6 96.6,644.5 97.1,644.5 97.6,644.7 98.1,644.8 98.6,645 99.1,645.3 99.6,645.4 100.1,645.4 100.6,645 101.1,644.9 101.6,645 102.1,645.2 102.6,645.2 103.1,645.2 103.6,645.1 104.1,645.1 104.6,645.3 105.1,645 105.6,644.4 106.1,642 106.6,637.8 107.1,632.8 107.6,627.4 108.1,622.2 108.6,617.6 109.1,613.1 109.6,608.6 110.1,604.9 110.6,603.1 111.1,603.4 111.6,605.8 112.1,609.6 112.6,613.8 113.1,617.8 113.6,622 114.1,625.9 114.6,630 115.1,633.9 115.6,636.6 116.1,637.2 116.6,637.2 117.1,637.2 117.6,637 118.1,636.6 118.6,636.7 119.1,636.9 119.6,637.1 120.1,637.1 120.6,637.4 121.1,637.3 121.6,635.2 122.1,631.7 122.6,627.7 123.1,623.5 123.6,619.8 124.1,616.2 124.6,612.4 125.1,608.9 125.6,606.6 126.1,606.4 126.6,608.2 127.1,611.7 127.6,615.9 128.1,620 128.6,624.4 129.1,629 129.6,633.4 130.1,637.4 130.6,641.1 131.1,643.7 131.6,644.3 132.1,644.4 132.6,644.7 133.1,644.7 133.6,644.7 134.1,644.7 134.6,644.8 135.1,644.6 135.6,644.5 136.1,644.6 136.6,644.4 137.1,644.7 137.6,644.8 138.1,644.9 138.6,644.9 139.1,644.6 139.6,644.6 140.1,645.1 140.6,645.1 141.1,645.2 141.6,645.4 142.1,645.3 142.6,645.2 143.1,644.8 143.6,644.6 144.1,644.8 144.6,645 145.1,643.8 145.6,639.8 146.1,634.3 146.6,628.8 147.1,623.8 147.6,618.7 148.1,613.2 148.6,608.4 149.1,603.9 149.6,600.9 150.1,600.8 150.6,602.8 151.1,606 151.6,610 152.1,614.3 152.6,618.8 153.1,623.3 153.6,627.7 154.1,632 154.6,635.4 155.1,637 155.6,637.4 156.1,637.4 156.6,637.5 157.1,637.4 157.6,637.2 158.1,637 158.6,637.2 159.1,637.5 159.6,637.4 160.1,637.6 160.6,637.5 161.1,636.1 161.6,633.5 162.1,630.2 162.6,626.3 163.1,622.2 163.6,618.5 164.1,615 164.6,611.5 165.1,608.2 165.6,606.6 166.1,607.9 166.6,611.1 167.1,614.9 167.6,618.8 168.1,623 168.6,627.2 169.1,631.2 169.6,635.1 170.1,639.2 170.6,642.4 171.1,644.3 171.6,645.2 172.1,645.2 172.6,645 173.1,644.8 173.6,644.8 174.1,644.8 174.6,644.5 175.1,644.6 175.6,645 176.1,645.4 176.6,645.2 177.1,644.4 177.6,644.2 178.1,644.5 178.6,644.8 179.1,645.1 179.6,645.2 180.1,645.2 180.6,645.1 181.1,645.1 181.6,644.8 182.1,644.6 182.6,645.2 183.1,645.5 183.6,645 184.1,644.6 184.6,643.4 185.1,639.7 185.6,634.4 186.1,628.7 186.6,623.3 187.1,618.3 187.6,613.3 188.1,608.8 188.6,604.8 189.1,602 189.6,601.3 190.1,603 190.6,606.4 191.1,610.3 191.6,614.5 192.1,619 192.6,623.5 193.1,627.9 193.6,632.4 194.1,635.9 194.6,637.3 195.1,637.2 195.6,637 196.1,637 196.6,636.9 197.1,636.9 197.6,637 198.1,637 198.6,637.2 199.1,637.7 199.6,637.9 200.1,636.5 200.6,633.4 201.1,629.5 201.6,625.4 202.1,620.9 202.6,616.9 203.1,613.1 203.6,609.4 204.1,606.7 204.6,605.6 205.1,606.4 205.6,609 206.1,613 206.6,617.5 207.1,622.1 207.6,627 208.1,631.4 208.6,635.3 209.1,639.2 209.6,642.9 210.1,644.6 210.6,644.7 211.1,644.9 211.6,645 212.1,644.7 212.6,645 213.1,645.2 213.6,645 214.1,644.7 214.6,644.7 215.1,644.7 215.6,644.7 216.1,644.6 216.6,644.5 217.1,644.7 217.6,644.9 218.1,644.7 218.6,644.5 219.1,644.5 219.6,644.4 220.1,644.6 220.6,644.9 221.1,645.3 221.6,645 222.1,644.5 222.6,644.7 223.1,645.3 223.6,644.7 224.1,642 224.6,637.3 225.1,632.3 225.6,626.9 226.1,622.2 226.6,617.7 227.1,612.8 227.6,608.4 228.1,605.2 228.6,603.7 229.1,603.9 229.6,606.5 230.1,610.4 230.6,614.5 231.1,618.7 231.6,622.8 232.1,626.6 232.6,630.6 233.1,634.1 233.6,636.6 234.1,637.5 234.6,637.5 235.1,637.4 235.6,636.8 236.1,636.6 236.6,636.8 237.1,637 237.6,637.1 238.1,637.6 238.6,638.1 239.1,637.8 239.6,636.7 240.1,634.6 240.6,631.3 241.1,627.4 241.6,623.5 242.1,619.4 242.6,615.2 243.1,611.5 243.6,608.2 244.1,606.1 244.6,605.8 245.1,607.7 245.6,611.3 246.1,615.8 246.6,620.1 247.1,624.4 247.6,628.7 248.1,632.8 248.6,637.2 249.1,641.1 249.6,643.6 250.1,644.8 250.6,645 251.1,645.1 251.6,644.9 252.1,644.8 252.6,644.8 253.1,644.8 253.6,644.9 254.1,644.8 254.6,644.8 255.1,644.8 255.6,645.1 256.1,644.8 256.6,644.5 257.1,644.7 257.6,645 258.1,645.1 258.6,645 259.1,645.2 259.6,645.1 260.1,644.9 260.6,645.2 261.1,645.2 261.6,645.1 262.1,644.9 262.6,644.7 263.1,644.8 263.6,643.5 264.1,639.4 264.6,634.1 265.1,628.8 265.6,624.1 266.1,619.5 266.6,614.3 267.1,609.5 267.6,605.2 268.1,602.4 268.6,602.2 269.1,603.9 269.6,606.8 270.1,611 270.6,615.4 271.1,619.7 271.6,623.6 272.1,627.7 272.6,632.3 273.1,635.8 273.6,637 274.1,636.9 274.6,636.8 275.1,636.8 275.6,636.5 276.1,636.4 276.6,636.6 277.1,637.2 277.6,637.9 278.1,638 278.6,637.7 279.1,636.1 279.6,633 280.1,628.9 280.6,624.7 281.1,620.8 281.6,617.1 282.1,612.8 282.6,608.7 283.1,605.6 283.6,604.3 284.1,605.2 284.6,608.5 285.1,612.8 285.6,617 286.1,621.5 286.6,625.9 287.1,630.3 287.6,634.8 288.1,639.2 288.6,642.8 289.1,644.4 289.6,644.7 290.1,644.7 290.6,644.9 291.1,645 291.6,644.5 292.1,644.7 292.6,645.1 293.1,645 293.6,644.7 294.1,644.9 294.6,644.9 295.1,644.6 295.6,644.6 296.1,644.8 296.6,644.8 297.1,645.2 297.6,645.3 298.1,645 298.6,644.7 299.1,644.8 299.6,644.9 300.1,644.6 300.6,644.6 301.1,644.8 301.6,644.7 302.1,645.2 302.6,645.7 303.1,644.9 303.6,641.9 304.1,637.2 304.6,632.2 305.1,627 305.6,622.5 306.1,618.1 306.6,613.5 307.1,609.3 307.6,605.8 308.1,604.1 308.6,604.9 309.1,607.6 309.6,611.1 310.1,614.9 310.6,619.2 311.1,623.3 311.6,627.2 312.1,631.3 312.6,635.1 313.1,637.3 313.6,637.6 314.1,637.4 314.6,637.3 315.1,636.9 315.6,636.6 316.1,636.8 316.6,637.3 317.1,637.5 317.6,638 318.1,638.1 318.6,637 319.1,634.4 319.6,630.9 320.1,627.2 320.6,623.3 321.1,618.8 321.6,614.3 322.1,610.1 322.6,606.5 323.1,604.3 323.6,604.4 324.1,607 324.6,611 325.1,615.5 325.6,619.9 326.1,623.9 326.6,628 327.1,632.6 327.6,637.1 328.1,640.9 328.6,643.6 329.1,644.7 329.6,644.6 330.1,644.3 330.6,644.5 331.1,644.8 331.6,644.6 332.1,644.5 332.6,644.6 333.1,644.9 333.6,645.1 334.1,644.7 334.6,644.4 335.1,644.4 335.6,644.5 336.1,644.4 336.6,644.6 337.1,644.8 337.6,644.8 338.1,644.9 338.6,644.8 339.1,645 339.6,645.1 340.1,645 340.6,645 341.1,645.3 341.6,645.3 342.1,644.8 342.6,643.1 343.1,639.3 343.6,634 344.1,628.4 344.6,623.1 345.1,618.3 345.6,613.3 346.1,608.4 346.6,604.2 347.1,601.1 347.6,600.6 348.1,602.8 348.6,606.4 349.1,610.5 349.6,614.9 350.1,619.3 350.6,623.8 351.1,628.4 351.6,632.8 352.1,635.9 352.6,637 353.1,637.3 353.6,637.2 354.1,637.2 354.6,637.2 355.1,637.1 355.6,637 356.1,637 356.6,637.5 357.1,638 357.6,637.8 358.1,635.8 358.6,632.4 359.1,628.4 359.6,624.3 360.1,620.1 360.6,616.2 361.1,612.4 361.6,608.3 362.1,604.9 362.6,603.6 363.1,604.9 363.6,607.8 364.1,611.9 364.6,616.7 365.1,621.3 365.6,625.7 366.1,630.1 366.6,634.8 367.1,639.3 367.6,642.6 368.1,644.2 368.6,644.6 369.1,644.4 369.6,644.6 370.1,645 370.6,645.1 371.1,644.8 371.6,644.8 372.1,644.9 372.6,644.9 373.1,644.7 373.6,644.4 374.1,644.6 374.6,645 375.1,644.9 375.6,644.6 376.1,644.6 376.6,644.6 377.1,644.7 377.6,644.6 378.1,644.6 378.6,644.5 379.1,644.5 379.6,644.6 380.1,644.7 380.6,644.7 381.1,644.9 381.6,645.1 382.1,643.6 382.6,639.5 383.1,634.3 383.6,628.7 384.1,623.5 384.6,618.9 385.1,614.7 385.6,610.2 386.1,606.1 386.6,603.4 387.1,603.2 387.6,605.2 388.1,608.5 388.6,612.6 389.1,616.8 389.6,620.8 390.1,624.4 390.6,628.5 391.1,633 391.6,636.2 392.1,637.3 392.6,637.1 393.1,636.8 393.6,636.9 394.1,636.8 394.6,636.6 395.1,636.7 395.6,637.4 396.1,637.8 396.6,637.7 397.1,637.8 397.6,637 398.1,634.1 398.6,630.2 399.1,625.7 399.6,621.1 400.1,616.9 400.6,612.3 401.1,607.6 401.6,603.8 402.1,601.8 402.6,601.9 403.1,604.1 403.6,608.1 404.1,612.8 404.6,617.6 405.1,622.5 405.6,627.5 406.1,632.3 406.6,637.1 407.1,641.8 407.6,644.6 408.1,645 408.6,645 409.1,644.9 409.6,645 410.1,644.9 410.6,644.8 411.1,644.9 411.6,644.9 412.1,644.9 412.6,645.1 413.1,645.3 413.6,645.4 414.1,645.4 414.6,645.6 415.1,645.4 415.6,645.1 416.1,645 416.6,644.9 417.1,644.8 417.6,644.7 418.1,644.6 418.6,644.6 419.1,645.2 419.6,645.3 420.1,644.8 420.6,644.6 421.1,644.1 421.6,641.5 422.1,637 422.6,631.7 423.1,626.3 423.6,621.5 424.1,616.7 424.6,611.9 425.1,607.4 425.6,603.7 426.1,602.3 426.6,603.6 427.1,606.5 427.6,610.2 428.1,614.6 428.6,619 429.1,623.2 429.6,627.6 430.1,631.7 430.6,634.9 431.1,635.9 431.6,635.5 432.1,635.2 432.6,635.1 433.1,635.1 433.6,634.6 434.1,634 434.6,633.7 435.1,633.8 435.6,633.6 436.1,632.9 436.6,632.6 437.1,632.7 437.6,633.1 438.1,633.3 438.6,631.9 439.1,627.8 439.6,622.8 440.1,617.8 440.6,612.8 441.1,607.8 441.6,604.1 442.1,604.4 442.6,608 443.1,612.1 443.6,616.3 444.1,620.8 444.6,624.6 445.1,626.8 445.6,624.9 446.1,619.8 446.6,614 447.1,608.2 447.6,602.7 448.1,597.5 448.6,591.8 449.1,586.6 449.6,581.6 450.1,576.8 450.6,572 451.1,567.6 451.6,565.5 452.1,567.2 452.6,570.2 453.1,573.9 453.6,578.9 454.1,584.6 454.6,590.5 455.1,596.4 455.6,602.6 456.1,609.2 456.6,615.6 457.1,620.3 457.6,622.9 458.1,624.8 458.6,626.8 459.1,628.8 459.6,631.2 460.1,633.4 460.6,635.2 461.1,636.5 461.6,636.9 462.1,637.1 462.6,637.1 463.1,636.9 463.6,636.6 464.1,636.4 464.6,636.5 465.1,636.5 465.6,636.8 466.1,637.4 466.6,638.2 467.1,639 467.6,639.9 468.1,640.6 468.6,641 469.1,641.6 469.6,641.7 470.1,642 470.6,641.6 471.1,640.4 471.6,639.3 472.1,638.3 472.6,637.1 473.1,635 473.6,632.8 474.1,630.7 474.6,628.2 475.1,625.5 475.6,622.6 476.1,620.3 476.6,619 477.1,617.8 477.6,616.2 478.1,614.7 478.6,613.2 479.1,611.9 479.6,611 480.1,610.1 480.6,609.6 481.1,610.5 481.6,612.7 482.1,614.9 482.6,616.7 483.1,618.1 483.6,618.8 484.1,618.1 484.6,616.5 485.1,614.5 485.6,612.6 486.1,610.8 486.6,608.5 487.1,606 487.6,604.4 488.1,604.6 488.6,607.3 489.1,611.1 489.6,614.5 490.1,618.1 490.6,622.4 491.1,626.8 491.6,631.2 492.1,635.8 492.6,639.3 493.1,640.9 493.6,641.3 494.1,641.7 494.6,642.4 495.1,643 495.6,643.3 496.1,643.5 496.6,643.6 497.1,643.8 497.6,644 498.1,643.7 498.6,643 499.1,643 499.6,642.9 500.1,642.6 500.6,641.6 501.1,637.5 501.6,629.5 502.1,621.9 502.6,616 503.1,610.5 503.6,605.2 504.1,600.7 504.6,597.8 505.1,597.3 505.6,599.4 506.1,603.3 506.6,608.1 507.1,613.4 507.6,618.1 508.1,622.5 508.6,627 509.1,631.7 509.6,635.3 510.1,637.1 510.6,637.2 511.1,636.9 511.6,636.8 512.1,637.1 512.6,637.2 513.1,637.2 513.6,637.3 514.1,637.4 514.6,637.4 515.1,637.3 515.6,635.9 516.1,632.2 516.6,627.7 517.1,623.5 517.6,619 518.1,614.8 518.6,610.4 519.1,606.5 519.6,603.6 520.1,602.3 520.6,603.5 521.1,606.8 521.6,611.4 522.1,616.1 522.6,620.7 523.1,625.4 523.6,630 524.1,634.9 524.6,639.4 525.1,642.7 525.6,644.1 526.1,644.4 526.6,644.5 527.1,644.6 527.6,644.6 528.1,644.5 528.6,644.7 529.1,644.8 529.6,644.7 530.1,644.6 530.6,644.5 531.1,644.4 531.6,644.4 532.1,644.4 532.6,644.5 533.1,644.5 533.6,644.6 534.1,644.7 534.6,644.6 535.1,644.6 535.6,644.7 536.1,644.8 536.6,645 537.1,645.1 537.6,645.1 538.1,645.1 538.6,645.2 539.1,644.9 539.6,644 540.1,641.1 540.6,636.5 541.1,631.6 541.6,626.7 542.1,621.8 542.6,617.4 543.1,612.5 543.6,608.4 544.1,605.7 544.6,604.4 545.1,605.1 545.6,607.5 546.1,611.1 546.6,615.1 547.1,619.6 547.6,623.7 548.1,627.2 548.6,631.1 549.1,635 549.6,637.1 550.1,637.2 550.6,636.9 551.1,636.9 551.6,636.8 552.1,636.5 552.6,636.6 553.1,637 553.6,637.2 554.1,637.1 554.6,637 555.1,636.7 555.6,634.6 556.1,631 556.6,627.2 557.1,623.1 557.6,619.2 558.1,615.4 558.6,611.4 559.1,608.3 559.6,606.2 560.1,606.1 560.6,608.6 561.1,612.4 561.6,617 562.1,621.6 562.6,626.1 563.1,629.9 563.6,633.6 564.1,637.2 564.6,641.1 565.1,643.8 565.6,644.4 566.1,644.7 566.6,644.9 567.1,644.4 567.6,644.5 568.1,645 568.6,645.4 569.1,645.2 569.6,645 570.1,645 570.6,645 571.1,645.2 571.6,645.2 572.1,645 572.6,645 573.1,645 573.6,645 574.1,645.1 574.6,644.9 575.1,645.1 575.6,645.1 576.1,645.1 576.6,645.3 577.1,645.5 577.6,645.5 578.1,645.1 578.6,644.6 579.1,642.9 579.6,638.5 580.1,632.8 580.6,627 581.1,621.4 581.6,615.8 582.1,610.6 582.6,605.9 583.1,601.6 583.6,598.9 584.1,598.8 584.6,600.6 585.1,604.1 585.6,608.5 586.1,613.2 586.6,618.2 587.1,623 587.6,627.5 588.1,632 588.6,635.7 589.1,637.1 589.6,637 590.1,636.7 590.6,636.5 591.1,636.4 591.6,636.7 592.1,637.1 592.6,637.3 593.1,637.6 593.6,638.1 594.1,638.2 594.6,637.4 595.1,635.7 595.6,631.8 596.1,627 596.6,622.1 597.1,617.2 597.6,612.3 598.1,607.2 598.6,602.5 599.1,599 599.6,597.8 600.1,599.8 600.6,604.4 601.1,610 601.6,615.7 602.1,621.5 602.6,627.9 603.1,633.6 603.6,638.7 604.1,642.4 604.6,643.9 605.1,644.2 605.6,644.5 606.1,644.6" fill="none" stroke="#9a1cc4" stroke-width="1.5" stroke-linejoin="round"/>
<rect x="425.6" y="361.9" width="208.2" height="21.1" rx="2.5" fill="#fff" fill-opacity="0.8" stroke="#d9d9d9" stroke-width="0.9"/>
<path d="M429.8 371.2H454.4" stroke="#69ad26" stroke-width="1.7"/>
<path d="M537 371.2H561.9" stroke="#9a1cc4" stroke-width="1.7"/>
<text x="464" y="376.1" font-size="12" textLength="49.5" lengthAdjust="spacingAndGlyphs">LSTM-AE</text>
<text x="571.5" y="376.1" font-size="12" textLength="57" lengthAdjust="spacingAndGlyphs">LSTM-VAE</text>
<rect x="425.6" y="527.5" width="208.2" height="21.1" rx="2.5" fill="#fff" fill-opacity="0.8" stroke="#d9d9d9" stroke-width="0.9"/>
<path d="M429.8 536.8H454.4" stroke="#69ad26" stroke-width="1.7"/>
<path d="M537 536.8H561.9" stroke="#9a1cc4" stroke-width="1.7"/>
<text x="464" y="540.8" font-size="12" textLength="49.5" lengthAdjust="spacingAndGlyphs">LSTM-AE</text>
<text x="571.5" y="540.8" font-size="12" textLength="57" lengthAdjust="spacingAndGlyphs">LSTM-VAE</text>
<rect x="510.3" y="550.3" width="41.7" height="16.9" rx="3" fill="#dfead5"/>
<text x="517.5" y="565.2" font-size="17" textLength="30.2" lengthAdjust="spacingAndGlyphs">RS1</text>
<path d="M508.3 558.1H494" stroke="#000" stroke-width="1.8"/>
<path d="M491.1 558.1L497 555L495.6 558.1L497 561.2Z" fill="#000" stroke="#000" stroke-width="0.8"/>
</svg></body></html>
